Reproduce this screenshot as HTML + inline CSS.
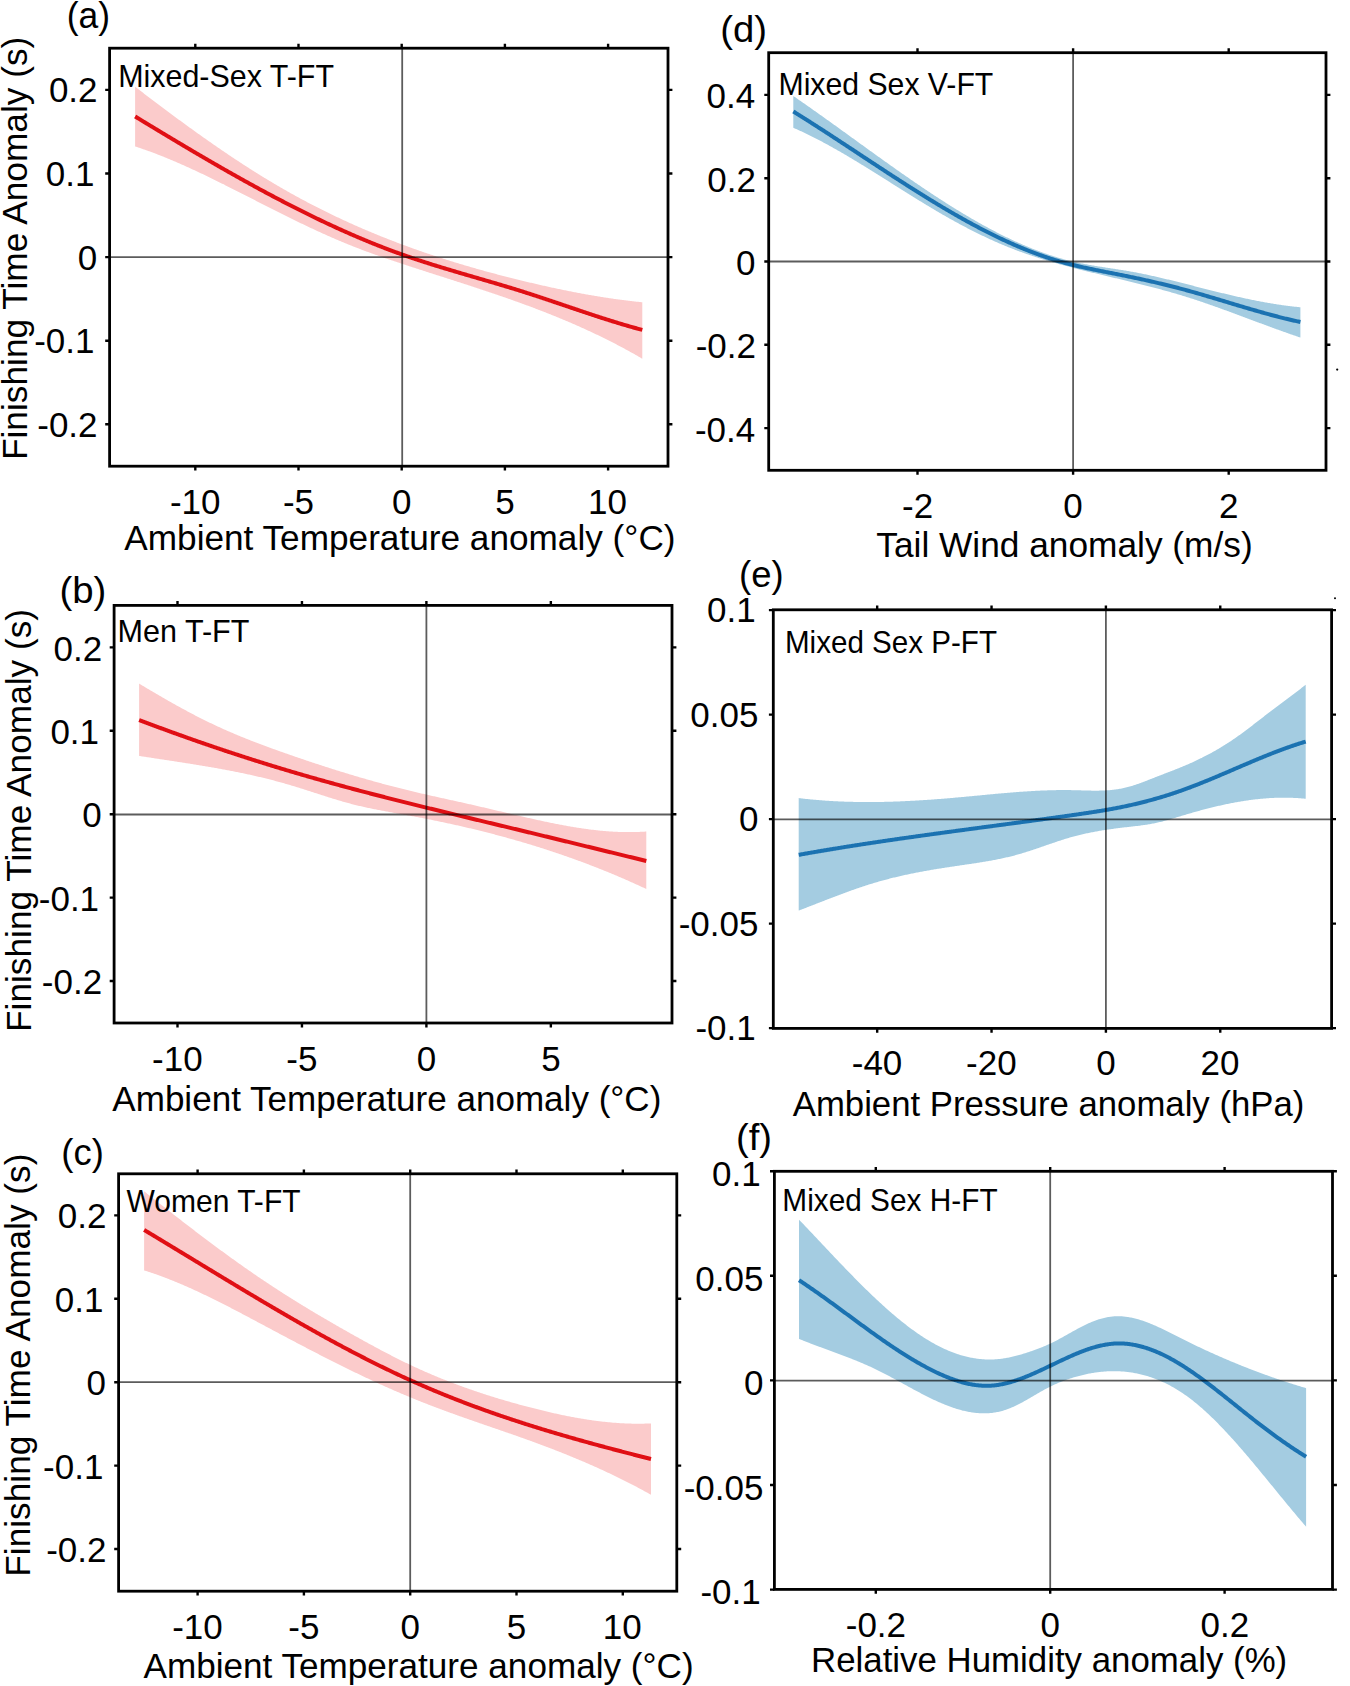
<!DOCTYPE html>
<html><head><meta charset="utf-8"><title>Figure</title>
<style>
html,body{margin:0;padding:0;background:#fff;}
body{width:1350px;height:1686px;overflow:hidden;}
svg{display:block;}
text{font-family:"Liberation Sans", sans-serif;fill:#000;}
.tl{font-size:35.00px;}
.al{font-size:35.00px;}
.pl{font-size:36.00px;}
.il{font-size:30.30px;}
</style></head>
<body>
<svg width="1350" height="1686" viewBox="0 0 1350 1686">
<rect x="0" y="0" width="1350" height="1686" fill="#fff"/>
<path d="M135.10,86.73 L136.10,87.50 L137.10,88.27 L138.10,89.03 L139.10,89.80 L140.10,90.57 L141.10,91.33 L142.10,92.10 L143.10,92.86 L144.10,93.63 L145.10,94.39 L146.10,95.15 L147.10,95.92 L148.11,96.68 L149.11,97.44 L150.11,98.20 L151.11,98.96 L152.11,99.72 L153.11,100.47 L154.11,101.23 L155.11,101.99 L156.11,102.74 L157.11,103.50 L158.11,104.25 L159.11,105.00 L160.11,105.76 L161.11,106.51 L162.11,107.26 L163.11,108.01 L164.11,108.76 L165.11,109.51 L166.11,110.25 L167.11,111.00 L168.11,111.75 L169.11,112.49 L170.11,113.23 L171.11,113.98 L172.11,114.72 L173.11,115.46 L174.12,116.20 L175.12,116.94 L176.12,117.68 L177.12,118.41 L178.12,119.15 L179.12,119.89 L180.12,120.62 L181.12,121.35 L182.12,122.08 L183.12,122.82 L184.12,123.55 L185.12,124.27 L186.12,125.00 L187.12,125.73 L188.12,126.45 L189.12,127.18 L190.12,127.90 L191.12,128.62 L192.12,129.35 L193.12,130.07 L194.12,130.78 L195.12,131.50 L196.12,132.22 L197.12,132.93 L198.12,133.65 L199.13,134.36 L200.13,135.07 L201.13,135.78 L202.13,136.49 L203.13,137.20 L204.13,137.91 L205.13,138.61 L206.13,139.32 L207.13,140.02 L208.13,140.72 L209.13,141.42 L210.13,142.12 L211.13,142.82 L212.13,143.51 L213.13,144.21 L214.13,144.90 L215.13,145.60 L216.13,146.29 L217.13,146.98 L218.13,147.66 L219.13,148.35 L220.13,149.04 L221.13,149.72 L222.13,150.40 L223.13,151.08 L224.14,151.76 L225.14,152.44 L226.14,153.12 L227.14,153.79 L228.14,154.47 L229.14,155.14 L230.14,155.81 L231.14,156.48 L232.14,157.15 L233.14,157.81 L234.14,158.48 L235.14,159.14 L236.14,159.80 L237.14,160.46 L238.14,161.12 L239.14,161.77 L240.14,162.43 L241.14,163.08 L242.14,163.73 L243.14,164.38 L244.14,165.03 L245.14,165.68 L246.14,166.32 L247.14,166.97 L248.14,167.61 L249.14,168.25 L250.15,168.89 L251.15,169.52 L252.15,170.16 L253.15,170.79 L254.15,171.42 L255.15,172.05 L256.15,172.68 L257.15,173.30 L258.15,173.93 L259.15,174.55 L260.15,175.17 L261.15,175.79 L262.15,176.40 L263.15,177.02 L264.15,177.63 L265.15,178.24 L266.15,178.85 L267.15,179.46 L268.15,180.06 L269.15,180.67 L270.15,181.27 L271.15,181.87 L272.15,182.47 L273.15,183.06 L274.15,183.66 L275.16,184.25 L276.16,184.84 L277.16,185.43 L278.16,186.01 L279.16,186.60 L280.16,187.18 L281.16,187.76 L282.16,188.33 L283.16,188.91 L284.16,189.48 L285.16,190.06 L286.16,190.62 L287.16,191.19 L288.16,191.76 L289.16,192.32 L290.16,192.88 L291.16,193.44 L292.16,194.00 L293.16,194.56 L294.16,195.11 L295.16,195.66 L296.16,196.21 L297.16,196.76 L298.16,197.31 L299.16,197.85 L300.17,198.39 L301.17,198.93 L302.17,199.47 L303.17,200.01 L304.17,200.54 L305.17,201.07 L306.17,201.60 L307.17,202.13 L308.17,202.66 L309.17,203.18 L310.17,203.71 L311.17,204.23 L312.17,204.75 L313.17,205.27 L314.17,205.78 L315.17,206.30 L316.17,206.81 L317.17,207.32 L318.17,207.83 L319.17,208.33 L320.17,208.84 L321.17,209.34 L322.17,209.84 L323.17,210.34 L324.17,210.84 L325.17,211.33 L326.18,211.83 L327.18,212.32 L328.18,212.81 L329.18,213.30 L330.18,213.78 L331.18,214.27 L332.18,214.75 L333.18,215.23 L334.18,215.71 L335.18,216.19 L336.18,216.67 L337.18,217.14 L338.18,217.61 L339.18,218.08 L340.18,218.55 L341.18,219.02 L342.18,219.49 L343.18,219.95 L344.18,220.41 L345.18,220.87 L346.18,221.33 L347.18,221.79 L348.18,222.25 L349.18,222.70 L350.18,223.15 L351.19,223.60 L352.19,224.05 L353.19,224.50 L354.19,224.95 L355.19,225.39 L356.19,225.83 L357.19,226.27 L358.19,226.71 L359.19,227.15 L360.19,227.59 L361.19,228.02 L362.19,228.45 L363.19,228.88 L364.19,229.31 L365.19,229.74 L366.19,230.17 L367.19,230.59 L368.19,231.02 L369.19,231.44 L370.19,231.86 L371.19,232.28 L372.19,232.69 L373.19,233.11 L374.19,233.52 L375.19,233.94 L376.20,234.35 L377.20,234.76 L378.20,235.16 L379.20,235.57 L380.20,235.98 L381.20,236.38 L382.20,236.78 L383.20,237.18 L384.20,237.58 L385.20,237.98 L386.20,238.37 L387.20,238.77 L388.20,239.16 L389.20,239.55 L390.20,239.94 L391.20,240.33 L392.20,240.72 L393.20,241.10 L394.20,241.49 L395.20,241.87 L396.20,242.25 L397.20,242.63 L398.20,243.01 L399.20,243.39 L400.20,243.77 L401.20,244.14 L402.21,244.51 L403.21,244.89 L404.21,245.26 L405.21,245.62 L406.21,245.99 L407.21,246.36 L408.21,246.72 L409.21,247.09 L410.21,247.45 L411.21,247.81 L412.21,248.17 L413.21,248.53 L414.21,248.88 L415.21,249.24 L416.21,249.59 L417.21,249.95 L418.21,250.30 L419.21,250.65 L420.21,251.00 L421.21,251.35 L422.21,251.69 L423.21,252.04 L424.21,252.38 L425.21,252.73 L426.21,253.07 L427.22,253.41 L428.22,253.75 L429.22,254.08 L430.22,254.42 L431.22,254.75 L432.22,255.09 L433.22,255.42 L434.22,255.75 L435.22,256.08 L436.22,256.41 L437.22,256.74 L438.22,257.07 L439.22,257.39 L440.22,257.72 L441.22,258.04 L442.22,258.36 L443.22,258.68 L444.22,259.00 L445.22,259.32 L446.22,259.64 L447.22,259.95 L448.22,260.27 L449.22,260.58 L450.22,260.89 L451.22,261.21 L452.23,261.52 L453.23,261.82 L454.23,262.13 L455.23,262.44 L456.23,262.75 L457.23,263.05 L458.23,263.35 L459.23,263.66 L460.23,263.96 L461.23,264.26 L462.23,264.56 L463.23,264.86 L464.23,265.15 L465.23,265.45 L466.23,265.74 L467.23,266.04 L468.23,266.33 L469.23,266.62 L470.23,266.91 L471.23,267.20 L472.23,267.49 L473.23,267.78 L474.23,268.07 L475.23,268.35 L476.23,268.64 L477.23,268.92 L478.24,269.20 L479.24,269.48 L480.24,269.76 L481.24,270.04 L482.24,270.32 L483.24,270.60 L484.24,270.88 L485.24,271.15 L486.24,271.43 L487.24,271.70 L488.24,271.97 L489.24,272.24 L490.24,272.52 L491.24,272.79 L492.24,273.05 L493.24,273.32 L494.24,273.59 L495.24,273.86 L496.24,274.12 L497.24,274.39 L498.24,274.65 L499.24,274.91 L500.24,275.17 L501.24,275.44 L502.24,275.70 L503.25,275.95 L504.25,276.21 L505.25,276.47 L506.25,276.73 L507.25,276.98 L508.25,277.24 L509.25,277.49 L510.25,277.74 L511.25,278.00 L512.25,278.25 L513.25,278.50 L514.25,278.75 L515.25,279.00 L516.25,279.25 L517.25,279.49 L518.25,279.74 L519.25,279.98 L520.25,280.23 L521.25,280.47 L522.25,280.72 L523.25,280.96 L524.25,281.20 L525.25,281.44 L526.25,281.68 L527.25,281.92 L528.26,282.16 L529.26,282.40 L530.26,282.64 L531.26,282.87 L532.26,283.11 L533.26,283.34 L534.26,283.58 L535.26,283.81 L536.26,284.04 L537.26,284.27 L538.26,284.50 L539.26,284.73 L540.26,284.96 L541.26,285.19 L542.26,285.42 L543.26,285.64 L544.26,285.87 L545.26,286.09 L546.26,286.31 L547.26,286.54 L548.26,286.76 L549.26,286.98 L550.26,287.20 L551.26,287.41 L552.26,287.63 L553.26,287.85 L554.27,288.06 L555.27,288.28 L556.27,288.49 L557.27,288.70 L558.27,288.91 L559.27,289.12 L560.27,289.33 L561.27,289.54 L562.27,289.75 L563.27,289.95 L564.27,290.16 L565.27,290.36 L566.27,290.57 L567.27,290.77 L568.27,290.97 L569.27,291.17 L570.27,291.37 L571.27,291.56 L572.27,291.76 L573.27,291.96 L574.27,292.15 L575.27,292.34 L576.27,292.53 L577.27,292.72 L578.27,292.91 L579.28,293.10 L580.28,293.29 L581.28,293.47 L582.28,293.66 L583.28,293.84 L584.28,294.02 L585.28,294.21 L586.28,294.39 L587.28,294.56 L588.28,294.74 L589.28,294.92 L590.28,295.09 L591.28,295.27 L592.28,295.44 L593.28,295.61 L594.28,295.78 L595.28,295.95 L596.28,296.11 L597.28,296.28 L598.28,296.44 L599.28,296.61 L600.28,296.77 L601.28,296.93 L602.28,297.09 L603.28,297.25 L604.29,297.40 L605.29,297.56 L606.29,297.71 L607.29,297.86 L608.29,298.01 L609.29,298.16 L610.29,298.31 L611.29,298.46 L612.29,298.60 L613.29,298.75 L614.29,298.89 L615.29,299.03 L616.29,299.17 L617.29,299.31 L618.29,299.44 L619.29,299.58 L620.29,299.71 L621.29,299.85 L622.29,299.98 L623.29,300.11 L624.29,300.23 L625.29,300.36 L626.29,300.48 L627.29,300.61 L628.29,300.73 L629.29,300.85 L630.30,300.97 L631.30,301.08 L632.30,301.20 L633.30,301.31 L634.30,301.42 L635.30,301.54 L636.30,301.64 L637.30,301.75 L638.30,301.86 L639.30,301.96 L640.30,302.06 L641.30,302.16 L642.30,302.26 L642.30,358.71 L641.30,358.13 L640.30,357.55 L639.30,356.97 L638.30,356.40 L637.30,355.83 L636.30,355.26 L635.30,354.69 L634.30,354.12 L633.30,353.56 L632.30,353.00 L631.30,352.44 L630.30,351.89 L629.29,351.34 L628.29,350.79 L627.29,350.24 L626.29,349.69 L625.29,349.15 L624.29,348.61 L623.29,348.07 L622.29,347.54 L621.29,347.00 L620.29,346.47 L619.29,345.94 L618.29,345.42 L617.29,344.89 L616.29,344.37 L615.29,343.85 L614.29,343.33 L613.29,342.82 L612.29,342.31 L611.29,341.80 L610.29,341.29 L609.29,340.78 L608.29,340.28 L607.29,339.78 L606.29,339.28 L605.29,338.78 L604.29,338.28 L603.28,337.79 L602.28,337.30 L601.28,336.81 L600.28,336.32 L599.28,335.84 L598.28,335.35 L597.28,334.87 L596.28,334.39 L595.28,333.92 L594.28,333.44 L593.28,332.97 L592.28,332.50 L591.28,332.03 L590.28,331.56 L589.28,331.10 L588.28,330.63 L587.28,330.17 L586.28,329.71 L585.28,329.26 L584.28,328.80 L583.28,328.35 L582.28,327.89 L581.28,327.44 L580.28,327.00 L579.28,326.55 L578.27,326.11 L577.27,325.66 L576.27,325.22 L575.27,324.78 L574.27,324.34 L573.27,323.91 L572.27,323.47 L571.27,323.04 L570.27,322.61 L569.27,322.18 L568.27,321.75 L567.27,321.33 L566.27,320.90 L565.27,320.48 L564.27,320.06 L563.27,319.64 L562.27,319.22 L561.27,318.81 L560.27,318.39 L559.27,317.98 L558.27,317.57 L557.27,317.16 L556.27,316.75 L555.27,316.34 L554.27,315.94 L553.26,315.53 L552.26,315.13 L551.26,314.73 L550.26,314.33 L549.26,313.93 L548.26,313.53 L547.26,313.14 L546.26,312.74 L545.26,312.35 L544.26,311.96 L543.26,311.57 L542.26,311.18 L541.26,310.79 L540.26,310.41 L539.26,310.02 L538.26,309.64 L537.26,309.26 L536.26,308.88 L535.26,308.50 L534.26,308.12 L533.26,307.74 L532.26,307.36 L531.26,306.99 L530.26,306.62 L529.26,306.24 L528.26,305.87 L527.25,305.50 L526.25,305.13 L525.25,304.76 L524.25,304.40 L523.25,304.03 L522.25,303.67 L521.25,303.30 L520.25,302.94 L519.25,302.58 L518.25,302.22 L517.25,301.86 L516.25,301.50 L515.25,301.14 L514.25,300.78 L513.25,300.43 L512.25,300.07 L511.25,299.72 L510.25,299.37 L509.25,299.01 L508.25,298.66 L507.25,298.31 L506.25,297.96 L505.25,297.61 L504.25,297.27 L503.25,296.92 L502.24,296.57 L501.24,296.23 L500.24,295.88 L499.24,295.54 L498.24,295.20 L497.24,294.85 L496.24,294.51 L495.24,294.17 L494.24,293.83 L493.24,293.49 L492.24,293.15 L491.24,292.81 L490.24,292.48 L489.24,292.14 L488.24,291.80 L487.24,291.47 L486.24,291.13 L485.24,290.80 L484.24,290.47 L483.24,290.13 L482.24,289.80 L481.24,289.47 L480.24,289.14 L479.24,288.81 L478.24,288.47 L477.23,288.14 L476.23,287.82 L475.23,287.49 L474.23,287.16 L473.23,286.83 L472.23,286.50 L471.23,286.17 L470.23,285.85 L469.23,285.52 L468.23,285.19 L467.23,284.87 L466.23,284.54 L465.23,284.22 L464.23,283.89 L463.23,283.57 L462.23,283.24 L461.23,282.92 L460.23,282.60 L459.23,282.27 L458.23,281.95 L457.23,281.63 L456.23,281.30 L455.23,280.98 L454.23,280.66 L453.23,280.34 L452.23,280.02 L451.22,279.69 L450.22,279.37 L449.22,279.05 L448.22,278.73 L447.22,278.41 L446.22,278.09 L445.22,277.77 L444.22,277.44 L443.22,277.12 L442.22,276.80 L441.22,276.48 L440.22,276.16 L439.22,275.84 L438.22,275.52 L437.22,275.20 L436.22,274.88 L435.22,274.56 L434.22,274.23 L433.22,273.91 L432.22,273.59 L431.22,273.27 L430.22,272.95 L429.22,272.63 L428.22,272.31 L427.22,271.98 L426.21,271.66 L425.21,271.34 L424.21,271.02 L423.21,270.69 L422.21,270.37 L421.21,270.05 L420.21,269.72 L419.21,269.40 L418.21,269.08 L417.21,268.75 L416.21,268.43 L415.21,268.10 L414.21,267.78 L413.21,267.45 L412.21,267.13 L411.21,266.80 L410.21,266.48 L409.21,266.15 L408.21,265.82 L407.21,265.49 L406.21,265.17 L405.21,264.84 L404.21,264.51 L403.21,264.18 L402.21,263.85 L401.20,263.52 L400.20,263.19 L399.20,262.86 L398.20,262.52 L397.20,262.19 L396.20,261.86 L395.20,261.52 L394.20,261.19 L393.20,260.85 L392.20,260.52 L391.20,260.18 L390.20,259.84 L389.20,259.50 L388.20,259.16 L387.20,258.82 L386.20,258.48 L385.20,258.14 L384.20,257.79 L383.20,257.45 L382.20,257.10 L381.20,256.75 L380.20,256.41 L379.20,256.06 L378.20,255.70 L377.20,255.35 L376.20,255.00 L375.19,254.64 L374.19,254.29 L373.19,253.93 L372.19,253.57 L371.19,253.21 L370.19,252.84 L369.19,252.48 L368.19,252.11 L367.19,251.74 L366.19,251.38 L365.19,251.00 L364.19,250.63 L363.19,250.26 L362.19,249.88 L361.19,249.50 L360.19,249.12 L359.19,248.74 L358.19,248.35 L357.19,247.97 L356.19,247.58 L355.19,247.19 L354.19,246.79 L353.19,246.40 L352.19,246.00 L351.19,245.60 L350.18,245.20 L349.18,244.80 L348.18,244.39 L347.18,243.99 L346.18,243.58 L345.18,243.17 L344.18,242.75 L343.18,242.34 L342.18,241.92 L341.18,241.50 L340.18,241.08 L339.18,240.66 L338.18,240.23 L337.18,239.81 L336.18,239.38 L335.18,238.95 L334.18,238.52 L333.18,238.08 L332.18,237.65 L331.18,237.21 L330.18,236.77 L329.18,236.33 L328.18,235.89 L327.18,235.44 L326.18,235.00 L325.17,234.55 L324.17,234.10 L323.17,233.65 L322.17,233.20 L321.17,232.75 L320.17,232.29 L319.17,231.84 L318.17,231.38 L317.17,230.92 L316.17,230.46 L315.17,230.00 L314.17,229.53 L313.17,229.07 L312.17,228.60 L311.17,228.13 L310.17,227.66 L309.17,227.19 L308.17,226.72 L307.17,226.25 L306.17,225.78 L305.17,225.30 L304.17,224.82 L303.17,224.35 L302.17,223.87 L301.17,223.39 L300.17,222.90 L299.16,222.42 L298.16,221.94 L297.16,221.45 L296.16,220.97 L295.16,220.48 L294.16,219.99 L293.16,219.50 L292.16,219.01 L291.16,218.52 L290.16,218.03 L289.16,217.54 L288.16,217.05 L287.16,216.55 L286.16,216.05 L285.16,215.56 L284.16,215.06 L283.16,214.56 L282.16,214.06 L281.16,213.56 L280.16,213.06 L279.16,212.56 L278.16,212.06 L277.16,211.56 L276.16,211.05 L275.16,210.55 L274.15,210.05 L273.15,209.54 L272.15,209.03 L271.15,208.53 L270.15,208.02 L269.15,207.51 L268.15,207.01 L267.15,206.50 L266.15,205.99 L265.15,205.48 L264.15,204.97 L263.15,204.46 L262.15,203.95 L261.15,203.44 L260.15,202.93 L259.15,202.42 L258.15,201.91 L257.15,201.40 L256.15,200.89 L255.15,200.37 L254.15,199.86 L253.15,199.35 L252.15,198.84 L251.15,198.33 L250.15,197.82 L249.14,197.31 L248.14,196.79 L247.14,196.28 L246.14,195.77 L245.14,195.26 L244.14,194.75 L243.14,194.24 L242.14,193.73 L241.14,193.22 L240.14,192.71 L239.14,192.20 L238.14,191.69 L237.14,191.18 L236.14,190.68 L235.14,190.17 L234.14,189.66 L233.14,189.16 L232.14,188.65 L231.14,188.14 L230.14,187.64 L229.14,187.14 L228.14,186.63 L227.14,186.13 L226.14,185.63 L225.14,185.13 L224.14,184.62 L223.13,184.12 L222.13,183.63 L221.13,183.13 L220.13,182.63 L219.13,182.13 L218.13,181.64 L217.13,181.14 L216.13,180.65 L215.13,180.16 L214.13,179.67 L213.13,179.17 L212.13,178.69 L211.13,178.20 L210.13,177.71 L209.13,177.22 L208.13,176.74 L207.13,176.26 L206.13,175.77 L205.13,175.29 L204.13,174.81 L203.13,174.33 L202.13,173.86 L201.13,173.38 L200.13,172.91 L199.13,172.43 L198.12,171.96 L197.12,171.49 L196.12,171.02 L195.12,170.56 L194.12,170.09 L193.12,169.63 L192.12,169.17 L191.12,168.71 L190.12,168.25 L189.12,167.79 L188.12,167.34 L187.12,166.88 L186.12,166.43 L185.12,165.98 L184.12,165.54 L183.12,165.09 L182.12,164.65 L181.12,164.20 L180.12,163.76 L179.12,163.33 L178.12,162.89 L177.12,162.46 L176.12,162.02 L175.12,161.59 L174.12,161.17 L173.11,160.74 L172.11,160.32 L171.11,159.90 L170.11,159.48 L169.11,159.06 L168.11,158.65 L167.11,158.24 L166.11,157.83 L165.11,157.42 L164.11,157.02 L163.11,156.61 L162.11,156.21 L161.11,155.82 L160.11,155.42 L159.11,155.03 L158.11,154.64 L157.11,154.25 L156.11,153.87 L155.11,153.49 L154.11,153.11 L153.11,152.73 L152.11,152.36 L151.11,151.99 L150.11,151.62 L149.11,151.26 L148.11,150.89 L147.10,150.53 L146.10,150.18 L145.10,149.82 L144.10,149.47 L143.10,149.13 L142.10,148.78 L141.10,148.44 L140.10,148.10 L139.10,147.77 L138.10,147.44 L137.10,147.11 L136.10,146.78 L135.10,146.46 Z" fill="#fbcbcb"/>
<path d="M135.10,116.47 L136.10,117.08 L137.10,117.69 L138.10,118.30 L139.10,118.91 L140.10,119.52 L141.10,120.13 L142.10,120.74 L143.10,121.34 L144.10,121.95 L145.10,122.56 L146.10,123.17 L147.10,123.77 L148.11,124.38 L149.11,124.99 L150.11,125.59 L151.11,126.20 L152.11,126.81 L153.11,127.41 L154.11,128.02 L155.11,128.62 L156.11,129.23 L157.11,129.83 L158.11,130.44 L159.11,131.04 L160.11,131.64 L161.11,132.25 L162.11,132.85 L163.11,133.45 L164.11,134.05 L165.11,134.66 L166.11,135.26 L167.11,135.86 L168.11,136.46 L169.11,137.06 L170.11,137.66 L171.11,138.26 L172.11,138.86 L173.11,139.46 L174.12,140.06 L175.12,140.66 L176.12,141.25 L177.12,141.85 L178.12,142.45 L179.12,143.04 L180.12,143.64 L181.12,144.24 L182.12,144.83 L183.12,145.43 L184.12,146.02 L185.12,146.61 L186.12,147.21 L187.12,147.80 L188.12,148.39 L189.12,148.99 L190.12,149.58 L191.12,150.17 L192.12,150.76 L193.12,151.35 L194.12,151.94 L195.12,152.53 L196.12,153.12 L197.12,153.70 L198.12,154.29 L199.13,154.88 L200.13,155.46 L201.13,156.05 L202.13,156.63 L203.13,157.22 L204.13,157.80 L205.13,158.39 L206.13,158.97 L207.13,159.55 L208.13,160.13 L209.13,160.72 L210.13,161.30 L211.13,161.88 L212.13,162.45 L213.13,163.03 L214.13,163.61 L215.13,164.19 L216.13,164.77 L217.13,165.34 L218.13,165.92 L219.13,166.49 L220.13,167.07 L221.13,167.64 L222.13,168.21 L223.13,168.78 L224.14,169.36 L225.14,169.93 L226.14,170.50 L227.14,171.07 L228.14,171.63 L229.14,172.20 L230.14,172.77 L231.14,173.34 L232.14,173.90 L233.14,174.47 L234.14,175.03 L235.14,175.59 L236.14,176.16 L237.14,176.72 L238.14,177.28 L239.14,177.84 L240.14,178.40 L241.14,178.96 L242.14,179.52 L243.14,180.07 L244.14,180.63 L245.14,181.19 L246.14,181.74 L247.14,182.30 L248.14,182.85 L249.14,183.40 L250.15,183.95 L251.15,184.50 L252.15,185.05 L253.15,185.60 L254.15,186.15 L255.15,186.70 L256.15,187.24 L257.15,187.79 L258.15,188.33 L259.15,188.88 L260.15,189.42 L261.15,189.96 L262.15,190.50 L263.15,191.04 L264.15,191.58 L265.15,192.12 L266.15,192.66 L267.15,193.19 L268.15,193.73 L269.15,194.26 L270.15,194.80 L271.15,195.33 L272.15,195.86 L273.15,196.39 L274.15,196.92 L275.16,197.45 L276.16,197.98 L277.16,198.50 L278.16,199.03 L279.16,199.55 L280.16,200.08 L281.16,200.60 L282.16,201.12 L283.16,201.64 L284.16,202.16 L285.16,202.68 L286.16,203.20 L287.16,203.72 L288.16,204.23 L289.16,204.74 L290.16,205.26 L291.16,205.77 L292.16,206.28 L293.16,206.79 L294.16,207.30 L295.16,207.81 L296.16,208.31 L297.16,208.82 L298.16,209.32 L299.16,209.83 L300.17,210.33 L301.17,210.83 L302.17,211.33 L303.17,211.83 L304.17,212.33 L305.17,212.82 L306.17,213.32 L307.17,213.81 L308.17,214.31 L309.17,214.80 L310.17,215.29 L311.17,215.78 L312.17,216.26 L313.17,216.75 L314.17,217.24 L315.17,217.72 L316.17,218.21 L317.17,218.69 L318.17,219.17 L319.17,219.65 L320.17,220.13 L321.17,220.60 L322.17,221.08 L323.17,221.55 L324.17,222.03 L325.17,222.50 L326.18,222.97 L327.18,223.44 L328.18,223.91 L329.18,224.37 L330.18,224.84 L331.18,225.30 L332.18,225.77 L333.18,226.23 L334.18,226.69 L335.18,227.15 L336.18,227.60 L337.18,228.06 L338.18,228.52 L339.18,228.97 L340.18,229.42 L341.18,229.87 L342.18,230.32 L343.18,230.77 L344.18,231.22 L345.18,231.66 L346.18,232.10 L347.18,232.55 L348.18,232.99 L349.18,233.43 L350.18,233.87 L351.19,234.30 L352.19,234.74 L353.19,235.17 L354.19,235.60 L355.19,236.04 L356.19,236.47 L357.19,236.89 L358.19,237.32 L359.19,237.74 L360.19,238.17 L361.19,238.59 L362.19,239.01 L363.19,239.43 L364.19,239.85 L365.19,240.26 L366.19,240.68 L367.19,241.09 L368.19,241.50 L369.19,241.91 L370.19,242.32 L371.19,242.73 L372.19,243.13 L373.19,243.54 L374.19,243.94 L375.19,244.34 L376.20,244.74 L377.20,245.14 L378.20,245.53 L379.20,245.93 L380.20,246.32 L381.20,246.71 L382.20,247.10 L383.20,247.49 L384.20,247.88 L385.20,248.26 L386.20,248.64 L387.20,249.03 L388.20,249.41 L389.20,249.78 L390.20,250.16 L391.20,250.54 L392.20,250.91 L393.20,251.28 L394.20,251.65 L395.20,252.02 L396.20,252.38 L397.20,252.75 L398.20,253.11 L399.20,253.47 L400.20,253.83 L401.20,254.19 L402.21,254.55 L403.21,254.90 L404.21,255.25 L405.21,255.61 L406.21,255.96 L407.21,256.30 L408.21,256.65 L409.21,256.99 L410.21,257.34 L411.21,257.68 L412.21,258.02 L413.21,258.36 L414.21,258.69 L415.21,259.03 L416.21,259.36 L417.21,259.70 L418.21,260.03 L419.21,260.36 L420.21,260.69 L421.21,261.01 L422.21,261.34 L423.21,261.66 L424.21,261.99 L425.21,262.31 L426.21,262.63 L427.22,262.95 L428.22,263.27 L429.22,263.59 L430.22,263.91 L431.22,264.22 L432.22,264.54 L433.22,264.85 L434.22,265.16 L435.22,265.47 L436.22,265.78 L437.22,266.09 L438.22,266.40 L439.22,266.71 L440.22,267.02 L441.22,267.32 L442.22,267.63 L443.22,267.93 L444.22,268.24 L445.22,268.54 L446.22,268.84 L447.22,269.14 L448.22,269.44 L449.22,269.74 L450.22,270.04 L451.22,270.34 L452.23,270.64 L453.23,270.94 L454.23,271.24 L455.23,271.53 L456.23,271.83 L457.23,272.13 L458.23,272.42 L459.23,272.72 L460.23,273.01 L461.23,273.30 L462.23,273.60 L463.23,273.89 L464.23,274.18 L465.23,274.48 L466.23,274.77 L467.23,275.06 L468.23,275.35 L469.23,275.65 L470.23,275.94 L471.23,276.23 L472.23,276.52 L473.23,276.81 L474.23,277.10 L475.23,277.40 L476.23,277.69 L477.23,277.98 L478.24,278.27 L479.24,278.56 L480.24,278.85 L481.24,279.14 L482.24,279.44 L483.24,279.73 L484.24,280.02 L485.24,280.31 L486.24,280.60 L487.24,280.90 L488.24,281.19 L489.24,281.48 L490.24,281.77 L491.24,282.07 L492.24,282.36 L493.24,282.66 L494.24,282.95 L495.24,283.25 L496.24,283.54 L497.24,283.84 L498.24,284.13 L499.24,284.43 L500.24,284.73 L501.24,285.03 L502.24,285.33 L503.25,285.62 L504.25,285.92 L505.25,286.22 L506.25,286.53 L507.25,286.83 L508.25,287.13 L509.25,287.43 L510.25,287.74 L511.25,288.04 L512.25,288.35 L513.25,288.65 L514.25,288.96 L515.25,289.27 L516.25,289.58 L517.25,289.89 L518.25,290.20 L519.25,290.51 L520.25,290.83 L521.25,291.14 L522.25,291.45 L523.25,291.77 L524.25,292.09 L525.25,292.41 L526.25,292.73 L527.25,293.05 L528.26,293.37 L529.26,293.69 L530.26,294.01 L531.26,294.34 L532.26,294.66 L533.26,294.99 L534.26,295.31 L535.26,295.64 L536.26,295.97 L537.26,296.30 L538.26,296.63 L539.26,296.96 L540.26,297.29 L541.26,297.62 L542.26,297.95 L543.26,298.29 L544.26,298.62 L545.26,298.95 L546.26,299.29 L547.26,299.62 L548.26,299.96 L549.26,300.29 L550.26,300.63 L551.26,300.97 L552.26,301.30 L553.26,301.64 L554.27,301.98 L555.27,302.32 L556.27,302.66 L557.27,302.99 L558.27,303.33 L559.27,303.67 L560.27,304.01 L561.27,304.35 L562.27,304.69 L563.27,305.03 L564.27,305.37 L565.27,305.71 L566.27,306.05 L567.27,306.39 L568.27,306.73 L569.27,307.07 L570.27,307.40 L571.27,307.74 L572.27,308.08 L573.27,308.42 L574.27,308.76 L575.27,309.10 L576.27,309.44 L577.27,309.77 L578.27,310.11 L579.28,310.45 L580.28,310.79 L581.28,311.12 L582.28,311.46 L583.28,311.79 L584.28,312.13 L585.28,312.46 L586.28,312.80 L587.28,313.13 L588.28,313.47 L589.28,313.80 L590.28,314.13 L591.28,314.46 L592.28,314.79 L593.28,315.12 L594.28,315.45 L595.28,315.78 L596.28,316.11 L597.28,316.43 L598.28,316.76 L599.28,317.08 L600.28,317.41 L601.28,317.73 L602.28,318.06 L603.28,318.38 L604.29,318.70 L605.29,319.02 L606.29,319.34 L607.29,319.65 L608.29,319.97 L609.29,320.28 L610.29,320.60 L611.29,320.91 L612.29,321.22 L613.29,321.53 L614.29,321.84 L615.29,322.15 L616.29,322.46 L617.29,322.76 L618.29,323.07 L619.29,323.37 L620.29,323.67 L621.29,323.97 L622.29,324.27 L623.29,324.57 L624.29,324.86 L625.29,325.16 L626.29,325.45 L627.29,325.74 L628.29,326.03 L629.29,326.32 L630.30,326.61 L631.30,326.89 L632.30,327.17 L633.30,327.45 L634.30,327.73 L635.30,328.01 L636.30,328.29 L637.30,328.56 L638.30,328.83 L639.30,329.10 L640.30,329.37 L641.30,329.64 L642.30,329.90" fill="none" stroke="#e00f14" stroke-width="4.00" stroke-linejoin="round"/>
<path d="M109.60,257.10 H668.00" stroke="#000" stroke-opacity="0.64" stroke-width="1.80" fill="none"/>
<path d="M402.20,48.20 V466.20" stroke="#000" stroke-opacity="0.64" stroke-width="1.80" fill="none"/>
<rect x="109.60" y="48.20" width="558.40" height="418.00" fill="none" stroke="#000" stroke-width="2.80"/>
<path d="M195.30,466.20 v4.40 M195.30,48.20 v-4.40 M298.50,466.20 v4.40 M298.50,48.20 v-4.40 M401.70,466.20 v4.40 M401.70,48.20 v-4.40 M504.90,466.20 v4.40 M504.90,48.20 v-4.40 M608.10,466.20 v4.40 M608.10,48.20 v-4.40 M109.60,424.30 h-4.40 M668.00,424.30 h4.40 M109.60,340.70 h-4.40 M668.00,340.70 h4.40 M109.60,257.10 h-4.40 M668.00,257.10 h4.40 M109.60,173.50 h-4.40 M668.00,173.50 h4.40 M109.60,89.90 h-4.40 M668.00,89.90 h4.40" stroke="#000" stroke-width="2.4" fill="none"/>
<text transform="translate(169.88,513.70) scale(1,1.015)" class="tl">-10</text>
<text transform="translate(282.88,513.70) scale(1,1.015)" class="tl">-5</text>
<text transform="translate(391.94,513.70) scale(1,1.015)" class="tl">0</text>
<text transform="translate(495.19,513.70) scale(1,1.015)" class="tl">5</text>
<text transform="translate(588.02,513.70) scale(1,1.015)" class="tl">10</text>
<text transform="translate(37.26,436.85) scale(1,1.015)" class="tl">-0.2</text>
<text transform="translate(34.18,353.25) scale(1,1.015)" class="tl">-0.1</text>
<text transform="translate(77.69,269.65) scale(1,1.015)" class="tl">0</text>
<text transform="translate(45.81,186.05) scale(1,1.015)" class="tl">0.1</text>
<text transform="translate(48.90,102.45) scale(1,1.015)" class="tl">0.2</text>
<text transform="translate(124.31,549.60) scale(1,1.020)" x="0" y="0" class="al" textLength="551.22" lengthAdjust="spacingAndGlyphs">Ambient Temperature anomaly (°C)</text>
<text transform="translate(26.70,460.01) rotate(-90) scale(1,1.020)" x="0" y="0" class="al" textLength="423.29" lengthAdjust="spacingAndGlyphs">Finishing Time Anomaly (s)</text>
<text transform="translate(66.78,28.40) scale(1,1.000)" x="0" y="0" class="pl" textLength="43.32" lengthAdjust="spacingAndGlyphs">(a)</text>
<text transform="translate(118.19,86.70) scale(1,1.020)" x="0" y="0" class="il" textLength="215.84" lengthAdjust="spacingAndGlyphs">Mixed-Sex T-FT</text>
<path d="M139.10,683.59 L140.10,684.19 L141.10,684.79 L142.10,685.39 L143.10,685.99 L144.10,686.59 L145.10,687.18 L146.10,687.78 L147.10,688.38 L148.10,688.97 L149.10,689.56 L150.10,690.16 L151.10,690.75 L152.11,691.34 L153.11,691.93 L154.11,692.52 L155.11,693.11 L156.11,693.69 L157.11,694.28 L158.11,694.86 L159.11,695.44 L160.11,696.03 L161.11,696.61 L162.11,697.19 L163.11,697.76 L164.11,698.34 L165.11,698.92 L166.11,699.49 L167.11,700.06 L168.11,700.63 L169.11,701.20 L170.11,701.77 L171.11,702.34 L172.11,702.90 L173.11,703.46 L174.11,704.02 L175.11,704.58 L176.11,705.14 L177.11,705.70 L178.12,706.25 L179.12,706.81 L180.12,707.36 L181.12,707.91 L182.12,708.45 L183.12,709.00 L184.12,709.54 L185.12,710.08 L186.12,710.62 L187.12,711.16 L188.12,711.70 L189.12,712.23 L190.12,712.76 L191.12,713.29 L192.12,713.82 L193.12,714.34 L194.12,714.86 L195.12,715.38 L196.12,715.90 L197.12,716.42 L198.12,716.93 L199.12,717.44 L200.12,717.95 L201.12,718.45 L202.12,718.96 L203.13,719.46 L204.13,719.96 L205.13,720.45 L206.13,720.95 L207.13,721.44 L208.13,721.93 L209.13,722.41 L210.13,722.89 L211.13,723.37 L212.13,723.85 L213.13,724.32 L214.13,724.80 L215.13,725.27 L216.13,725.73 L217.13,726.20 L218.13,726.66 L219.13,727.12 L220.13,727.57 L221.13,728.03 L222.13,728.48 L223.13,728.93 L224.13,729.38 L225.13,729.82 L226.13,730.26 L227.13,730.70 L228.14,731.14 L229.14,731.57 L230.14,732.01 L231.14,732.44 L232.14,732.87 L233.14,733.29 L234.14,733.72 L235.14,734.14 L236.14,734.56 L237.14,734.98 L238.14,735.40 L239.14,735.81 L240.14,736.22 L241.14,736.63 L242.14,737.04 L243.14,737.45 L244.14,737.85 L245.14,738.25 L246.14,738.65 L247.14,739.05 L248.14,739.45 L249.14,739.85 L250.14,740.24 L251.14,740.63 L252.14,741.02 L253.14,741.41 L254.15,741.80 L255.15,742.19 L256.15,742.57 L257.15,742.95 L258.15,743.34 L259.15,743.71 L260.15,744.09 L261.15,744.47 L262.15,744.85 L263.15,745.22 L264.15,745.59 L265.15,745.96 L266.15,746.34 L267.15,746.70 L268.15,747.07 L269.15,747.44 L270.15,747.80 L271.15,748.17 L272.15,748.53 L273.15,748.89 L274.15,749.25 L275.15,749.61 L276.15,749.97 L277.15,750.33 L278.15,750.69 L279.16,751.04 L280.16,751.40 L281.16,751.75 L282.16,752.11 L283.16,752.46 L284.16,752.81 L285.16,753.16 L286.16,753.51 L287.16,753.86 L288.16,754.21 L289.16,754.56 L290.16,754.91 L291.16,755.25 L292.16,755.60 L293.16,755.95 L294.16,756.29 L295.16,756.63 L296.16,756.98 L297.16,757.32 L298.16,757.66 L299.16,758.01 L300.16,758.35 L301.16,758.69 L302.16,759.03 L303.16,759.37 L304.17,759.70 L305.17,760.04 L306.17,760.38 L307.17,760.71 L308.17,761.05 L309.17,761.38 L310.17,761.72 L311.17,762.05 L312.17,762.38 L313.17,762.72 L314.17,763.05 L315.17,763.38 L316.17,763.71 L317.17,764.04 L318.17,764.37 L319.17,764.69 L320.17,765.02 L321.17,765.35 L322.17,765.67 L323.17,766.00 L324.17,766.32 L325.17,766.64 L326.17,766.96 L327.17,767.29 L328.17,767.61 L329.17,767.93 L330.18,768.24 L331.18,768.56 L332.18,768.88 L333.18,769.20 L334.18,769.51 L335.18,769.83 L336.18,770.14 L337.18,770.45 L338.18,770.77 L339.18,771.08 L340.18,771.39 L341.18,771.70 L342.18,772.01 L343.18,772.32 L344.18,772.62 L345.18,772.93 L346.18,773.24 L347.18,773.54 L348.18,773.84 L349.18,774.15 L350.18,774.45 L351.18,774.75 L352.18,775.05 L353.18,775.35 L354.18,775.65 L355.19,775.95 L356.19,776.24 L357.19,776.54 L358.19,776.84 L359.19,777.13 L360.19,777.42 L361.19,777.71 L362.19,778.01 L363.19,778.30 L364.19,778.59 L365.19,778.87 L366.19,779.16 L367.19,779.45 L368.19,779.73 L369.19,780.02 L370.19,780.30 L371.19,780.58 L372.19,780.87 L373.19,781.15 L374.19,781.43 L375.19,781.70 L376.19,781.98 L377.19,782.26 L378.19,782.54 L379.19,782.81 L380.20,783.08 L381.20,783.36 L382.20,783.63 L383.20,783.90 L384.20,784.17 L385.20,784.44 L386.20,784.70 L387.20,784.97 L388.20,785.24 L389.20,785.50 L390.20,785.76 L391.20,786.03 L392.20,786.29 L393.20,786.55 L394.20,786.81 L395.20,787.07 L396.20,787.32 L397.20,787.58 L398.20,787.83 L399.20,788.09 L400.20,788.34 L401.20,788.59 L402.20,788.84 L403.20,789.09 L404.20,789.34 L405.20,789.59 L406.21,789.83 L407.21,790.08 L408.21,790.32 L409.21,790.56 L410.21,790.80 L411.21,791.04 L412.21,791.28 L413.21,791.52 L414.21,791.76 L415.21,792.00 L416.21,792.23 L417.21,792.47 L418.21,792.70 L419.21,792.93 L420.21,793.17 L421.21,793.40 L422.21,793.63 L423.21,793.86 L424.21,794.09 L425.21,794.32 L426.21,794.55 L427.21,794.77 L428.21,795.00 L429.21,795.23 L430.21,795.45 L431.22,795.68 L432.22,795.90 L433.22,796.13 L434.22,796.35 L435.22,796.58 L436.22,796.80 L437.22,797.02 L438.22,797.25 L439.22,797.47 L440.22,797.69 L441.22,797.91 L442.22,798.13 L443.22,798.36 L444.22,798.58 L445.22,798.80 L446.22,799.02 L447.22,799.24 L448.22,799.46 L449.22,799.68 L450.22,799.91 L451.22,800.13 L452.22,800.35 L453.22,800.57 L454.22,800.79 L455.22,801.01 L456.23,801.23 L457.23,801.46 L458.23,801.68 L459.23,801.90 L460.23,802.12 L461.23,802.35 L462.23,802.57 L463.23,802.79 L464.23,803.02 L465.23,803.24 L466.23,803.47 L467.23,803.69 L468.23,803.92 L469.23,804.15 L470.23,804.37 L471.23,804.60 L472.23,804.83 L473.23,805.06 L474.23,805.29 L475.23,805.52 L476.23,805.75 L477.23,805.98 L478.23,806.21 L479.23,806.44 L480.23,806.67 L481.23,806.91 L482.24,807.14 L483.24,807.37 L484.24,807.61 L485.24,807.84 L486.24,808.07 L487.24,808.31 L488.24,808.54 L489.24,808.78 L490.24,809.01 L491.24,809.25 L492.24,809.48 L493.24,809.72 L494.24,809.95 L495.24,810.19 L496.24,810.42 L497.24,810.66 L498.24,810.90 L499.24,811.13 L500.24,811.37 L501.24,811.60 L502.24,811.84 L503.24,812.07 L504.24,812.31 L505.24,812.55 L506.24,812.78 L507.25,813.02 L508.25,813.25 L509.25,813.49 L510.25,813.72 L511.25,813.96 L512.25,814.19 L513.25,814.42 L514.25,814.66 L515.25,814.89 L516.25,815.12 L517.25,815.36 L518.25,815.59 L519.25,815.82 L520.25,816.05 L521.25,816.28 L522.25,816.52 L523.25,816.75 L524.25,816.98 L525.25,817.21 L526.25,817.43 L527.25,817.66 L528.25,817.89 L529.25,818.12 L530.25,818.34 L531.25,818.57 L532.26,818.79 L533.26,819.02 L534.26,819.24 L535.26,819.47 L536.26,819.69 L537.26,819.91 L538.26,820.13 L539.26,820.35 L540.26,820.57 L541.26,820.78 L542.26,821.00 L543.26,821.21 L544.26,821.43 L545.26,821.64 L546.26,821.85 L547.26,822.06 L548.26,822.27 L549.26,822.48 L550.26,822.69 L551.26,822.89 L552.26,823.09 L553.26,823.30 L554.26,823.50 L555.26,823.70 L556.26,823.90 L557.26,824.09 L558.27,824.29 L559.27,824.48 L560.27,824.67 L561.27,824.86 L562.27,825.05 L563.27,825.24 L564.27,825.42 L565.27,825.60 L566.27,825.79 L567.27,825.97 L568.27,826.14 L569.27,826.32 L570.27,826.49 L571.27,826.66 L572.27,826.83 L573.27,827.00 L574.27,827.17 L575.27,827.33 L576.27,827.49 L577.27,827.65 L578.27,827.81 L579.27,827.96 L580.27,828.11 L581.27,828.26 L582.27,828.41 L583.28,828.56 L584.28,828.70 L585.28,828.84 L586.28,828.98 L587.28,829.11 L588.28,829.25 L589.28,829.38 L590.28,829.50 L591.28,829.63 L592.28,829.75 L593.28,829.87 L594.28,829.99 L595.28,830.10 L596.28,830.21 L597.28,830.32 L598.28,830.43 L599.28,830.53 L600.28,830.63 L601.28,830.73 L602.28,830.82 L603.28,830.91 L604.28,831.00 L605.28,831.08 L606.28,831.17 L607.28,831.24 L608.29,831.32 L609.29,831.39 L610.29,831.46 L611.29,831.53 L612.29,831.59 L613.29,831.65 L614.29,831.70 L615.29,831.76 L616.29,831.80 L617.29,831.85 L618.29,831.89 L619.29,831.93 L620.29,831.96 L621.29,832.00 L622.29,832.02 L623.29,832.05 L624.29,832.07 L625.29,832.08 L626.29,832.10 L627.29,832.10 L628.29,832.11 L629.29,832.11 L630.29,832.11 L631.29,832.10 L632.29,832.09 L633.29,832.07 L634.30,832.06 L635.30,832.03 L636.30,832.01 L637.30,831.98 L638.30,831.94 L639.30,831.90 L640.30,831.86 L641.30,831.81 L642.30,831.76 L643.30,831.70 L644.30,831.64 L645.30,831.57 L646.30,831.51 L646.30,889.01 L645.30,888.54 L644.30,888.07 L643.30,887.60 L642.30,887.14 L641.30,886.67 L640.30,886.21 L639.30,885.75 L638.30,885.29 L637.30,884.84 L636.30,884.38 L635.30,883.93 L634.30,883.48 L633.29,883.03 L632.29,882.58 L631.29,882.13 L630.29,881.68 L629.29,881.24 L628.29,880.80 L627.29,880.36 L626.29,879.92 L625.29,879.48 L624.29,879.04 L623.29,878.61 L622.29,878.18 L621.29,877.75 L620.29,877.32 L619.29,876.89 L618.29,876.46 L617.29,876.04 L616.29,875.61 L615.29,875.19 L614.29,874.77 L613.29,874.35 L612.29,873.93 L611.29,873.52 L610.29,873.10 L609.29,872.69 L608.29,872.28 L607.28,871.87 L606.28,871.46 L605.28,871.06 L604.28,870.65 L603.28,870.25 L602.28,869.84 L601.28,869.44 L600.28,869.04 L599.28,868.65 L598.28,868.25 L597.28,867.86 L596.28,867.46 L595.28,867.07 L594.28,866.68 L593.28,866.29 L592.28,865.90 L591.28,865.52 L590.28,865.13 L589.28,864.75 L588.28,864.37 L587.28,863.99 L586.28,863.61 L585.28,863.23 L584.28,862.85 L583.28,862.48 L582.27,862.11 L581.27,861.73 L580.27,861.36 L579.27,861.00 L578.27,860.63 L577.27,860.26 L576.27,859.90 L575.27,859.53 L574.27,859.17 L573.27,858.81 L572.27,858.45 L571.27,858.09 L570.27,857.74 L569.27,857.38 L568.27,857.03 L567.27,856.68 L566.27,856.32 L565.27,855.98 L564.27,855.63 L563.27,855.28 L562.27,854.93 L561.27,854.59 L560.27,854.25 L559.27,853.91 L558.27,853.56 L557.26,853.23 L556.26,852.89 L555.26,852.55 L554.26,852.22 L553.26,851.88 L552.26,851.55 L551.26,851.22 L550.26,850.89 L549.26,850.56 L548.26,850.23 L547.26,849.91 L546.26,849.58 L545.26,849.26 L544.26,848.94 L543.26,848.62 L542.26,848.30 L541.26,847.98 L540.26,847.66 L539.26,847.35 L538.26,847.03 L537.26,846.72 L536.26,846.41 L535.26,846.10 L534.26,845.79 L533.26,845.48 L532.26,845.17 L531.25,844.86 L530.25,844.56 L529.25,844.26 L528.25,843.95 L527.25,843.65 L526.25,843.35 L525.25,843.05 L524.25,842.76 L523.25,842.46 L522.25,842.17 L521.25,841.87 L520.25,841.58 L519.25,841.29 L518.25,841.00 L517.25,840.71 L516.25,840.42 L515.25,840.13 L514.25,839.85 L513.25,839.56 L512.25,839.28 L511.25,839.00 L510.25,838.72 L509.25,838.44 L508.25,838.16 L507.25,837.88 L506.24,837.60 L505.24,837.33 L504.24,837.05 L503.24,836.78 L502.24,836.51 L501.24,836.24 L500.24,835.97 L499.24,835.70 L498.24,835.43 L497.24,835.17 L496.24,834.90 L495.24,834.64 L494.24,834.37 L493.24,834.11 L492.24,833.85 L491.24,833.59 L490.24,833.33 L489.24,833.07 L488.24,832.82 L487.24,832.56 L486.24,832.31 L485.24,832.05 L484.24,831.80 L483.24,831.55 L482.24,831.30 L481.23,831.05 L480.23,830.80 L479.23,830.55 L478.23,830.31 L477.23,830.06 L476.23,829.82 L475.23,829.57 L474.23,829.33 L473.23,829.09 L472.23,828.85 L471.23,828.61 L470.23,828.37 L469.23,828.14 L468.23,827.90 L467.23,827.66 L466.23,827.43 L465.23,827.20 L464.23,826.97 L463.23,826.73 L462.23,826.50 L461.23,826.27 L460.23,826.05 L459.23,825.82 L458.23,825.59 L457.23,825.37 L456.23,825.14 L455.22,824.92 L454.22,824.69 L453.22,824.47 L452.22,824.25 L451.22,824.03 L450.22,823.81 L449.22,823.59 L448.22,823.38 L447.22,823.16 L446.22,822.95 L445.22,822.73 L444.22,822.52 L443.22,822.30 L442.22,822.09 L441.22,821.88 L440.22,821.67 L439.22,821.46 L438.22,821.25 L437.22,821.05 L436.22,820.84 L435.22,820.63 L434.22,820.43 L433.22,820.23 L432.22,820.02 L431.22,819.82 L430.21,819.62 L429.21,819.42 L428.21,819.22 L427.21,819.02 L426.21,818.82 L425.21,818.62 L424.21,818.43 L423.21,818.23 L422.21,818.04 L421.21,817.84 L420.21,817.65 L419.21,817.46 L418.21,817.27 L417.21,817.08 L416.21,816.89 L415.21,816.70 L414.21,816.51 L413.21,816.32 L412.21,816.13 L411.21,815.95 L410.21,815.76 L409.21,815.58 L408.21,815.39 L407.21,815.21 L406.21,815.03 L405.20,814.85 L404.20,814.67 L403.20,814.49 L402.20,814.31 L401.20,814.13 L400.20,813.95 L399.20,813.77 L398.20,813.59 L397.20,813.41 L396.20,813.23 L395.20,813.05 L394.20,812.88 L393.20,812.70 L392.20,812.52 L391.20,812.34 L390.20,812.16 L389.20,811.98 L388.20,811.79 L387.20,811.61 L386.20,811.43 L385.20,811.24 L384.20,811.06 L383.20,810.87 L382.20,810.69 L381.20,810.50 L380.20,810.31 L379.19,810.12 L378.19,809.92 L377.19,809.73 L376.19,809.53 L375.19,809.34 L374.19,809.14 L373.19,808.94 L372.19,808.73 L371.19,808.53 L370.19,808.32 L369.19,808.11 L368.19,807.90 L367.19,807.69 L366.19,807.47 L365.19,807.25 L364.19,807.03 L363.19,806.81 L362.19,806.58 L361.19,806.35 L360.19,806.12 L359.19,805.89 L358.19,805.65 L357.19,805.41 L356.19,805.16 L355.19,804.91 L354.18,804.66 L353.18,804.41 L352.18,804.15 L351.18,803.89 L350.18,803.62 L349.18,803.35 L348.18,803.08 L347.18,802.81 L346.18,802.53 L345.18,802.25 L344.18,801.97 L343.18,801.68 L342.18,801.40 L341.18,801.10 L340.18,800.81 L339.18,800.52 L338.18,800.22 L337.18,799.92 L336.18,799.62 L335.18,799.31 L334.18,799.01 L333.18,798.70 L332.18,798.39 L331.18,798.08 L330.18,797.77 L329.17,797.45 L328.17,797.14 L327.17,796.82 L326.17,796.50 L325.17,796.19 L324.17,795.87 L323.17,795.55 L322.17,795.23 L321.17,794.90 L320.17,794.58 L319.17,794.26 L318.17,793.94 L317.17,793.61 L316.17,793.29 L315.17,792.96 L314.17,792.64 L313.17,792.32 L312.17,791.99 L311.17,791.67 L310.17,791.35 L309.17,791.02 L308.17,790.70 L307.17,790.38 L306.17,790.06 L305.17,789.74 L304.17,789.42 L303.16,789.10 L302.16,788.78 L301.16,788.47 L300.16,788.15 L299.16,787.84 L298.16,787.52 L297.16,787.21 L296.16,786.90 L295.16,786.60 L294.16,786.29 L293.16,785.99 L292.16,785.68 L291.16,785.39 L290.16,785.09 L289.16,784.79 L288.16,784.50 L287.16,784.21 L286.16,783.92 L285.16,783.63 L284.16,783.35 L283.16,783.06 L282.16,782.78 L281.16,782.51 L280.16,782.23 L279.16,781.96 L278.15,781.68 L277.15,781.41 L276.15,781.15 L275.15,780.88 L274.15,780.62 L273.15,780.35 L272.15,780.09 L271.15,779.84 L270.15,779.58 L269.15,779.33 L268.15,779.07 L267.15,778.82 L266.15,778.58 L265.15,778.33 L264.15,778.08 L263.15,777.84 L262.15,777.60 L261.15,777.36 L260.15,777.12 L259.15,776.89 L258.15,776.65 L257.15,776.42 L256.15,776.19 L255.15,775.96 L254.15,775.73 L253.14,775.50 L252.14,775.28 L251.14,775.06 L250.14,774.83 L249.14,774.61 L248.14,774.40 L247.14,774.18 L246.14,773.96 L245.14,773.75 L244.14,773.54 L243.14,773.33 L242.14,773.12 L241.14,772.91 L240.14,772.70 L239.14,772.50 L238.14,772.29 L237.14,772.09 L236.14,771.89 L235.14,771.69 L234.14,771.49 L233.14,771.29 L232.14,771.10 L231.14,770.90 L230.14,770.71 L229.14,770.52 L228.14,770.32 L227.13,770.13 L226.13,769.95 L225.13,769.76 L224.13,769.57 L223.13,769.38 L222.13,769.20 L221.13,769.02 L220.13,768.83 L219.13,768.65 L218.13,768.47 L217.13,768.29 L216.13,768.11 L215.13,767.94 L214.13,767.76 L213.13,767.58 L212.13,767.41 L211.13,767.24 L210.13,767.06 L209.13,766.89 L208.13,766.72 L207.13,766.55 L206.13,766.38 L205.13,766.21 L204.13,766.04 L203.13,765.88 L202.12,765.71 L201.12,765.54 L200.12,765.38 L199.12,765.21 L198.12,765.05 L197.12,764.89 L196.12,764.72 L195.12,764.56 L194.12,764.40 L193.12,764.24 L192.12,764.08 L191.12,763.92 L190.12,763.76 L189.12,763.60 L188.12,763.44 L187.12,763.29 L186.12,763.13 L185.12,762.97 L184.12,762.81 L183.12,762.66 L182.12,762.50 L181.12,762.35 L180.12,762.19 L179.12,762.04 L178.12,761.88 L177.11,761.73 L176.11,761.58 L175.11,761.42 L174.11,761.27 L173.11,761.12 L172.11,760.96 L171.11,760.81 L170.11,760.66 L169.11,760.51 L168.11,760.35 L167.11,760.20 L166.11,760.05 L165.11,759.90 L164.11,759.75 L163.11,759.60 L162.11,759.44 L161.11,759.29 L160.11,759.14 L159.11,758.99 L158.11,758.84 L157.11,758.69 L156.11,758.53 L155.11,758.38 L154.11,758.23 L153.11,758.08 L152.11,757.93 L151.10,757.77 L150.10,757.62 L149.10,757.47 L148.10,757.31 L147.10,757.16 L146.10,757.01 L145.10,756.85 L144.10,756.70 L143.10,756.55 L142.10,756.39 L141.10,756.24 L140.10,756.08 L139.10,755.93 Z" fill="#fbcbcb"/>
<path d="M139.10,720.01 L140.10,720.39 L141.10,720.77 L142.10,721.15 L143.10,721.53 L144.10,721.91 L145.10,722.29 L146.10,722.66 L147.10,723.04 L148.10,723.41 L149.10,723.79 L150.10,724.16 L151.10,724.54 L152.11,724.91 L153.11,725.28 L154.11,725.66 L155.11,726.03 L156.11,726.40 L157.11,726.77 L158.11,727.14 L159.11,727.51 L160.11,727.88 L161.11,728.25 L162.11,728.62 L163.11,728.99 L164.11,729.35 L165.11,729.72 L166.11,730.09 L167.11,730.45 L168.11,730.82 L169.11,731.18 L170.11,731.55 L171.11,731.91 L172.11,732.27 L173.11,732.63 L174.11,733.00 L175.11,733.36 L176.11,733.72 L177.11,734.08 L178.12,734.44 L179.12,734.80 L180.12,735.16 L181.12,735.51 L182.12,735.87 L183.12,736.23 L184.12,736.59 L185.12,736.94 L186.12,737.30 L187.12,737.65 L188.12,738.01 L189.12,738.36 L190.12,738.71 L191.12,739.07 L192.12,739.42 L193.12,739.77 L194.12,740.12 L195.12,740.47 L196.12,740.82 L197.12,741.17 L198.12,741.52 L199.12,741.87 L200.12,742.22 L201.12,742.56 L202.12,742.91 L203.13,743.26 L204.13,743.60 L205.13,743.95 L206.13,744.29 L207.13,744.63 L208.13,744.98 L209.13,745.32 L210.13,745.66 L211.13,746.01 L212.13,746.35 L213.13,746.69 L214.13,747.03 L215.13,747.37 L216.13,747.71 L217.13,748.04 L218.13,748.38 L219.13,748.72 L220.13,749.06 L221.13,749.39 L222.13,749.73 L223.13,750.06 L224.13,750.40 L225.13,750.73 L226.13,751.07 L227.13,751.40 L228.14,751.73 L229.14,752.06 L230.14,752.39 L231.14,752.73 L232.14,753.06 L233.14,753.39 L234.14,753.71 L235.14,754.04 L236.14,754.37 L237.14,754.70 L238.14,755.02 L239.14,755.35 L240.14,755.68 L241.14,756.00 L242.14,756.33 L243.14,756.65 L244.14,756.97 L245.14,757.30 L246.14,757.62 L247.14,757.94 L248.14,758.26 L249.14,758.58 L250.14,758.90 L251.14,759.22 L252.14,759.54 L253.14,759.86 L254.15,760.18 L255.15,760.50 L256.15,760.81 L257.15,761.13 L258.15,761.45 L259.15,761.76 L260.15,762.08 L261.15,762.39 L262.15,762.70 L263.15,763.02 L264.15,763.33 L265.15,763.64 L266.15,763.95 L267.15,764.26 L268.15,764.57 L269.15,764.88 L270.15,765.19 L271.15,765.50 L272.15,765.81 L273.15,766.11 L274.15,766.42 L275.15,766.73 L276.15,767.03 L277.15,767.34 L278.15,767.64 L279.16,767.94 L280.16,768.25 L281.16,768.55 L282.16,768.85 L283.16,769.15 L284.16,769.46 L285.16,769.76 L286.16,770.06 L287.16,770.35 L288.16,770.65 L289.16,770.95 L290.16,771.25 L291.16,771.55 L292.16,771.84 L293.16,772.14 L294.16,772.43 L295.16,772.73 L296.16,773.02 L297.16,773.32 L298.16,773.61 L299.16,773.90 L300.16,774.19 L301.16,774.49 L302.16,774.78 L303.16,775.07 L304.17,775.36 L305.17,775.65 L306.17,775.93 L307.17,776.22 L308.17,776.51 L309.17,776.80 L310.17,777.08 L311.17,777.37 L312.17,777.66 L313.17,777.94 L314.17,778.23 L315.17,778.51 L316.17,778.79 L317.17,779.08 L318.17,779.36 L319.17,779.64 L320.17,779.92 L321.17,780.20 L322.17,780.49 L323.17,780.77 L324.17,781.05 L325.17,781.32 L326.17,781.60 L327.17,781.88 L328.17,782.16 L329.17,782.44 L330.18,782.71 L331.18,782.99 L332.18,783.27 L333.18,783.54 L334.18,783.82 L335.18,784.09 L336.18,784.37 L337.18,784.64 L338.18,784.91 L339.18,785.19 L340.18,785.46 L341.18,785.73 L342.18,786.00 L343.18,786.27 L344.18,786.54 L345.18,786.81 L346.18,787.08 L347.18,787.35 L348.18,787.62 L349.18,787.89 L350.18,788.16 L351.18,788.43 L352.18,788.70 L353.18,788.96 L354.18,789.23 L355.19,789.50 L356.19,789.76 L357.19,790.03 L358.19,790.29 L359.19,790.56 L360.19,790.82 L361.19,791.09 L362.19,791.35 L363.19,791.61 L364.19,791.88 L365.19,792.14 L366.19,792.40 L367.19,792.66 L368.19,792.92 L369.19,793.19 L370.19,793.45 L371.19,793.71 L372.19,793.97 L373.19,794.23 L374.19,794.49 L375.19,794.75 L376.19,795.00 L377.19,795.26 L378.19,795.52 L379.19,795.78 L380.20,796.04 L381.20,796.29 L382.20,796.55 L383.20,796.81 L384.20,797.06 L385.20,797.32 L386.20,797.57 L387.20,797.83 L388.20,798.09 L389.20,798.34 L390.20,798.59 L391.20,798.85 L392.20,799.10 L393.20,799.36 L394.20,799.61 L395.20,799.86 L396.20,800.12 L397.20,800.37 L398.20,800.62 L399.20,800.87 L400.20,801.12 L401.20,801.37 L402.20,801.63 L403.20,801.88 L404.20,802.13 L405.20,802.38 L406.21,802.63 L407.21,802.88 L408.21,803.13 L409.21,803.38 L410.21,803.63 L411.21,803.88 L412.21,804.12 L413.21,804.37 L414.21,804.62 L415.21,804.87 L416.21,805.12 L417.21,805.37 L418.21,805.61 L419.21,805.86 L420.21,806.11 L421.21,806.35 L422.21,806.60 L423.21,806.85 L424.21,807.09 L425.21,807.34 L426.21,807.58 L427.21,807.83 L428.21,808.08 L429.21,808.32 L430.21,808.57 L431.22,808.81 L432.22,809.06 L433.22,809.30 L434.22,809.55 L435.22,809.79 L436.22,810.03 L437.22,810.28 L438.22,810.52 L439.22,810.77 L440.22,811.01 L441.22,811.25 L442.22,811.50 L443.22,811.74 L444.22,811.98 L445.22,812.22 L446.22,812.47 L447.22,812.71 L448.22,812.95 L449.22,813.19 L450.22,813.44 L451.22,813.68 L452.22,813.92 L453.22,814.16 L454.22,814.40 L455.22,814.65 L456.23,814.89 L457.23,815.13 L458.23,815.37 L459.23,815.61 L460.23,815.85 L461.23,816.09 L462.23,816.33 L463.23,816.58 L464.23,816.82 L465.23,817.06 L466.23,817.30 L467.23,817.54 L468.23,817.78 L469.23,818.02 L470.23,818.26 L471.23,818.50 L472.23,818.74 L473.23,818.98 L474.23,819.22 L475.23,819.46 L476.23,819.70 L477.23,819.94 L478.23,820.18 L479.23,820.42 L480.23,820.66 L481.23,820.90 L482.24,821.14 L483.24,821.38 L484.24,821.62 L485.24,821.86 L486.24,822.10 L487.24,822.34 L488.24,822.58 L489.24,822.82 L490.24,823.06 L491.24,823.30 L492.24,823.54 L493.24,823.78 L494.24,824.02 L495.24,824.26 L496.24,824.50 L497.24,824.74 L498.24,824.98 L499.24,825.22 L500.24,825.46 L501.24,825.70 L502.24,825.94 L503.24,826.18 L504.24,826.42 L505.24,826.66 L506.24,826.90 L507.25,827.14 L508.25,827.38 L509.25,827.62 L510.25,827.86 L511.25,828.10 L512.25,828.34 L513.25,828.58 L514.25,828.82 L515.25,829.06 L516.25,829.30 L517.25,829.54 L518.25,829.78 L519.25,830.03 L520.25,830.27 L521.25,830.51 L522.25,830.75 L523.25,830.99 L524.25,831.23 L525.25,831.47 L526.25,831.71 L527.25,831.96 L528.25,832.20 L529.25,832.44 L530.25,832.68 L531.25,832.92 L532.26,833.17 L533.26,833.41 L534.26,833.65 L535.26,833.89 L536.26,834.14 L537.26,834.38 L538.26,834.62 L539.26,834.86 L540.26,835.11 L541.26,835.35 L542.26,835.59 L543.26,835.83 L544.26,836.08 L545.26,836.32 L546.26,836.56 L547.26,836.81 L548.26,837.05 L549.26,837.29 L550.26,837.54 L551.26,837.78 L552.26,838.02 L553.26,838.27 L554.26,838.51 L555.26,838.75 L556.26,839.00 L557.26,839.24 L558.27,839.49 L559.27,839.73 L560.27,839.97 L561.27,840.22 L562.27,840.46 L563.27,840.70 L564.27,840.95 L565.27,841.19 L566.27,841.44 L567.27,841.68 L568.27,841.92 L569.27,842.17 L570.27,842.41 L571.27,842.66 L572.27,842.90 L573.27,843.15 L574.27,843.39 L575.27,843.63 L576.27,843.88 L577.27,844.12 L578.27,844.37 L579.27,844.61 L580.27,844.86 L581.27,845.10 L582.27,845.35 L583.28,845.59 L584.28,845.83 L585.28,846.08 L586.28,846.32 L587.28,846.57 L588.28,846.81 L589.28,847.06 L590.28,847.30 L591.28,847.55 L592.28,847.79 L593.28,848.03 L594.28,848.28 L595.28,848.52 L596.28,848.77 L597.28,849.01 L598.28,849.26 L599.28,849.50 L600.28,849.75 L601.28,849.99 L602.28,850.23 L603.28,850.48 L604.28,850.72 L605.28,850.97 L606.28,851.21 L607.28,851.46 L608.29,851.70 L609.29,851.94 L610.29,852.19 L611.29,852.43 L612.29,852.68 L613.29,852.92 L614.29,853.17 L615.29,853.41 L616.29,853.65 L617.29,853.90 L618.29,854.14 L619.29,854.39 L620.29,854.63 L621.29,854.87 L622.29,855.12 L623.29,855.36 L624.29,855.60 L625.29,855.85 L626.29,856.09 L627.29,856.33 L628.29,856.58 L629.29,856.82 L630.29,857.06 L631.29,857.31 L632.29,857.55 L633.29,857.79 L634.30,858.04 L635.30,858.28 L636.30,858.52 L637.30,858.77 L638.30,859.01 L639.30,859.25 L640.30,859.50 L641.30,859.74 L642.30,859.98 L643.30,860.22 L644.30,860.47 L645.30,860.71 L646.30,860.95" fill="none" stroke="#e00f14" stroke-width="4.00" stroke-linejoin="round"/>
<path d="M114.10,814.50 H672.00" stroke="#000" stroke-opacity="0.64" stroke-width="1.80" fill="none"/>
<path d="M426.40,605.40 V1023.00" stroke="#000" stroke-opacity="0.64" stroke-width="1.80" fill="none"/>
<rect x="114.10" y="605.40" width="557.90" height="417.60" fill="none" stroke="#000" stroke-width="2.80"/>
<path d="M177.50,1023.00 v4.40 M177.50,605.40 v-4.40 M301.95,1023.00 v4.40 M301.95,605.40 v-4.40 M426.40,1023.00 v4.40 M426.40,605.40 v-4.40 M550.85,1023.00 v4.40 M550.85,605.40 v-4.40 M114.10,981.00 h-4.40 M672.00,981.00 h4.40 M114.10,897.60 h-4.40 M672.00,897.60 h4.40 M114.10,814.20 h-4.40 M672.00,814.20 h4.40 M114.10,730.80 h-4.40 M672.00,730.80 h4.40 M114.10,647.40 h-4.40 M672.00,647.40 h4.40" stroke="#000" stroke-width="2.4" fill="none"/>
<text transform="translate(152.08,1071.10) scale(1,1.015)" class="tl">-10</text>
<text transform="translate(286.33,1071.10) scale(1,1.015)" class="tl">-5</text>
<text transform="translate(416.64,1071.10) scale(1,1.015)" class="tl">0</text>
<text transform="translate(541.14,1071.10) scale(1,1.015)" class="tl">5</text>
<text transform="translate(41.86,994.15) scale(1,1.015)" class="tl">-0.2</text>
<text transform="translate(38.78,910.75) scale(1,1.015)" class="tl">-0.1</text>
<text transform="translate(82.29,827.35) scale(1,1.015)" class="tl">0</text>
<text transform="translate(50.41,743.95) scale(1,1.015)" class="tl">0.1</text>
<text transform="translate(53.50,660.55) scale(1,1.015)" class="tl">0.2</text>
<text transform="translate(112.31,1110.70) scale(1,1.020)" x="0" y="0" class="al" textLength="549.01" lengthAdjust="spacingAndGlyphs">Ambient Temperature anomaly (°C)</text>
<text transform="translate(30.50,1031.91) rotate(-90) scale(1,1.020)" x="0" y="0" class="al" textLength="422.98" lengthAdjust="spacingAndGlyphs">Finishing Time Anomaly (s)</text>
<text transform="translate(59.50,603.30) scale(1,1.000)" x="0" y="0" class="pl" textLength="46.88" lengthAdjust="spacingAndGlyphs">(b)</text>
<text transform="translate(117.48,641.70) scale(1,1.020)" x="0" y="0" class="il" textLength="131.93" lengthAdjust="spacingAndGlyphs">Men T-FT</text>
<path d="M144.10,1191.25 L145.10,1192.04 L146.10,1192.84 L147.11,1193.63 L148.11,1194.43 L149.11,1195.22 L150.11,1196.02 L151.11,1196.81 L152.11,1197.61 L153.12,1198.40 L154.12,1199.19 L155.12,1199.98 L156.12,1200.77 L157.12,1201.56 L158.12,1202.35 L159.13,1203.14 L160.13,1203.93 L161.13,1204.72 L162.13,1205.51 L163.13,1206.30 L164.14,1207.09 L165.14,1207.87 L166.14,1208.66 L167.14,1209.44 L168.14,1210.23 L169.14,1211.01 L170.15,1211.80 L171.15,1212.58 L172.15,1213.36 L173.15,1214.14 L174.15,1214.92 L175.16,1215.70 L176.16,1216.48 L177.16,1217.26 L178.16,1218.04 L179.16,1218.81 L180.16,1219.59 L181.17,1220.37 L182.17,1221.14 L183.17,1221.92 L184.17,1222.69 L185.17,1223.46 L186.17,1224.23 L187.18,1225.00 L188.18,1225.77 L189.18,1226.54 L190.18,1227.31 L191.18,1228.08 L192.19,1228.84 L193.19,1229.61 L194.19,1230.37 L195.19,1231.14 L196.19,1231.90 L197.19,1232.66 L198.20,1233.42 L199.20,1234.18 L200.20,1234.94 L201.20,1235.70 L202.20,1236.45 L203.20,1237.21 L204.21,1237.97 L205.21,1238.72 L206.21,1239.47 L207.21,1240.22 L208.21,1240.97 L209.22,1241.72 L210.22,1242.47 L211.22,1243.22 L212.22,1243.96 L213.22,1244.71 L214.22,1245.45 L215.23,1246.20 L216.23,1246.94 L217.23,1247.68 L218.23,1248.42 L219.23,1249.15 L220.24,1249.89 L221.24,1250.63 L222.24,1251.36 L223.24,1252.09 L224.24,1252.83 L225.24,1253.56 L226.25,1254.29 L227.25,1255.01 L228.25,1255.74 L229.25,1256.47 L230.25,1257.19 L231.25,1257.91 L232.26,1258.63 L233.26,1259.35 L234.26,1260.07 L235.26,1260.79 L236.26,1261.51 L237.27,1262.22 L238.27,1262.93 L239.27,1263.64 L240.27,1264.35 L241.27,1265.06 L242.27,1265.77 L243.28,1266.48 L244.28,1267.18 L245.28,1267.88 L246.28,1268.58 L247.28,1269.28 L248.28,1269.98 L249.29,1270.68 L250.29,1271.37 L251.29,1272.07 L252.29,1272.76 L253.29,1273.45 L254.30,1274.14 L255.30,1274.83 L256.30,1275.51 L257.30,1276.20 L258.30,1276.88 L259.30,1277.56 L260.31,1278.24 L261.31,1278.92 L262.31,1279.59 L263.31,1280.27 L264.31,1280.94 L265.32,1281.61 L266.32,1282.28 L267.32,1282.95 L268.32,1283.61 L269.32,1284.28 L270.32,1284.94 L271.33,1285.60 L272.33,1286.26 L273.33,1286.91 L274.33,1287.57 L275.33,1288.22 L276.33,1288.87 L277.34,1289.52 L278.34,1290.17 L279.34,1290.82 L280.34,1291.47 L281.34,1292.11 L282.35,1292.75 L283.35,1293.39 L284.35,1294.03 L285.35,1294.67 L286.35,1295.30 L287.35,1295.94 L288.36,1296.57 L289.36,1297.20 L290.36,1297.83 L291.36,1298.46 L292.36,1299.09 L293.37,1299.71 L294.37,1300.34 L295.37,1300.96 L296.37,1301.58 L297.37,1302.20 L298.37,1302.82 L299.38,1303.44 L300.38,1304.05 L301.38,1304.67 L302.38,1305.28 L303.38,1305.89 L304.38,1306.50 L305.39,1307.11 L306.39,1307.72 L307.39,1308.32 L308.39,1308.93 L309.39,1309.53 L310.40,1310.14 L311.40,1310.74 L312.40,1311.34 L313.40,1311.94 L314.40,1312.53 L315.40,1313.13 L316.41,1313.73 L317.41,1314.32 L318.41,1314.91 L319.41,1315.51 L320.41,1316.10 L321.41,1316.69 L322.42,1317.28 L323.42,1317.86 L324.42,1318.45 L325.42,1319.04 L326.42,1319.62 L327.43,1320.21 L328.43,1320.79 L329.43,1321.37 L330.43,1321.95 L331.43,1322.53 L332.43,1323.11 L333.44,1323.69 L334.44,1324.26 L335.44,1324.84 L336.44,1325.42 L337.44,1325.99 L338.45,1326.56 L339.45,1327.14 L340.45,1327.71 L341.45,1328.28 L342.45,1328.85 L343.45,1329.42 L344.46,1329.99 L345.46,1330.55 L346.46,1331.12 L347.46,1331.69 L348.46,1332.25 L349.46,1332.82 L350.47,1333.38 L351.47,1333.94 L352.47,1334.51 L353.47,1335.07 L354.47,1335.63 L355.48,1336.19 L356.48,1336.75 L357.48,1337.31 L358.48,1337.87 L359.48,1338.42 L360.48,1338.98 L361.49,1339.54 L362.49,1340.09 L363.49,1340.64 L364.49,1341.20 L365.49,1341.75 L366.49,1342.30 L367.50,1342.85 L368.50,1343.40 L369.50,1343.94 L370.50,1344.49 L371.50,1345.04 L372.51,1345.58 L373.51,1346.12 L374.51,1346.66 L375.51,1347.20 L376.51,1347.74 L377.51,1348.28 L378.52,1348.81 L379.52,1349.35 L380.52,1349.88 L381.52,1350.41 L382.52,1350.94 L383.53,1351.47 L384.53,1352.00 L385.53,1352.52 L386.53,1353.05 L387.53,1353.57 L388.53,1354.09 L389.54,1354.61 L390.54,1355.12 L391.54,1355.64 L392.54,1356.15 L393.54,1356.66 L394.54,1357.17 L395.55,1357.68 L396.55,1358.18 L397.55,1358.69 L398.55,1359.19 L399.55,1359.69 L400.56,1360.19 L401.56,1360.68 L402.56,1361.17 L403.56,1361.67 L404.56,1362.15 L405.56,1362.64 L406.57,1363.12 L407.57,1363.61 L408.57,1364.09 L409.57,1364.56 L410.57,1365.04 L411.57,1365.51 L412.58,1365.98 L413.58,1366.45 L414.58,1366.91 L415.58,1367.38 L416.58,1367.84 L417.59,1368.30 L418.59,1368.75 L419.59,1369.21 L420.59,1369.66 L421.59,1370.11 L422.59,1370.55 L423.60,1371.00 L424.60,1371.44 L425.60,1371.88 L426.60,1372.32 L427.60,1372.75 L428.61,1373.19 L429.61,1373.62 L430.61,1374.05 L431.61,1374.47 L432.61,1374.90 L433.61,1375.32 L434.62,1375.74 L435.62,1376.16 L436.62,1376.58 L437.62,1376.99 L438.62,1377.40 L439.62,1377.81 L440.63,1378.22 L441.63,1378.63 L442.63,1379.03 L443.63,1379.43 L444.63,1379.83 L445.64,1380.23 L446.64,1380.62 L447.64,1381.02 L448.64,1381.41 L449.64,1381.80 L450.64,1382.18 L451.65,1382.57 L452.65,1382.95 L453.65,1383.33 L454.65,1383.71 L455.65,1384.09 L456.65,1384.47 L457.66,1384.84 L458.66,1385.21 L459.66,1385.58 L460.66,1385.95 L461.66,1386.32 L462.67,1386.68 L463.67,1387.04 L464.67,1387.40 L465.67,1387.76 L466.67,1388.12 L467.67,1388.47 L468.68,1388.83 L469.68,1389.18 L470.68,1389.53 L471.68,1389.87 L472.68,1390.22 L473.69,1390.57 L474.69,1390.91 L475.69,1391.25 L476.69,1391.59 L477.69,1391.92 L478.69,1392.26 L479.70,1392.59 L480.70,1392.93 L481.70,1393.26 L482.70,1393.59 L483.70,1393.91 L484.70,1394.24 L485.71,1394.56 L486.71,1394.88 L487.71,1395.20 L488.71,1395.52 L489.71,1395.84 L490.72,1396.16 L491.72,1396.47 L492.72,1396.78 L493.72,1397.09 L494.72,1397.40 L495.72,1397.71 L496.73,1398.02 L497.73,1398.32 L498.73,1398.63 L499.73,1398.93 L500.73,1399.23 L501.73,1399.53 L502.74,1399.82 L503.74,1400.12 L504.74,1400.41 L505.74,1400.71 L506.74,1401.00 L507.75,1401.29 L508.75,1401.58 L509.75,1401.87 L510.75,1402.15 L511.75,1402.44 L512.75,1402.72 L513.76,1403.00 L514.76,1403.28 L515.76,1403.56 L516.76,1403.84 L517.76,1404.11 L518.77,1404.39 L519.77,1404.66 L520.77,1404.94 L521.77,1405.21 L522.77,1405.48 L523.77,1405.75 L524.78,1406.01 L525.78,1406.28 L526.78,1406.54 L527.78,1406.81 L528.78,1407.07 L529.78,1407.33 L530.79,1407.59 L531.79,1407.85 L532.79,1408.11 L533.79,1408.36 L534.79,1408.62 L535.80,1408.87 L536.80,1409.12 L537.80,1409.37 L538.80,1409.62 L539.80,1409.87 L540.80,1410.12 L541.81,1410.36 L542.81,1410.61 L543.81,1410.85 L544.81,1411.09 L545.81,1411.33 L546.82,1411.56 L547.82,1411.80 L548.82,1412.03 L549.82,1412.27 L550.82,1412.50 L551.82,1412.73 L552.83,1412.95 L553.83,1413.18 L554.83,1413.40 L555.83,1413.62 L556.83,1413.84 L557.83,1414.06 L558.84,1414.28 L559.84,1414.49 L560.84,1414.71 L561.84,1414.92 L562.84,1415.13 L563.85,1415.33 L564.85,1415.54 L565.85,1415.74 L566.85,1415.94 L567.85,1416.14 L568.85,1416.34 L569.86,1416.53 L570.86,1416.72 L571.86,1416.92 L572.86,1417.10 L573.86,1417.29 L574.86,1417.47 L575.87,1417.66 L576.87,1417.83 L577.87,1418.01 L578.87,1418.19 L579.87,1418.36 L580.88,1418.53 L581.88,1418.70 L582.88,1418.86 L583.88,1419.03 L584.88,1419.19 L585.88,1419.35 L586.89,1419.50 L587.89,1419.66 L588.89,1419.81 L589.89,1419.96 L590.89,1420.10 L591.90,1420.24 L592.90,1420.39 L593.90,1420.52 L594.90,1420.66 L595.90,1420.79 L596.90,1420.92 L597.91,1421.05 L598.91,1421.17 L599.91,1421.30 L600.91,1421.42 L601.91,1421.53 L602.91,1421.65 L603.92,1421.76 L604.92,1421.87 L605.92,1421.97 L606.92,1422.07 L607.92,1422.17 L608.93,1422.27 L609.93,1422.36 L610.93,1422.45 L611.93,1422.54 L612.93,1422.63 L613.93,1422.71 L614.94,1422.79 L615.94,1422.86 L616.94,1422.93 L617.94,1423.00 L618.94,1423.07 L619.94,1423.13 L620.95,1423.19 L621.95,1423.25 L622.95,1423.30 L623.95,1423.35 L624.95,1423.40 L625.96,1423.44 L626.96,1423.48 L627.96,1423.52 L628.96,1423.55 L629.96,1423.58 L630.96,1423.61 L631.97,1423.63 L632.97,1423.65 L633.97,1423.67 L634.97,1423.68 L635.97,1423.69 L636.98,1423.70 L637.98,1423.70 L638.98,1423.70 L639.98,1423.69 L640.98,1423.68 L641.98,1423.67 L642.99,1423.66 L643.99,1423.64 L644.99,1423.61 L645.99,1423.59 L646.99,1423.56 L647.99,1423.52 L649.00,1423.48 L650.00,1423.44 L651.00,1423.40 L651.00,1494.76 L650.00,1494.20 L649.00,1493.64 L647.99,1493.08 L646.99,1492.53 L645.99,1491.98 L644.99,1491.43 L643.99,1490.88 L642.99,1490.34 L641.98,1489.80 L640.98,1489.26 L639.98,1488.72 L638.98,1488.19 L637.98,1487.65 L636.98,1487.12 L635.97,1486.59 L634.97,1486.07 L633.97,1485.54 L632.97,1485.02 L631.97,1484.50 L630.96,1483.99 L629.96,1483.47 L628.96,1482.96 L627.96,1482.45 L626.96,1481.94 L625.96,1481.43 L624.95,1480.92 L623.95,1480.42 L622.95,1479.92 L621.95,1479.42 L620.95,1478.92 L619.94,1478.43 L618.94,1477.94 L617.94,1477.45 L616.94,1476.96 L615.94,1476.47 L614.94,1475.98 L613.93,1475.50 L612.93,1475.02 L611.93,1474.54 L610.93,1474.06 L609.93,1473.59 L608.93,1473.11 L607.92,1472.64 L606.92,1472.17 L605.92,1471.70 L604.92,1471.24 L603.92,1470.77 L602.91,1470.31 L601.91,1469.85 L600.91,1469.39 L599.91,1468.93 L598.91,1468.48 L597.91,1468.02 L596.90,1467.57 L595.90,1467.12 L594.90,1466.67 L593.90,1466.23 L592.90,1465.78 L591.90,1465.34 L590.89,1464.90 L589.89,1464.46 L588.89,1464.02 L587.89,1463.58 L586.89,1463.14 L585.88,1462.71 L584.88,1462.28 L583.88,1461.85 L582.88,1461.42 L581.88,1460.99 L580.88,1460.57 L579.87,1460.14 L578.87,1459.72 L577.87,1459.30 L576.87,1458.88 L575.87,1458.46 L574.86,1458.04 L573.86,1457.63 L572.86,1457.21 L571.86,1456.80 L570.86,1456.39 L569.86,1455.98 L568.85,1455.57 L567.85,1455.16 L566.85,1454.76 L565.85,1454.35 L564.85,1453.95 L563.85,1453.55 L562.84,1453.15 L561.84,1452.75 L560.84,1452.35 L559.84,1451.96 L558.84,1451.56 L557.83,1451.17 L556.83,1450.78 L555.83,1450.38 L554.83,1449.99 L553.83,1449.61 L552.83,1449.22 L551.82,1448.83 L550.82,1448.45 L549.82,1448.06 L548.82,1447.68 L547.82,1447.30 L546.82,1446.92 L545.81,1446.54 L544.81,1446.16 L543.81,1445.78 L542.81,1445.41 L541.81,1445.03 L540.80,1444.66 L539.80,1444.28 L538.80,1443.91 L537.80,1443.54 L536.80,1443.17 L535.80,1442.80 L534.79,1442.44 L533.79,1442.07 L532.79,1441.70 L531.79,1441.34 L530.79,1440.97 L529.78,1440.61 L528.78,1440.25 L527.78,1439.89 L526.78,1439.53 L525.78,1439.17 L524.78,1438.81 L523.77,1438.45 L522.77,1438.10 L521.77,1437.74 L520.77,1437.38 L519.77,1437.03 L518.77,1436.68 L517.76,1436.32 L516.76,1435.97 L515.76,1435.62 L514.76,1435.27 L513.76,1434.92 L512.75,1434.57 L511.75,1434.22 L510.75,1433.87 L509.75,1433.52 L508.75,1433.17 L507.75,1432.82 L506.74,1432.47 L505.74,1432.13 L504.74,1431.78 L503.74,1431.43 L502.74,1431.09 L501.73,1430.74 L500.73,1430.40 L499.73,1430.05 L498.73,1429.71 L497.73,1429.36 L496.73,1429.02 L495.72,1428.67 L494.72,1428.33 L493.72,1427.98 L492.72,1427.64 L491.72,1427.29 L490.72,1426.95 L489.71,1426.60 L488.71,1426.26 L487.71,1425.92 L486.71,1425.57 L485.71,1425.23 L484.70,1424.88 L483.70,1424.54 L482.70,1424.19 L481.70,1423.85 L480.70,1423.50 L479.70,1423.15 L478.69,1422.81 L477.69,1422.46 L476.69,1422.11 L475.69,1421.77 L474.69,1421.42 L473.69,1421.07 L472.68,1420.72 L471.68,1420.37 L470.68,1420.02 L469.68,1419.67 L468.68,1419.32 L467.67,1418.97 L466.67,1418.62 L465.67,1418.27 L464.67,1417.91 L463.67,1417.56 L462.67,1417.21 L461.66,1416.85 L460.66,1416.50 L459.66,1416.14 L458.66,1415.78 L457.66,1415.42 L456.65,1415.06 L455.65,1414.71 L454.65,1414.35 L453.65,1413.98 L452.65,1413.62 L451.65,1413.26 L450.64,1412.90 L449.64,1412.53 L448.64,1412.16 L447.64,1411.80 L446.64,1411.43 L445.64,1411.06 L444.63,1410.69 L443.63,1410.32 L442.63,1409.95 L441.63,1409.58 L440.63,1409.21 L439.62,1408.83 L438.62,1408.45 L437.62,1408.08 L436.62,1407.70 L435.62,1407.32 L434.62,1406.94 L433.61,1406.56 L432.61,1406.18 L431.61,1405.79 L430.61,1405.41 L429.61,1405.02 L428.61,1404.64 L427.60,1404.25 L426.60,1403.86 L425.60,1403.47 L424.60,1403.07 L423.60,1402.68 L422.59,1402.29 L421.59,1401.89 L420.59,1401.49 L419.59,1401.09 L418.59,1400.69 L417.59,1400.29 L416.58,1399.89 L415.58,1399.48 L414.58,1399.07 L413.58,1398.67 L412.58,1398.26 L411.57,1397.85 L410.57,1397.43 L409.57,1397.02 L408.57,1396.61 L407.57,1396.19 L406.57,1395.77 L405.56,1395.35 L404.56,1394.93 L403.56,1394.51 L402.56,1394.08 L401.56,1393.66 L400.56,1393.23 L399.55,1392.80 L398.55,1392.37 L397.55,1391.94 L396.55,1391.50 L395.55,1391.07 L394.54,1390.63 L393.54,1390.20 L392.54,1389.76 L391.54,1389.32 L390.54,1388.87 L389.54,1388.43 L388.53,1387.99 L387.53,1387.54 L386.53,1387.09 L385.53,1386.65 L384.53,1386.20 L383.53,1385.75 L382.52,1385.29 L381.52,1384.84 L380.52,1384.39 L379.52,1383.93 L378.52,1383.47 L377.51,1383.01 L376.51,1382.55 L375.51,1382.09 L374.51,1381.63 L373.51,1381.17 L372.51,1380.70 L371.50,1380.24 L370.50,1379.77 L369.50,1379.30 L368.50,1378.83 L367.50,1378.36 L366.49,1377.89 L365.49,1377.42 L364.49,1376.94 L363.49,1376.47 L362.49,1375.99 L361.49,1375.52 L360.48,1375.04 L359.48,1374.56 L358.48,1374.08 L357.48,1373.60 L356.48,1373.11 L355.48,1372.63 L354.47,1372.15 L353.47,1371.66 L352.47,1371.17 L351.47,1370.69 L350.47,1370.20 L349.46,1369.71 L348.46,1369.22 L347.46,1368.73 L346.46,1368.24 L345.46,1367.74 L344.46,1367.25 L343.45,1366.75 L342.45,1366.26 L341.45,1365.76 L340.45,1365.26 L339.45,1364.77 L338.45,1364.27 L337.44,1363.77 L336.44,1363.26 L335.44,1362.76 L334.44,1362.26 L333.44,1361.76 L332.43,1361.25 L331.43,1360.75 L330.43,1360.24 L329.43,1359.73 L328.43,1359.23 L327.43,1358.72 L326.42,1358.21 L325.42,1357.70 L324.42,1357.19 L323.42,1356.68 L322.42,1356.17 L321.41,1355.66 L320.41,1355.14 L319.41,1354.63 L318.41,1354.11 L317.41,1353.60 L316.41,1353.08 L315.40,1352.57 L314.40,1352.05 L313.40,1351.53 L312.40,1351.01 L311.40,1350.49 L310.40,1349.98 L309.39,1349.46 L308.39,1348.93 L307.39,1348.41 L306.39,1347.89 L305.39,1347.37 L304.38,1346.85 L303.38,1346.32 L302.38,1345.80 L301.38,1345.28 L300.38,1344.75 L299.38,1344.23 L298.37,1343.70 L297.37,1343.17 L296.37,1342.65 L295.37,1342.12 L294.37,1341.59 L293.37,1341.07 L292.36,1340.54 L291.36,1340.01 L290.36,1339.48 L289.36,1338.95 L288.36,1338.42 L287.35,1337.89 L286.35,1337.36 L285.35,1336.83 L284.35,1336.30 L283.35,1335.77 L282.35,1335.23 L281.34,1334.70 L280.34,1334.17 L279.34,1333.64 L278.34,1333.10 L277.34,1332.57 L276.33,1332.04 L275.33,1331.50 L274.33,1330.97 L273.33,1330.44 L272.33,1329.90 L271.33,1329.37 L270.32,1328.83 L269.32,1328.30 L268.32,1327.76 L267.32,1327.23 L266.32,1326.69 L265.32,1326.16 L264.31,1325.62 L263.31,1325.09 L262.31,1324.55 L261.31,1324.02 L260.31,1323.48 L259.30,1322.95 L258.30,1322.41 L257.30,1321.88 L256.30,1321.34 L255.30,1320.81 L254.30,1320.27 L253.29,1319.74 L252.29,1319.21 L251.29,1318.67 L250.29,1318.14 L249.29,1317.61 L248.28,1317.08 L247.28,1316.55 L246.28,1316.02 L245.28,1315.49 L244.28,1314.96 L243.28,1314.43 L242.27,1313.90 L241.27,1313.37 L240.27,1312.84 L239.27,1312.32 L238.27,1311.79 L237.27,1311.27 L236.26,1310.75 L235.26,1310.22 L234.26,1309.70 L233.26,1309.18 L232.26,1308.66 L231.25,1308.14 L230.25,1307.62 L229.25,1307.11 L228.25,1306.59 L227.25,1306.08 L226.25,1305.56 L225.24,1305.05 L224.24,1304.54 L223.24,1304.03 L222.24,1303.52 L221.24,1303.02 L220.24,1302.51 L219.23,1302.01 L218.23,1301.50 L217.23,1301.00 L216.23,1300.50 L215.23,1300.00 L214.22,1299.51 L213.22,1299.01 L212.22,1298.52 L211.22,1298.02 L210.22,1297.53 L209.22,1297.04 L208.21,1296.56 L207.21,1296.07 L206.21,1295.59 L205.21,1295.11 L204.21,1294.63 L203.20,1294.15 L202.20,1293.67 L201.20,1293.20 L200.20,1292.73 L199.20,1292.26 L198.20,1291.79 L197.19,1291.32 L196.19,1290.86 L195.19,1290.40 L194.19,1289.94 L193.19,1289.48 L192.19,1289.02 L191.18,1288.57 L190.18,1288.12 L189.18,1287.67 L188.18,1287.22 L187.18,1286.78 L186.17,1286.34 L185.17,1285.90 L184.17,1285.46 L183.17,1285.03 L182.17,1284.60 L181.17,1284.17 L180.16,1283.74 L179.16,1283.32 L178.16,1282.90 L177.16,1282.48 L176.16,1282.06 L175.16,1281.65 L174.15,1281.24 L173.15,1280.83 L172.15,1280.43 L171.15,1280.03 L170.15,1279.63 L169.14,1279.23 L168.14,1278.84 L167.14,1278.45 L166.14,1278.07 L165.14,1277.68 L164.14,1277.30 L163.13,1276.92 L162.13,1276.55 L161.13,1276.18 L160.13,1275.81 L159.13,1275.45 L158.12,1275.09 L157.12,1274.73 L156.12,1274.37 L155.12,1274.02 L154.12,1273.67 L153.12,1273.33 L152.11,1272.99 L151.11,1272.65 L150.11,1272.32 L149.11,1271.99 L148.11,1271.66 L147.11,1271.34 L146.10,1271.02 L145.10,1270.70 L144.10,1270.39 Z" fill="#fbcbcb"/>
<path d="M144.10,1229.93 L145.10,1230.53 L146.10,1231.13 L147.11,1231.73 L148.11,1232.33 L149.11,1232.93 L150.11,1233.54 L151.11,1234.14 L152.11,1234.74 L153.12,1235.34 L154.12,1235.95 L155.12,1236.55 L156.12,1237.16 L157.12,1237.76 L158.12,1238.36 L159.13,1238.97 L160.13,1239.57 L161.13,1240.18 L162.13,1240.78 L163.13,1241.39 L164.14,1242.00 L165.14,1242.60 L166.14,1243.21 L167.14,1243.81 L168.14,1244.42 L169.14,1245.03 L170.15,1245.63 L171.15,1246.24 L172.15,1246.85 L173.15,1247.45 L174.15,1248.06 L175.16,1248.67 L176.16,1249.28 L177.16,1249.88 L178.16,1250.49 L179.16,1251.10 L180.16,1251.71 L181.17,1252.32 L182.17,1252.92 L183.17,1253.53 L184.17,1254.14 L185.17,1254.75 L186.17,1255.36 L187.18,1255.97 L188.18,1256.58 L189.18,1257.18 L190.18,1257.79 L191.18,1258.40 L192.19,1259.01 L193.19,1259.62 L194.19,1260.23 L195.19,1260.84 L196.19,1261.44 L197.19,1262.05 L198.20,1262.66 L199.20,1263.27 L200.20,1263.88 L201.20,1264.49 L202.20,1265.10 L203.20,1265.70 L204.21,1266.31 L205.21,1266.92 L206.21,1267.53 L207.21,1268.14 L208.21,1268.74 L209.22,1269.35 L210.22,1269.96 L211.22,1270.57 L212.22,1271.18 L213.22,1271.78 L214.22,1272.39 L215.23,1273.00 L216.23,1273.60 L217.23,1274.21 L218.23,1274.82 L219.23,1275.42 L220.24,1276.03 L221.24,1276.64 L222.24,1277.24 L223.24,1277.85 L224.24,1278.45 L225.24,1279.06 L226.25,1279.66 L227.25,1280.27 L228.25,1280.87 L229.25,1281.48 L230.25,1282.08 L231.25,1282.69 L232.26,1283.29 L233.26,1283.89 L234.26,1284.50 L235.26,1285.10 L236.26,1285.70 L237.27,1286.31 L238.27,1286.91 L239.27,1287.51 L240.27,1288.11 L241.27,1288.71 L242.27,1289.31 L243.28,1289.91 L244.28,1290.51 L245.28,1291.11 L246.28,1291.71 L247.28,1292.31 L248.28,1292.91 L249.29,1293.51 L250.29,1294.11 L251.29,1294.71 L252.29,1295.30 L253.29,1295.90 L254.30,1296.50 L255.30,1297.09 L256.30,1297.69 L257.30,1298.28 L258.30,1298.88 L259.30,1299.47 L260.31,1300.07 L261.31,1300.66 L262.31,1301.25 L263.31,1301.85 L264.31,1302.44 L265.32,1303.03 L266.32,1303.62 L267.32,1304.21 L268.32,1304.80 L269.32,1305.39 L270.32,1305.98 L271.33,1306.57 L272.33,1307.16 L273.33,1307.75 L274.33,1308.33 L275.33,1308.92 L276.33,1309.50 L277.34,1310.09 L278.34,1310.68 L279.34,1311.26 L280.34,1311.84 L281.34,1312.43 L282.35,1313.01 L283.35,1313.59 L284.35,1314.17 L285.35,1314.75 L286.35,1315.33 L287.35,1315.91 L288.36,1316.49 L289.36,1317.07 L290.36,1317.65 L291.36,1318.23 L292.36,1318.80 L293.37,1319.38 L294.37,1319.95 L295.37,1320.53 L296.37,1321.10 L297.37,1321.67 L298.37,1322.25 L299.38,1322.82 L300.38,1323.39 L301.38,1323.96 L302.38,1324.53 L303.38,1325.10 L304.38,1325.66 L305.39,1326.23 L306.39,1326.80 L307.39,1327.36 L308.39,1327.93 L309.39,1328.49 L310.40,1329.06 L311.40,1329.62 L312.40,1330.18 L313.40,1330.74 L314.40,1331.30 L315.40,1331.86 L316.41,1332.42 L317.41,1332.98 L318.41,1333.54 L319.41,1334.09 L320.41,1334.65 L321.41,1335.20 L322.42,1335.76 L323.42,1336.31 L324.42,1336.86 L325.42,1337.41 L326.42,1337.96 L327.43,1338.51 L328.43,1339.06 L329.43,1339.61 L330.43,1340.15 L331.43,1340.70 L332.43,1341.24 L333.44,1341.79 L334.44,1342.33 L335.44,1342.87 L336.44,1343.41 L337.44,1343.95 L338.45,1344.49 L339.45,1345.03 L340.45,1345.57 L341.45,1346.10 L342.45,1346.64 L343.45,1347.17 L344.46,1347.71 L345.46,1348.24 L346.46,1348.77 L347.46,1349.30 L348.46,1349.83 L349.46,1350.36 L350.47,1350.88 L351.47,1351.41 L352.47,1351.93 L353.47,1352.46 L354.47,1352.98 L355.48,1353.50 L356.48,1354.02 L357.48,1354.54 L358.48,1355.06 L359.48,1355.58 L360.48,1356.10 L361.49,1356.61 L362.49,1357.12 L363.49,1357.64 L364.49,1358.15 L365.49,1358.66 L366.49,1359.17 L367.50,1359.68 L368.50,1360.18 L369.50,1360.69 L370.50,1361.19 L371.50,1361.70 L372.51,1362.20 L373.51,1362.70 L374.51,1363.20 L375.51,1363.70 L376.51,1364.20 L377.51,1364.69 L378.52,1365.19 L379.52,1365.68 L380.52,1366.18 L381.52,1366.67 L382.52,1367.16 L383.53,1367.65 L384.53,1368.13 L385.53,1368.62 L386.53,1369.11 L387.53,1369.59 L388.53,1370.07 L389.54,1370.55 L390.54,1371.03 L391.54,1371.51 L392.54,1371.99 L393.54,1372.47 L394.54,1372.94 L395.55,1373.41 L396.55,1373.88 L397.55,1374.36 L398.55,1374.82 L399.55,1375.29 L400.56,1375.76 L401.56,1376.22 L402.56,1376.69 L403.56,1377.15 L404.56,1377.61 L405.56,1378.07 L406.57,1378.53 L407.57,1378.98 L408.57,1379.44 L409.57,1379.89 L410.57,1380.35 L411.57,1380.80 L412.58,1381.25 L413.58,1381.69 L414.58,1382.14 L415.58,1382.59 L416.58,1383.03 L417.59,1383.47 L418.59,1383.91 L419.59,1384.35 L420.59,1384.79 L421.59,1385.23 L422.59,1385.66 L423.60,1386.10 L424.60,1386.53 L425.60,1386.96 L426.60,1387.39 L427.60,1387.82 L428.61,1388.25 L429.61,1388.67 L430.61,1389.10 L431.61,1389.52 L432.61,1389.94 L433.61,1390.36 L434.62,1390.78 L435.62,1391.20 L436.62,1391.61 L437.62,1392.03 L438.62,1392.44 L439.62,1392.86 L440.63,1393.27 L441.63,1393.68 L442.63,1394.09 L443.63,1394.49 L444.63,1394.90 L445.64,1395.30 L446.64,1395.71 L447.64,1396.11 L448.64,1396.51 L449.64,1396.91 L450.64,1397.31 L451.65,1397.71 L452.65,1398.10 L453.65,1398.50 L454.65,1398.89 L455.65,1399.28 L456.65,1399.68 L457.66,1400.07 L458.66,1400.45 L459.66,1400.84 L460.66,1401.23 L461.66,1401.61 L462.67,1402.00 L463.67,1402.38 L464.67,1402.76 L465.67,1403.14 L466.67,1403.52 L467.67,1403.90 L468.68,1404.28 L469.68,1404.65 L470.68,1405.03 L471.68,1405.40 L472.68,1405.77 L473.69,1406.15 L474.69,1406.52 L475.69,1406.89 L476.69,1407.25 L477.69,1407.62 L478.69,1407.99 L479.70,1408.35 L480.70,1408.72 L481.70,1409.08 L482.70,1409.44 L483.70,1409.80 L484.70,1410.16 L485.71,1410.52 L486.71,1410.88 L487.71,1411.23 L488.71,1411.59 L489.71,1411.94 L490.72,1412.29 L491.72,1412.65 L492.72,1413.00 L493.72,1413.35 L494.72,1413.70 L495.72,1414.04 L496.73,1414.39 L497.73,1414.74 L498.73,1415.08 L499.73,1415.43 L500.73,1415.77 L501.73,1416.11 L502.74,1416.45 L503.74,1416.79 L504.74,1417.13 L505.74,1417.47 L506.74,1417.81 L507.75,1418.14 L508.75,1418.48 L509.75,1418.81 L510.75,1419.15 L511.75,1419.48 L512.75,1419.81 L513.76,1420.14 L514.76,1420.47 L515.76,1420.80 L516.76,1421.13 L517.76,1421.46 L518.77,1421.78 L519.77,1422.11 L520.77,1422.43 L521.77,1422.76 L522.77,1423.08 L523.77,1423.40 L524.78,1423.72 L525.78,1424.04 L526.78,1424.36 L527.78,1424.68 L528.78,1425.00 L529.78,1425.31 L530.79,1425.63 L531.79,1425.94 L532.79,1426.26 L533.79,1426.57 L534.79,1426.89 L535.80,1427.20 L536.80,1427.51 L537.80,1427.82 L538.80,1428.13 L539.80,1428.44 L540.80,1428.74 L541.81,1429.05 L542.81,1429.36 L543.81,1429.66 L544.81,1429.97 L545.81,1430.27 L546.82,1430.58 L547.82,1430.88 L548.82,1431.18 L549.82,1431.48 L550.82,1431.78 L551.82,1432.08 L552.83,1432.38 L553.83,1432.68 L554.83,1432.98 L555.83,1433.27 L556.83,1433.57 L557.83,1433.86 L558.84,1434.16 L559.84,1434.45 L560.84,1434.75 L561.84,1435.04 L562.84,1435.33 L563.85,1435.62 L564.85,1435.91 L565.85,1436.20 L566.85,1436.49 L567.85,1436.78 L568.85,1437.07 L569.86,1437.36 L570.86,1437.65 L571.86,1437.93 L572.86,1438.22 L573.86,1438.50 L574.86,1438.79 L575.87,1439.07 L576.87,1439.35 L577.87,1439.64 L578.87,1439.92 L579.87,1440.20 L580.88,1440.48 L581.88,1440.76 L582.88,1441.04 L583.88,1441.32 L584.88,1441.60 L585.88,1441.88 L586.89,1442.16 L587.89,1442.43 L588.89,1442.71 L589.89,1442.99 L590.89,1443.26 L591.90,1443.54 L592.90,1443.81 L593.90,1444.08 L594.90,1444.36 L595.90,1444.63 L596.90,1444.90 L597.91,1445.18 L598.91,1445.45 L599.91,1445.72 L600.91,1445.99 L601.91,1446.26 L602.91,1446.53 L603.92,1446.80 L604.92,1447.07 L605.92,1447.34 L606.92,1447.60 L607.92,1447.87 L608.93,1448.14 L609.93,1448.40 L610.93,1448.67 L611.93,1448.94 L612.93,1449.20 L613.93,1449.47 L614.94,1449.73 L615.94,1450.00 L616.94,1450.26 L617.94,1450.52 L618.94,1450.79 L619.94,1451.05 L620.95,1451.31 L621.95,1451.57 L622.95,1451.83 L623.95,1452.10 L624.95,1452.36 L625.96,1452.62 L626.96,1452.88 L627.96,1453.14 L628.96,1453.40 L629.96,1453.66 L630.96,1453.91 L631.97,1454.17 L632.97,1454.43 L633.97,1454.69 L634.97,1454.95 L635.97,1455.20 L636.98,1455.46 L637.98,1455.72 L638.98,1455.98 L639.98,1456.23 L640.98,1456.49 L641.98,1456.74 L642.99,1457.00 L643.99,1457.25 L644.99,1457.51 L645.99,1457.76 L646.99,1458.02 L647.99,1458.27 L649.00,1458.53 L650.00,1458.78 L651.00,1459.03" fill="none" stroke="#e00f14" stroke-width="4.00" stroke-linejoin="round"/>
<path d="M118.60,1382.20 H676.80" stroke="#000" stroke-opacity="0.64" stroke-width="1.80" fill="none"/>
<path d="M410.20,1173.80 V1591.20" stroke="#000" stroke-opacity="0.64" stroke-width="1.80" fill="none"/>
<rect x="118.60" y="1173.80" width="558.20" height="417.40" fill="none" stroke="#000" stroke-width="2.80"/>
<path d="M197.60,1591.20 v4.40 M197.60,1173.80 v-4.40 M303.90,1591.20 v4.40 M303.90,1173.80 v-4.40 M410.20,1591.20 v4.40 M410.20,1173.80 v-4.40 M516.50,1591.20 v4.40 M516.50,1173.80 v-4.40 M622.80,1591.20 v4.40 M622.80,1173.80 v-4.40 M118.60,1549.00 h-4.40 M676.80,1549.00 h4.40 M118.60,1465.60 h-4.40 M676.80,1465.60 h4.40 M118.60,1382.20 h-4.40 M676.80,1382.20 h4.40 M118.60,1298.80 h-4.40 M676.80,1298.80 h4.40 M118.60,1215.40 h-4.40 M676.80,1215.40 h4.40" stroke="#000" stroke-width="2.4" fill="none"/>
<text transform="translate(172.18,1638.70) scale(1,1.015)" class="tl">-10</text>
<text transform="translate(288.28,1638.70) scale(1,1.015)" class="tl">-5</text>
<text transform="translate(400.44,1638.70) scale(1,1.015)" class="tl">0</text>
<text transform="translate(506.79,1638.70) scale(1,1.015)" class="tl">5</text>
<text transform="translate(602.72,1638.70) scale(1,1.015)" class="tl">10</text>
<text transform="translate(46.16,1562.05) scale(1,1.015)" class="tl">-0.2</text>
<text transform="translate(43.08,1478.65) scale(1,1.015)" class="tl">-0.1</text>
<text transform="translate(86.59,1395.25) scale(1,1.015)" class="tl">0</text>
<text transform="translate(54.71,1311.85) scale(1,1.015)" class="tl">0.1</text>
<text transform="translate(57.80,1228.45) scale(1,1.015)" class="tl">0.2</text>
<text transform="translate(143.51,1678.20) scale(1,1.020)" x="0" y="0" class="al" textLength="550.12" lengthAdjust="spacingAndGlyphs">Ambient Temperature anomaly (°C)</text>
<text transform="translate(29.70,1576.71) rotate(-90) scale(1,1.020)" x="0" y="0" class="al" textLength="423.19" lengthAdjust="spacingAndGlyphs">Finishing Time Anomaly (s)</text>
<text transform="translate(61.32,1165.00) scale(1,1.000)" x="0" y="0" class="pl" textLength="42.49" lengthAdjust="spacingAndGlyphs">(c)</text>
<text transform="translate(126.45,1211.90) scale(1,1.020)" x="0" y="0" class="il" textLength="174.13" lengthAdjust="spacingAndGlyphs">Women T-FT</text>
<path d="M793.30,96.00 L794.30,96.68 L795.30,97.37 L796.30,98.06 L797.30,98.75 L798.30,99.44 L799.30,100.13 L800.30,100.82 L801.30,101.52 L802.30,102.21 L803.30,102.91 L804.30,103.61 L805.30,104.30 L806.30,105.00 L807.30,105.70 L808.30,106.41 L809.30,107.11 L810.30,107.81 L811.30,108.51 L812.30,109.22 L813.30,109.93 L814.30,110.63 L815.30,111.34 L816.30,112.05 L817.30,112.76 L818.30,113.47 L819.31,114.18 L820.31,114.89 L821.31,115.60 L822.31,116.31 L823.31,117.02 L824.31,117.74 L825.31,118.45 L826.31,119.17 L827.31,119.88 L828.31,120.60 L829.31,121.31 L830.31,122.03 L831.31,122.75 L832.31,123.47 L833.31,124.18 L834.31,124.90 L835.31,125.62 L836.31,126.34 L837.31,127.06 L838.31,127.78 L839.31,128.50 L840.31,129.22 L841.31,129.94 L842.31,130.67 L843.31,131.39 L844.31,132.11 L845.31,132.83 L846.31,133.55 L847.31,134.27 L848.31,135.00 L849.31,135.72 L850.31,136.44 L851.31,137.16 L852.31,137.89 L853.31,138.61 L854.31,139.33 L855.31,140.06 L856.31,140.78 L857.31,141.50 L858.31,142.22 L859.31,142.95 L860.31,143.67 L861.31,144.39 L862.31,145.11 L863.31,145.83 L864.31,146.56 L865.31,147.28 L866.31,148.00 L867.31,148.72 L868.31,149.44 L869.31,150.16 L870.32,150.88 L871.32,151.60 L872.32,152.32 L873.32,153.04 L874.32,153.76 L875.32,154.48 L876.32,155.19 L877.32,155.91 L878.32,156.63 L879.32,157.35 L880.32,158.06 L881.32,158.78 L882.32,159.49 L883.32,160.21 L884.32,160.92 L885.32,161.63 L886.32,162.34 L887.32,163.06 L888.32,163.77 L889.32,164.48 L890.32,165.19 L891.32,165.89 L892.32,166.60 L893.32,167.31 L894.32,168.02 L895.32,168.72 L896.32,169.43 L897.32,170.13 L898.32,170.83 L899.32,171.54 L900.32,172.24 L901.32,172.94 L902.32,173.64 L903.32,174.33 L904.32,175.03 L905.32,175.73 L906.32,176.42 L907.32,177.12 L908.32,177.81 L909.32,178.50 L910.32,179.19 L911.32,179.88 L912.32,180.57 L913.32,181.26 L914.32,181.94 L915.32,182.63 L916.32,183.31 L917.32,183.99 L918.32,184.68 L919.32,185.35 L920.33,186.03 L921.33,186.71 L922.33,187.39 L923.33,188.06 L924.33,188.73 L925.33,189.40 L926.33,190.07 L927.33,190.74 L928.33,191.41 L929.33,192.07 L930.33,192.74 L931.33,193.40 L932.33,194.06 L933.33,194.72 L934.33,195.38 L935.33,196.03 L936.33,196.69 L937.33,197.34 L938.33,197.99 L939.33,198.64 L940.33,199.29 L941.33,199.93 L942.33,200.58 L943.33,201.22 L944.33,201.86 L945.33,202.50 L946.33,203.13 L947.33,203.77 L948.33,204.40 L949.33,205.03 L950.33,205.66 L951.33,206.29 L952.33,206.91 L953.33,207.53 L954.33,208.16 L955.33,208.77 L956.33,209.39 L957.33,210.01 L958.33,210.62 L959.33,211.23 L960.33,211.84 L961.33,212.44 L962.33,213.05 L963.33,213.65 L964.33,214.25 L965.33,214.84 L966.33,215.44 L967.33,216.03 L968.33,216.62 L969.33,217.21 L970.33,217.80 L971.34,218.38 L972.34,218.96 L973.34,219.54 L974.34,220.11 L975.34,220.69 L976.34,221.26 L977.34,221.83 L978.34,222.39 L979.34,222.96 L980.34,223.52 L981.34,224.07 L982.34,224.63 L983.34,225.18 L984.34,225.73 L985.34,226.28 L986.34,226.83 L987.34,227.37 L988.34,227.91 L989.34,228.45 L990.34,228.98 L991.34,229.51 L992.34,230.04 L993.34,230.57 L994.34,231.09 L995.34,231.61 L996.34,232.13 L997.34,232.64 L998.34,233.15 L999.34,233.66 L1000.34,234.17 L1001.34,234.67 L1002.34,235.17 L1003.34,235.66 L1004.34,236.16 L1005.34,236.65 L1006.34,237.13 L1007.34,237.62 L1008.34,238.10 L1009.34,238.58 L1010.34,239.05 L1011.34,239.52 L1012.34,239.99 L1013.34,240.46 L1014.34,240.92 L1015.34,241.38 L1016.34,241.83 L1017.34,242.28 L1018.34,242.73 L1019.34,243.18 L1020.34,243.62 L1021.34,244.06 L1022.35,244.49 L1023.35,244.93 L1024.35,245.35 L1025.35,245.78 L1026.35,246.20 L1027.35,246.62 L1028.35,247.03 L1029.35,247.44 L1030.35,247.85 L1031.35,248.25 L1032.35,248.65 L1033.35,249.05 L1034.35,249.44 L1035.35,249.83 L1036.35,250.21 L1037.35,250.60 L1038.35,250.97 L1039.35,251.35 L1040.35,251.72 L1041.35,252.08 L1042.35,252.45 L1043.35,252.81 L1044.35,253.16 L1045.35,253.51 L1046.35,253.86 L1047.35,254.20 L1048.35,254.54 L1049.35,254.88 L1050.35,255.21 L1051.35,255.53 L1052.35,255.86 L1053.35,256.18 L1054.35,256.49 L1055.35,256.80 L1056.35,257.11 L1057.35,257.41 L1058.35,257.71 L1059.35,258.00 L1060.35,258.30 L1061.35,258.58 L1062.35,258.86 L1063.35,259.14 L1064.35,259.41 L1065.35,259.68 L1066.35,259.95 L1067.35,260.21 L1068.35,260.46 L1069.35,260.72 L1070.35,260.96 L1071.35,261.21 L1072.36,261.44 L1073.36,261.68 L1074.36,261.91 L1075.36,262.13 L1076.36,262.35 L1077.36,262.57 L1078.36,262.78 L1079.36,262.99 L1080.36,263.20 L1081.36,263.40 L1082.36,263.60 L1083.36,263.79 L1084.36,263.99 L1085.36,264.17 L1086.36,264.36 L1087.36,264.54 L1088.36,264.72 L1089.36,264.90 L1090.36,265.08 L1091.36,265.25 L1092.36,265.42 L1093.36,265.59 L1094.36,265.75 L1095.36,265.92 L1096.36,266.08 L1097.36,266.24 L1098.36,266.40 L1099.36,266.56 L1100.36,266.72 L1101.36,266.87 L1102.36,267.03 L1103.36,267.18 L1104.36,267.34 L1105.36,267.49 L1106.36,267.64 L1107.36,267.79 L1108.36,267.94 L1109.36,268.10 L1110.36,268.25 L1111.36,268.40 L1112.36,268.55 L1113.36,268.70 L1114.36,268.85 L1115.36,269.01 L1116.36,269.16 L1117.36,269.32 L1118.36,269.47 L1119.36,269.63 L1120.36,269.79 L1121.36,269.94 L1122.36,270.10 L1123.37,270.27 L1124.37,270.43 L1125.37,270.60 L1126.37,270.76 L1127.37,270.93 L1128.37,271.10 L1129.37,271.28 L1130.37,271.45 L1131.37,271.63 L1132.37,271.81 L1133.37,272.00 L1134.37,272.18 L1135.37,272.37 L1136.37,272.56 L1137.37,272.76 L1138.37,272.95 L1139.37,273.15 L1140.37,273.35 L1141.37,273.55 L1142.37,273.75 L1143.37,273.96 L1144.37,274.17 L1145.37,274.37 L1146.37,274.59 L1147.37,274.80 L1148.37,275.01 L1149.37,275.23 L1150.37,275.45 L1151.37,275.67 L1152.37,275.89 L1153.37,276.11 L1154.37,276.34 L1155.37,276.56 L1156.37,276.79 L1157.37,277.02 L1158.37,277.25 L1159.37,277.48 L1160.37,277.71 L1161.37,277.95 L1162.37,278.18 L1163.37,278.42 L1164.37,278.66 L1165.37,278.90 L1166.37,279.14 L1167.37,279.38 L1168.37,279.62 L1169.37,279.86 L1170.37,280.11 L1171.37,280.35 L1172.37,280.60 L1173.37,280.84 L1174.38,281.09 L1175.38,281.34 L1176.38,281.59 L1177.38,281.84 L1178.38,282.09 L1179.38,282.34 L1180.38,282.59 L1181.38,282.84 L1182.38,283.09 L1183.38,283.34 L1184.38,283.59 L1185.38,283.85 L1186.38,284.10 L1187.38,284.35 L1188.38,284.60 L1189.38,284.86 L1190.38,285.11 L1191.38,285.37 L1192.38,285.62 L1193.38,285.87 L1194.38,286.13 L1195.38,286.38 L1196.38,286.63 L1197.38,286.89 L1198.38,287.14 L1199.38,287.40 L1200.38,287.65 L1201.38,287.90 L1202.38,288.16 L1203.38,288.41 L1204.38,288.66 L1205.38,288.91 L1206.38,289.17 L1207.38,289.42 L1208.38,289.67 L1209.38,289.92 L1210.38,290.17 L1211.38,290.42 L1212.38,290.67 L1213.38,290.92 L1214.38,291.17 L1215.38,291.41 L1216.38,291.66 L1217.38,291.91 L1218.38,292.15 L1219.38,292.40 L1220.38,292.64 L1221.38,292.89 L1222.38,293.13 L1223.38,293.37 L1224.39,293.61 L1225.39,293.85 L1226.39,294.09 L1227.39,294.33 L1228.39,294.57 L1229.39,294.81 L1230.39,295.04 L1231.39,295.28 L1232.39,295.51 L1233.39,295.74 L1234.39,295.97 L1235.39,296.20 L1236.39,296.43 L1237.39,296.66 L1238.39,296.89 L1239.39,297.11 L1240.39,297.34 L1241.39,297.56 L1242.39,297.78 L1243.39,298.00 L1244.39,298.22 L1245.39,298.43 L1246.39,298.65 L1247.39,298.86 L1248.39,299.07 L1249.39,299.28 L1250.39,299.49 L1251.39,299.70 L1252.39,299.91 L1253.39,300.11 L1254.39,300.31 L1255.39,300.51 L1256.39,300.71 L1257.39,300.91 L1258.39,301.10 L1259.39,301.30 L1260.39,301.49 L1261.39,301.68 L1262.39,301.86 L1263.39,302.05 L1264.39,302.23 L1265.39,302.41 L1266.39,302.59 L1267.39,302.77 L1268.39,302.95 L1269.39,303.12 L1270.39,303.29 L1271.39,303.46 L1272.39,303.62 L1273.39,303.79 L1274.39,303.95 L1275.40,304.11 L1276.40,304.26 L1277.40,304.42 L1278.40,304.57 L1279.40,304.72 L1280.40,304.87 L1281.40,305.01 L1282.40,305.15 L1283.40,305.29 L1284.40,305.43 L1285.40,305.56 L1286.40,305.69 L1287.40,305.82 L1288.40,305.95 L1289.40,306.07 L1290.40,306.19 L1291.40,306.31 L1292.40,306.42 L1293.40,306.54 L1294.40,306.64 L1295.40,306.75 L1296.40,306.85 L1297.40,306.95 L1298.40,307.05 L1299.40,307.14 L1300.40,307.23 L1300.40,337.55 L1299.40,337.21 L1298.40,336.88 L1297.40,336.54 L1296.40,336.20 L1295.40,335.85 L1294.40,335.51 L1293.40,335.17 L1292.40,334.82 L1291.40,334.48 L1290.40,334.13 L1289.40,333.78 L1288.40,333.43 L1287.40,333.08 L1286.40,332.72 L1285.40,332.37 L1284.40,332.01 L1283.40,331.66 L1282.40,331.30 L1281.40,330.94 L1280.40,330.58 L1279.40,330.22 L1278.40,329.86 L1277.40,329.50 L1276.40,329.14 L1275.40,328.78 L1274.39,328.41 L1273.39,328.05 L1272.39,327.68 L1271.39,327.32 L1270.39,326.95 L1269.39,326.58 L1268.39,326.21 L1267.39,325.85 L1266.39,325.48 L1265.39,325.11 L1264.39,324.74 L1263.39,324.37 L1262.39,324.00 L1261.39,323.62 L1260.39,323.25 L1259.39,322.88 L1258.39,322.51 L1257.39,322.14 L1256.39,321.76 L1255.39,321.39 L1254.39,321.02 L1253.39,320.64 L1252.39,320.27 L1251.39,319.90 L1250.39,319.52 L1249.39,319.15 L1248.39,318.78 L1247.39,318.40 L1246.39,318.03 L1245.39,317.66 L1244.39,317.28 L1243.39,316.91 L1242.39,316.54 L1241.39,316.17 L1240.39,315.79 L1239.39,315.42 L1238.39,315.05 L1237.39,314.68 L1236.39,314.31 L1235.39,313.94 L1234.39,313.57 L1233.39,313.20 L1232.39,312.83 L1231.39,312.46 L1230.39,312.09 L1229.39,311.72 L1228.39,311.36 L1227.39,310.99 L1226.39,310.62 L1225.39,310.26 L1224.39,309.90 L1223.38,309.53 L1222.38,309.17 L1221.38,308.81 L1220.38,308.45 L1219.38,308.09 L1218.38,307.73 L1217.38,307.37 L1216.38,307.01 L1215.38,306.65 L1214.38,306.30 L1213.38,305.94 L1212.38,305.59 L1211.38,305.24 L1210.38,304.89 L1209.38,304.54 L1208.38,304.19 L1207.38,303.84 L1206.38,303.50 L1205.38,303.15 L1204.38,302.81 L1203.38,302.47 L1202.38,302.12 L1201.38,301.79 L1200.38,301.45 L1199.38,301.11 L1198.38,300.78 L1197.38,300.44 L1196.38,300.11 L1195.38,299.78 L1194.38,299.45 L1193.38,299.12 L1192.38,298.80 L1191.38,298.48 L1190.38,298.15 L1189.38,297.83 L1188.38,297.52 L1187.38,297.20 L1186.38,296.88 L1185.38,296.57 L1184.38,296.26 L1183.38,295.95 L1182.38,295.65 L1181.38,295.34 L1180.38,295.04 L1179.38,294.74 L1178.38,294.44 L1177.38,294.14 L1176.38,293.84 L1175.38,293.55 L1174.38,293.26 L1173.37,292.97 L1172.37,292.68 L1171.37,292.39 L1170.37,292.11 L1169.37,291.82 L1168.37,291.54 L1167.37,291.26 L1166.37,290.98 L1165.37,290.70 L1164.37,290.43 L1163.37,290.15 L1162.37,289.88 L1161.37,289.61 L1160.37,289.34 L1159.37,289.07 L1158.37,288.80 L1157.37,288.54 L1156.37,288.27 L1155.37,288.01 L1154.37,287.74 L1153.37,287.48 L1152.37,287.22 L1151.37,286.96 L1150.37,286.70 L1149.37,286.45 L1148.37,286.19 L1147.37,285.94 L1146.37,285.68 L1145.37,285.43 L1144.37,285.18 L1143.37,284.92 L1142.37,284.67 L1141.37,284.42 L1140.37,284.18 L1139.37,283.93 L1138.37,283.68 L1137.37,283.43 L1136.37,283.19 L1135.37,282.94 L1134.37,282.70 L1133.37,282.45 L1132.37,282.21 L1131.37,281.97 L1130.37,281.73 L1129.37,281.48 L1128.37,281.24 L1127.37,281.00 L1126.37,280.76 L1125.37,280.52 L1124.37,280.28 L1123.37,280.04 L1122.36,279.80 L1121.36,279.56 L1120.36,279.32 L1119.36,279.09 L1118.36,278.85 L1117.36,278.61 L1116.36,278.37 L1115.36,278.14 L1114.36,277.90 L1113.36,277.66 L1112.36,277.42 L1111.36,277.18 L1110.36,276.95 L1109.36,276.71 L1108.36,276.47 L1107.36,276.23 L1106.36,276.00 L1105.36,275.76 L1104.36,275.52 L1103.36,275.28 L1102.36,275.04 L1101.36,274.80 L1100.36,274.56 L1099.36,274.32 L1098.36,274.08 L1097.36,273.84 L1096.36,273.60 L1095.36,273.36 L1094.36,273.12 L1093.36,272.88 L1092.36,272.63 L1091.36,272.39 L1090.36,272.15 L1089.36,271.90 L1088.36,271.66 L1087.36,271.41 L1086.36,271.16 L1085.36,270.92 L1084.36,270.67 L1083.36,270.42 L1082.36,270.17 L1081.36,269.92 L1080.36,269.67 L1079.36,269.42 L1078.36,269.16 L1077.36,268.91 L1076.36,268.65 L1075.36,268.40 L1074.36,268.14 L1073.36,267.88 L1072.36,267.62 L1071.35,267.36 L1070.35,267.10 L1069.35,266.84 L1068.35,266.57 L1067.35,266.31 L1066.35,266.04 L1065.35,265.77 L1064.35,265.50 L1063.35,265.23 L1062.35,264.96 L1061.35,264.69 L1060.35,264.41 L1059.35,264.13 L1058.35,263.86 L1057.35,263.58 L1056.35,263.29 L1055.35,263.01 L1054.35,262.73 L1053.35,262.44 L1052.35,262.15 L1051.35,261.86 L1050.35,261.57 L1049.35,261.27 L1048.35,260.98 L1047.35,260.68 L1046.35,260.38 L1045.35,260.08 L1044.35,259.77 L1043.35,259.47 L1042.35,259.16 L1041.35,258.85 L1040.35,258.53 L1039.35,258.22 L1038.35,257.90 L1037.35,257.58 L1036.35,257.26 L1035.35,256.94 L1034.35,256.61 L1033.35,256.28 L1032.35,255.95 L1031.35,255.61 L1030.35,255.28 L1029.35,254.94 L1028.35,254.59 L1027.35,254.25 L1026.35,253.90 L1025.35,253.55 L1024.35,253.20 L1023.35,252.84 L1022.35,252.48 L1021.34,252.12 L1020.34,251.76 L1019.34,251.39 L1018.34,251.02 L1017.34,250.65 L1016.34,250.27 L1015.34,249.89 L1014.34,249.51 L1013.34,249.12 L1012.34,248.73 L1011.34,248.34 L1010.34,247.94 L1009.34,247.54 L1008.34,247.14 L1007.34,246.74 L1006.34,246.33 L1005.34,245.92 L1004.34,245.50 L1003.34,245.09 L1002.34,244.66 L1001.34,244.24 L1000.34,243.81 L999.34,243.38 L998.34,242.95 L997.34,242.52 L996.34,242.08 L995.34,241.64 L994.34,241.19 L993.34,240.74 L992.34,240.29 L991.34,239.84 L990.34,239.38 L989.34,238.93 L988.34,238.46 L987.34,238.00 L986.34,237.53 L985.34,237.06 L984.34,236.59 L983.34,236.11 L982.34,235.63 L981.34,235.15 L980.34,234.67 L979.34,234.18 L978.34,233.69 L977.34,233.20 L976.34,232.71 L975.34,232.21 L974.34,231.71 L973.34,231.21 L972.34,230.70 L971.34,230.19 L970.33,229.68 L969.33,229.17 L968.33,228.65 L967.33,228.13 L966.33,227.61 L965.33,227.09 L964.33,226.57 L963.33,226.04 L962.33,225.51 L961.33,224.97 L960.33,224.44 L959.33,223.90 L958.33,223.36 L957.33,222.82 L956.33,222.27 L955.33,221.72 L954.33,221.17 L953.33,220.62 L952.33,220.07 L951.33,219.51 L950.33,218.95 L949.33,218.39 L948.33,217.83 L947.33,217.26 L946.33,216.69 L945.33,216.12 L944.33,215.55 L943.33,214.98 L942.33,214.40 L941.33,213.82 L940.33,213.24 L939.33,212.66 L938.33,212.07 L937.33,211.48 L936.33,210.90 L935.33,210.31 L934.33,209.71 L933.33,209.12 L932.33,208.52 L931.33,207.93 L930.33,207.33 L929.33,206.73 L928.33,206.12 L927.33,205.52 L926.33,204.92 L925.33,204.31 L924.33,203.70 L923.33,203.09 L922.33,202.48 L921.33,201.87 L920.33,201.26 L919.32,200.64 L918.32,200.03 L917.32,199.41 L916.32,198.79 L915.32,198.17 L914.32,197.56 L913.32,196.93 L912.32,196.31 L911.32,195.69 L910.32,195.07 L909.32,194.44 L908.32,193.82 L907.32,193.19 L906.32,192.57 L905.32,191.94 L904.32,191.32 L903.32,190.69 L902.32,190.06 L901.32,189.43 L900.32,188.80 L899.32,188.17 L898.32,187.54 L897.32,186.91 L896.32,186.28 L895.32,185.65 L894.32,185.02 L893.32,184.39 L892.32,183.76 L891.32,183.13 L890.32,182.50 L889.32,181.87 L888.32,181.24 L887.32,180.61 L886.32,179.98 L885.32,179.35 L884.32,178.72 L883.32,178.09 L882.32,177.46 L881.32,176.83 L880.32,176.20 L879.32,175.57 L878.32,174.95 L877.32,174.32 L876.32,173.69 L875.32,173.07 L874.32,172.44 L873.32,171.82 L872.32,171.20 L871.32,170.57 L870.32,169.95 L869.31,169.33 L868.31,168.71 L867.31,168.09 L866.31,167.47 L865.31,166.85 L864.31,166.24 L863.31,165.62 L862.31,165.01 L861.31,164.40 L860.31,163.78 L859.31,163.17 L858.31,162.57 L857.31,161.96 L856.31,161.35 L855.31,160.75 L854.31,160.14 L853.31,159.54 L852.31,158.94 L851.31,158.34 L850.31,157.75 L849.31,157.15 L848.31,156.56 L847.31,155.96 L846.31,155.37 L845.31,154.79 L844.31,154.20 L843.31,153.62 L842.31,153.03 L841.31,152.45 L840.31,151.87 L839.31,151.30 L838.31,150.72 L837.31,150.15 L836.31,149.58 L835.31,149.02 L834.31,148.45 L833.31,147.89 L832.31,147.33 L831.31,146.77 L830.31,146.21 L829.31,145.66 L828.31,145.11 L827.31,144.56 L826.31,144.02 L825.31,143.47 L824.31,142.93 L823.31,142.40 L822.31,141.86 L821.31,141.33 L820.31,140.80 L819.31,140.28 L818.30,139.75 L817.30,139.23 L816.30,138.72 L815.30,138.20 L814.30,137.69 L813.30,137.18 L812.30,136.68 L811.30,136.18 L810.30,135.68 L809.30,135.19 L808.30,134.69 L807.30,134.21 L806.30,133.72 L805.30,133.24 L804.30,132.76 L803.30,132.29 L802.30,131.82 L801.30,131.35 L800.30,130.89 L799.30,130.43 L798.30,129.98 L797.30,129.52 L796.30,129.08 L795.30,128.63 L794.30,128.19 L793.30,127.76 Z" fill="#a4cce1"/>
<path d="M793.30,111.45 L794.30,112.07 L795.30,112.69 L796.30,113.32 L797.30,113.94 L798.30,114.57 L799.30,115.20 L800.30,115.83 L801.30,116.46 L802.30,117.09 L803.30,117.72 L804.30,118.35 L805.30,118.99 L806.30,119.62 L807.30,120.26 L808.30,120.89 L809.30,121.53 L810.30,122.17 L811.30,122.81 L812.30,123.45 L813.30,124.09 L814.30,124.73 L815.30,125.37 L816.30,126.02 L817.30,126.66 L818.30,127.31 L819.31,127.95 L820.31,128.60 L821.31,129.24 L822.31,129.89 L823.31,130.54 L824.31,131.19 L825.31,131.84 L826.31,132.49 L827.31,133.14 L828.31,133.79 L829.31,134.44 L830.31,135.10 L831.31,135.75 L832.31,136.40 L833.31,137.06 L834.31,137.71 L835.31,138.36 L836.31,139.02 L837.31,139.68 L838.31,140.33 L839.31,140.99 L840.31,141.64 L841.31,142.30 L842.31,142.96 L843.31,143.62 L844.31,144.27 L845.31,144.93 L846.31,145.59 L847.31,146.25 L848.31,146.91 L849.31,147.57 L850.31,148.23 L851.31,148.88 L852.31,149.54 L853.31,150.20 L854.31,150.86 L855.31,151.52 L856.31,152.18 L857.31,152.84 L858.31,153.50 L859.31,154.16 L860.31,154.82 L861.31,155.48 L862.31,156.14 L863.31,156.80 L864.31,157.46 L865.31,158.12 L866.31,158.78 L867.31,159.44 L868.31,160.10 L869.31,160.75 L870.32,161.41 L871.32,162.07 L872.32,162.73 L873.32,163.39 L874.32,164.04 L875.32,164.70 L876.32,165.36 L877.32,166.01 L878.32,166.67 L879.32,167.33 L880.32,167.98 L881.32,168.64 L882.32,169.29 L883.32,169.95 L884.32,170.60 L885.32,171.25 L886.32,171.90 L887.32,172.56 L888.32,173.21 L889.32,173.86 L890.32,174.51 L891.32,175.16 L892.32,175.81 L893.32,176.46 L894.32,177.11 L895.32,177.75 L896.32,178.40 L897.32,179.05 L898.32,179.69 L899.32,180.34 L900.32,180.98 L901.32,181.62 L902.32,182.27 L903.32,182.91 L904.32,183.55 L905.32,184.19 L906.32,184.83 L907.32,185.46 L908.32,186.10 L909.32,186.74 L910.32,187.37 L911.32,188.01 L912.32,188.64 L913.32,189.27 L914.32,189.90 L915.32,190.53 L916.32,191.16 L917.32,191.79 L918.32,192.42 L919.32,193.05 L920.33,193.67 L921.33,194.29 L922.33,194.92 L923.33,195.54 L924.33,196.16 L925.33,196.78 L926.33,197.40 L927.33,198.01 L928.33,198.63 L929.33,199.24 L930.33,199.85 L931.33,200.47 L932.33,201.08 L933.33,201.68 L934.33,202.29 L935.33,202.90 L936.33,203.50 L937.33,204.11 L938.33,204.71 L939.33,205.31 L940.33,205.91 L941.33,206.50 L942.33,207.10 L943.33,207.69 L944.33,208.29 L945.33,208.88 L946.33,209.47 L947.33,210.05 L948.33,210.64 L949.33,211.23 L950.33,211.81 L951.33,212.39 L952.33,212.97 L953.33,213.55 L954.33,214.12 L955.33,214.70 L956.33,215.27 L957.33,215.84 L958.33,216.41 L959.33,216.98 L960.33,217.54 L961.33,218.11 L962.33,218.67 L963.33,219.23 L964.33,219.78 L965.33,220.34 L966.33,220.89 L967.33,221.45 L968.33,222.00 L969.33,222.54 L970.33,223.09 L971.34,223.63 L972.34,224.17 L973.34,224.71 L974.34,225.25 L975.34,225.79 L976.34,226.32 L977.34,226.85 L978.34,227.38 L979.34,227.91 L980.34,228.43 L981.34,228.95 L982.34,229.47 L983.34,229.99 L984.34,230.51 L985.34,231.02 L986.34,231.53 L987.34,232.04 L988.34,232.54 L989.34,233.05 L990.34,233.55 L991.34,234.05 L992.34,234.55 L993.34,235.04 L994.34,235.53 L995.34,236.02 L996.34,236.51 L997.34,236.99 L998.34,237.47 L999.34,237.95 L1000.34,238.43 L1001.34,238.90 L1002.34,239.37 L1003.34,239.84 L1004.34,240.31 L1005.34,240.77 L1006.34,241.23 L1007.34,241.69 L1008.34,242.14 L1009.34,242.60 L1010.34,243.05 L1011.34,243.49 L1012.34,243.94 L1013.34,244.38 L1014.34,244.82 L1015.34,245.25 L1016.34,245.68 L1017.34,246.11 L1018.34,246.54 L1019.34,246.96 L1020.34,247.38 L1021.34,247.80 L1022.35,248.22 L1023.35,248.63 L1024.35,249.04 L1025.35,249.44 L1026.35,249.85 L1027.35,250.25 L1028.35,250.64 L1029.35,251.04 L1030.35,251.43 L1031.35,251.82 L1032.35,252.20 L1033.35,252.58 L1034.35,252.96 L1035.35,253.33 L1036.35,253.70 L1037.35,254.07 L1038.35,254.44 L1039.35,254.80 L1040.35,255.16 L1041.35,255.51 L1042.35,255.86 L1043.35,256.21 L1044.35,256.56 L1045.35,256.90 L1046.35,257.24 L1047.35,257.57 L1048.35,257.90 L1049.35,258.23 L1050.35,258.55 L1051.35,258.87 L1052.35,259.19 L1053.35,259.50 L1054.35,259.81 L1055.35,260.12 L1056.35,260.42 L1057.35,260.72 L1058.35,261.02 L1059.35,261.31 L1060.35,261.60 L1061.35,261.88 L1062.35,262.16 L1063.35,262.44 L1064.35,262.71 L1065.35,262.99 L1066.35,263.25 L1067.35,263.52 L1068.35,263.78 L1069.35,264.04 L1070.35,264.29 L1071.35,264.54 L1072.36,264.79 L1073.36,265.04 L1074.36,265.28 L1075.36,265.52 L1076.36,265.76 L1077.36,266.00 L1078.36,266.23 L1079.36,266.46 L1080.36,266.69 L1081.36,266.92 L1082.36,267.14 L1083.36,267.37 L1084.36,267.59 L1085.36,267.81 L1086.36,268.02 L1087.36,268.24 L1088.36,268.45 L1089.36,268.66 L1090.36,268.87 L1091.36,269.08 L1092.36,269.29 L1093.36,269.50 L1094.36,269.70 L1095.36,269.91 L1096.36,270.11 L1097.36,270.31 L1098.36,270.51 L1099.36,270.71 L1100.36,270.91 L1101.36,271.11 L1102.36,271.31 L1103.36,271.51 L1104.36,271.70 L1105.36,271.90 L1106.36,272.10 L1107.36,272.29 L1108.36,272.49 L1109.36,272.68 L1110.36,272.88 L1111.36,273.07 L1112.36,273.27 L1113.36,273.47 L1114.36,273.66 L1115.36,273.86 L1116.36,274.06 L1117.36,274.25 L1118.36,274.45 L1119.36,274.65 L1120.36,274.85 L1121.36,275.05 L1122.36,275.25 L1123.37,275.45 L1124.37,275.65 L1125.37,275.86 L1126.37,276.06 L1127.37,276.26 L1128.37,276.47 L1129.37,276.68 L1130.37,276.88 L1131.37,277.09 L1132.37,277.30 L1133.37,277.51 L1134.37,277.72 L1135.37,277.93 L1136.37,278.15 L1137.37,278.36 L1138.37,278.57 L1139.37,278.79 L1140.37,279.01 L1141.37,279.22 L1142.37,279.44 L1143.37,279.66 L1144.37,279.88 L1145.37,280.10 L1146.37,280.33 L1147.37,280.55 L1148.37,280.77 L1149.37,281.00 L1150.37,281.23 L1151.37,281.45 L1152.37,281.68 L1153.37,281.91 L1154.37,282.14 L1155.37,282.38 L1156.37,282.61 L1157.37,282.84 L1158.37,283.08 L1159.37,283.32 L1160.37,283.55 L1161.37,283.79 L1162.37,284.03 L1163.37,284.28 L1164.37,284.52 L1165.37,284.76 L1166.37,285.01 L1167.37,285.26 L1168.37,285.50 L1169.37,285.75 L1170.37,286.01 L1171.37,286.26 L1172.37,286.51 L1173.37,286.77 L1174.38,287.02 L1175.38,287.28 L1176.38,287.54 L1177.38,287.80 L1178.38,288.06 L1179.38,288.32 L1180.38,288.59 L1181.38,288.85 L1182.38,289.12 L1183.38,289.39 L1184.38,289.66 L1185.38,289.93 L1186.38,290.21 L1187.38,290.48 L1188.38,290.76 L1189.38,291.03 L1190.38,291.31 L1191.38,291.59 L1192.38,291.87 L1193.38,292.15 L1194.38,292.44 L1195.38,292.72 L1196.38,293.01 L1197.38,293.29 L1198.38,293.58 L1199.38,293.87 L1200.38,294.16 L1201.38,294.45 L1202.38,294.74 L1203.38,295.03 L1204.38,295.33 L1205.38,295.62 L1206.38,295.91 L1207.38,296.21 L1208.38,296.50 L1209.38,296.80 L1210.38,297.10 L1211.38,297.39 L1212.38,297.69 L1213.38,297.99 L1214.38,298.29 L1215.38,298.59 L1216.38,298.89 L1217.38,299.19 L1218.38,299.49 L1219.38,299.79 L1220.38,300.09 L1221.38,300.39 L1222.38,300.69 L1223.38,300.99 L1224.39,301.29 L1225.39,301.60 L1226.39,301.90 L1227.39,302.20 L1228.39,302.50 L1229.39,302.80 L1230.39,303.10 L1231.39,303.41 L1232.39,303.71 L1233.39,304.01 L1234.39,304.31 L1235.39,304.61 L1236.39,304.91 L1237.39,305.21 L1238.39,305.51 L1239.39,305.81 L1240.39,306.11 L1241.39,306.41 L1242.39,306.70 L1243.39,307.00 L1244.39,307.30 L1245.39,307.59 L1246.39,307.89 L1247.39,308.18 L1248.39,308.48 L1249.39,308.77 L1250.39,309.06 L1251.39,309.36 L1252.39,309.65 L1253.39,309.94 L1254.39,310.23 L1255.39,310.52 L1256.39,310.80 L1257.39,311.09 L1258.39,311.38 L1259.39,311.66 L1260.39,311.94 L1261.39,312.23 L1262.39,312.51 L1263.39,312.79 L1264.39,313.06 L1265.39,313.34 L1266.39,313.62 L1267.39,313.89 L1268.39,314.17 L1269.39,314.44 L1270.39,314.71 L1271.39,314.98 L1272.39,315.24 L1273.39,315.51 L1274.39,315.77 L1275.40,316.04 L1276.40,316.30 L1277.40,316.56 L1278.40,316.82 L1279.40,317.07 L1280.40,317.33 L1281.40,317.58 L1282.40,317.83 L1283.40,318.08 L1284.40,318.32 L1285.40,318.57 L1286.40,318.81 L1287.40,319.05 L1288.40,319.29 L1289.40,319.53 L1290.40,319.76 L1291.40,320.00 L1292.40,320.23 L1293.40,320.45 L1294.40,320.68 L1295.40,320.90 L1296.40,321.12 L1297.40,321.34 L1298.40,321.56 L1299.40,321.77 L1300.40,321.99" fill="none" stroke="#1b72b1" stroke-width="4.00" stroke-linejoin="round"/>
<path d="M768.70,261.50 H1326.00" stroke="#000" stroke-opacity="0.64" stroke-width="1.80" fill="none"/>
<path d="M1073.10,52.70 V470.30" stroke="#000" stroke-opacity="0.64" stroke-width="1.80" fill="none"/>
<rect x="768.70" y="52.70" width="557.30" height="417.60" fill="none" stroke="#000" stroke-width="2.80"/>
<path d="M917.50,470.30 v4.40 M917.50,52.70 v-4.40 M1073.10,470.30 v4.40 M1073.10,52.70 v-4.40 M1228.70,470.30 v4.40 M1228.70,52.70 v-4.40 M768.70,428.10 h-4.40 M1326.00,428.10 h4.40 M768.70,344.80 h-4.40 M1326.00,344.80 h4.40 M768.70,261.50 h-4.40 M1326.00,261.50 h4.40 M768.70,178.20 h-4.40 M1326.00,178.20 h4.40 M768.70,94.90 h-4.40 M1326.00,94.90 h4.40" stroke="#000" stroke-width="2.4" fill="none"/>
<text transform="translate(902.06,518.00) scale(1,1.015)" class="tl">-2</text>
<text transform="translate(1063.34,518.00) scale(1,1.015)" class="tl">0</text>
<text transform="translate(1218.99,518.00) scale(1,1.015)" class="tl">2</text>
<text transform="translate(694.88,441.65) scale(1,1.015)" class="tl">-0.4</text>
<text transform="translate(695.66,358.35) scale(1,1.015)" class="tl">-0.2</text>
<text transform="translate(736.09,275.05) scale(1,1.015)" class="tl">0</text>
<text transform="translate(707.30,191.75) scale(1,1.015)" class="tl">0.2</text>
<text transform="translate(706.51,108.45) scale(1,1.015)" class="tl">0.4</text>
<text transform="translate(876.31,557.20) scale(1,1.020)" x="0" y="0" class="al" textLength="376.37" lengthAdjust="spacingAndGlyphs">Tail Wind anomaly (m/s)</text>
<text transform="translate(720.31,42.30) scale(1,1.000)" x="0" y="0" class="pl" textLength="46.77" lengthAdjust="spacingAndGlyphs">(d)</text>
<text transform="translate(778.51,94.90) scale(1,1.020)" x="0" y="0" class="il" textLength="214.78" lengthAdjust="spacingAndGlyphs">Mixed Sex V-FT</text>
<path d="M798.70,798.08 L799.70,798.20 L800.70,798.32 L801.70,798.44 L802.70,798.55 L803.70,798.67 L804.70,798.78 L805.70,798.88 L806.70,798.99 L807.70,799.10 L808.70,799.20 L809.70,799.30 L810.70,799.40 L811.70,799.49 L812.70,799.59 L813.70,799.68 L814.70,799.77 L815.70,799.86 L816.70,799.95 L817.70,800.03 L818.70,800.12 L819.70,800.20 L820.70,800.28 L821.70,800.35 L822.70,800.43 L823.70,800.50 L824.70,800.57 L825.70,800.64 L826.70,800.71 L827.70,800.78 L828.70,800.84 L829.70,800.91 L830.70,800.97 L831.70,801.03 L832.70,801.08 L833.70,801.14 L834.70,801.19 L835.70,801.24 L836.70,801.29 L837.70,801.34 L838.70,801.39 L839.70,801.43 L840.70,801.48 L841.70,801.52 L842.70,801.56 L843.70,801.60 L844.70,801.64 L845.70,801.67 L846.70,801.70 L847.70,801.74 L848.70,801.77 L849.70,801.79 L850.70,801.82 L851.70,801.85 L852.70,801.87 L853.70,801.89 L854.70,801.91 L855.70,801.93 L856.70,801.95 L857.70,801.97 L858.70,801.98 L859.70,801.99 L860.70,802.01 L861.70,802.02 L862.70,802.02 L863.70,802.03 L864.70,802.04 L865.70,802.04 L866.70,802.04 L867.70,802.04 L868.70,802.04 L869.70,802.04 L870.70,802.04 L871.70,802.04 L872.70,802.03 L873.70,802.02 L874.70,802.01 L875.70,802.00 L876.70,801.99 L877.70,801.98 L878.70,801.97 L879.70,801.95 L880.70,801.93 L881.70,801.92 L882.70,801.90 L883.70,801.88 L884.70,801.85 L885.70,801.83 L886.70,801.81 L887.70,801.78 L888.70,801.75 L889.70,801.73 L890.70,801.70 L891.70,801.67 L892.70,801.63 L893.70,801.60 L894.70,801.57 L895.70,801.53 L896.70,801.49 L897.70,801.46 L898.70,801.42 L899.70,801.38 L900.70,801.34 L901.70,801.30 L902.70,801.25 L903.70,801.21 L904.70,801.16 L905.70,801.12 L906.70,801.07 L907.70,801.02 L908.70,800.97 L909.70,800.92 L910.70,800.87 L911.70,800.81 L912.70,800.76 L913.70,800.71 L914.70,800.65 L915.70,800.59 L916.70,800.53 L917.70,800.48 L918.70,800.42 L919.70,800.36 L920.70,800.29 L921.70,800.23 L922.70,800.17 L923.70,800.10 L924.70,800.04 L925.70,799.97 L926.70,799.90 L927.70,799.84 L928.70,799.77 L929.70,799.70 L930.70,799.63 L931.70,799.56 L932.70,799.48 L933.70,799.41 L934.70,799.34 L935.70,799.26 L936.70,799.19 L937.70,799.11 L938.70,799.03 L939.70,798.96 L940.70,798.88 L941.70,798.80 L942.70,798.72 L943.70,798.64 L944.70,798.56 L945.70,798.48 L946.70,798.39 L947.70,798.31 L948.70,798.23 L949.70,798.14 L950.70,798.06 L951.70,797.97 L952.70,797.88 L953.70,797.80 L954.70,797.71 L955.70,797.62 L956.70,797.53 L957.70,797.44 L958.70,797.35 L959.70,797.26 L960.70,797.17 L961.70,797.08 L962.70,796.98 L963.70,796.89 L964.70,796.80 L965.70,796.71 L966.70,796.61 L967.70,796.52 L968.70,796.42 L969.70,796.33 L970.70,796.24 L971.70,796.14 L972.70,796.05 L973.70,795.95 L974.70,795.86 L975.70,795.76 L976.70,795.66 L977.70,795.57 L978.70,795.47 L979.70,795.38 L980.70,795.28 L981.70,795.19 L982.70,795.09 L983.70,795.00 L984.70,794.90 L985.70,794.81 L986.70,794.71 L987.70,794.62 L988.70,794.52 L989.70,794.43 L990.70,794.34 L991.70,794.24 L992.70,794.15 L993.70,794.06 L994.70,793.97 L995.70,793.87 L996.70,793.78 L997.70,793.69 L998.70,793.60 L999.70,793.51 L1000.70,793.42 L1001.70,793.33 L1002.70,793.25 L1003.70,793.16 L1004.70,793.07 L1005.70,792.99 L1006.70,792.90 L1007.70,792.82 L1008.70,792.73 L1009.70,792.65 L1010.70,792.57 L1011.70,792.49 L1012.70,792.41 L1013.70,792.33 L1014.70,792.25 L1015.70,792.17 L1016.70,792.09 L1017.70,792.02 L1018.70,791.94 L1019.70,791.87 L1020.70,791.80 L1021.70,791.73 L1022.70,791.66 L1023.70,791.59 L1024.70,791.52 L1025.70,791.45 L1026.70,791.39 L1027.70,791.32 L1028.70,791.26 L1029.70,791.20 L1030.70,791.14 L1031.70,791.08 L1032.70,791.02 L1033.70,790.97 L1034.70,790.91 L1035.70,790.86 L1036.70,790.81 L1037.70,790.76 L1038.70,790.71 L1039.70,790.66 L1040.70,790.61 L1041.70,790.57 L1042.70,790.53 L1043.70,790.49 L1044.70,790.45 L1045.70,790.41 L1046.70,790.38 L1047.70,790.34 L1048.70,790.31 L1049.70,790.28 L1050.70,790.25 L1051.70,790.23 L1052.70,790.20 L1053.70,790.18 L1054.70,790.16 L1055.70,790.14 L1056.70,790.12 L1057.70,790.11 L1058.70,790.10 L1059.70,790.09 L1060.70,790.08 L1061.70,790.07 L1062.70,790.07 L1063.70,790.07 L1064.70,790.07 L1065.70,790.07 L1066.70,790.08 L1067.70,790.09 L1068.70,790.09 L1069.70,790.11 L1070.70,790.12 L1071.70,790.14 L1072.70,790.16 L1073.70,790.18 L1074.70,790.20 L1075.70,790.23 L1076.70,790.25 L1077.70,790.28 L1078.70,790.31 L1079.70,790.34 L1080.70,790.37 L1081.70,790.40 L1082.70,790.43 L1083.70,790.45 L1084.70,790.48 L1085.70,790.51 L1086.70,790.53 L1087.70,790.56 L1088.70,790.58 L1089.70,790.60 L1090.70,790.62 L1091.70,790.63 L1092.70,790.64 L1093.70,790.65 L1094.70,790.66 L1095.70,790.66 L1096.70,790.65 L1097.70,790.65 L1098.70,790.63 L1099.70,790.62 L1100.70,790.60 L1101.70,790.57 L1102.70,790.54 L1103.70,790.50 L1104.70,790.45 L1105.70,790.40 L1106.70,790.34 L1107.70,790.28 L1108.70,790.21 L1109.70,790.13 L1110.70,790.04 L1111.70,789.95 L1112.70,789.84 L1113.70,789.73 L1114.70,789.61 L1115.70,789.48 L1116.70,789.34 L1117.70,789.19 L1118.70,789.03 L1119.70,788.86 L1120.70,788.68 L1121.70,788.49 L1122.70,788.29 L1123.70,788.08 L1124.70,787.85 L1125.70,787.62 L1126.70,787.37 L1127.70,787.11 L1128.70,786.84 L1129.70,786.56 L1130.70,786.27 L1131.70,785.97 L1132.70,785.66 L1133.70,785.35 L1134.70,785.02 L1135.70,784.69 L1136.70,784.35 L1137.70,784.01 L1138.70,783.65 L1139.70,783.29 L1140.70,782.93 L1141.70,782.56 L1142.70,782.19 L1143.70,781.81 L1144.70,781.43 L1145.70,781.04 L1146.70,780.66 L1147.70,780.27 L1148.70,779.87 L1149.70,779.48 L1150.70,779.08 L1151.70,778.69 L1152.70,778.29 L1153.70,777.90 L1154.70,777.50 L1155.70,777.11 L1156.70,776.72 L1157.70,776.32 L1158.70,775.93 L1159.70,775.55 L1160.70,775.16 L1161.70,774.78 L1162.70,774.39 L1163.70,774.01 L1164.70,773.62 L1165.70,773.24 L1166.70,772.86 L1167.70,772.47 L1168.70,772.09 L1169.70,771.70 L1170.70,771.32 L1171.70,770.93 L1172.70,770.54 L1173.70,770.15 L1174.70,769.76 L1175.70,769.37 L1176.70,768.97 L1177.70,768.57 L1178.70,768.17 L1179.70,767.77 L1180.70,767.36 L1181.70,766.95 L1182.70,766.54 L1183.70,766.12 L1184.70,765.70 L1185.70,765.27 L1186.70,764.84 L1187.70,764.41 L1188.70,763.97 L1189.70,763.53 L1190.70,763.08 L1191.70,762.63 L1192.70,762.17 L1193.70,761.72 L1194.70,761.25 L1195.70,760.78 L1196.70,760.31 L1197.70,759.83 L1198.70,759.35 L1199.70,758.86 L1200.70,758.37 L1201.70,757.88 L1202.70,757.37 L1203.70,756.87 L1204.70,756.36 L1205.70,755.84 L1206.70,755.32 L1207.70,754.79 L1208.70,754.26 L1209.70,753.72 L1210.70,753.18 L1211.70,752.63 L1212.70,752.08 L1213.70,751.52 L1214.70,750.96 L1215.70,750.39 L1216.70,749.81 L1217.70,749.23 L1218.70,748.64 L1219.70,748.05 L1220.70,747.45 L1221.70,746.85 L1222.70,746.24 L1223.70,745.62 L1224.70,745.00 L1225.70,744.37 L1226.70,743.73 L1227.70,743.09 L1228.70,742.44 L1229.70,741.79 L1230.70,741.13 L1231.70,740.46 L1232.70,739.79 L1233.70,739.11 L1234.70,738.42 L1235.70,737.73 L1236.70,737.03 L1237.70,736.32 L1238.70,735.61 L1239.70,734.89 L1240.70,734.16 L1241.70,733.43 L1242.70,732.70 L1243.70,731.96 L1244.70,731.21 L1245.70,730.46 L1246.70,729.71 L1247.70,728.95 L1248.70,728.19 L1249.70,727.43 L1250.70,726.66 L1251.70,725.90 L1252.70,725.13 L1253.70,724.36 L1254.70,723.58 L1255.70,722.81 L1256.70,722.04 L1257.70,721.26 L1258.70,720.49 L1259.70,719.71 L1260.70,718.94 L1261.70,718.17 L1262.70,717.39 L1263.70,716.63 L1264.70,715.86 L1265.70,715.09 L1266.70,714.33 L1267.70,713.56 L1268.70,712.80 L1269.70,712.04 L1270.70,711.28 L1271.70,710.52 L1272.70,709.77 L1273.70,709.01 L1274.70,708.26 L1275.70,707.50 L1276.70,706.75 L1277.70,706.00 L1278.70,705.24 L1279.70,704.49 L1280.70,703.74 L1281.70,702.99 L1282.70,702.24 L1283.70,701.49 L1284.70,700.74 L1285.70,699.98 L1286.70,699.23 L1287.70,698.48 L1288.70,697.73 L1289.70,696.98 L1290.70,696.22 L1291.70,695.47 L1292.70,694.71 L1293.70,693.96 L1294.70,693.20 L1295.70,692.44 L1296.70,691.69 L1297.70,690.93 L1298.70,690.16 L1299.70,689.40 L1300.70,688.64 L1301.70,687.87 L1302.70,687.10 L1303.70,686.34 L1304.70,685.56 L1305.70,684.79 L1305.70,798.80 L1304.70,798.70 L1303.70,798.60 L1302.70,798.51 L1301.70,798.42 L1300.70,798.34 L1299.70,798.26 L1298.70,798.19 L1297.70,798.12 L1296.70,798.06 L1295.70,798.00 L1294.70,797.95 L1293.70,797.90 L1292.70,797.86 L1291.70,797.82 L1290.70,797.79 L1289.70,797.76 L1288.70,797.74 L1287.70,797.72 L1286.70,797.70 L1285.70,797.69 L1284.70,797.68 L1283.70,797.68 L1282.70,797.69 L1281.70,797.69 L1280.70,797.71 L1279.70,797.72 L1278.70,797.74 L1277.70,797.77 L1276.70,797.80 L1275.70,797.83 L1274.70,797.87 L1273.70,797.91 L1272.70,797.96 L1271.70,798.01 L1270.70,798.06 L1269.70,798.12 L1268.70,798.18 L1267.70,798.25 L1266.70,798.32 L1265.70,798.40 L1264.70,798.48 L1263.70,798.56 L1262.70,798.64 L1261.70,798.74 L1260.70,798.83 L1259.70,798.93 L1258.70,799.03 L1257.70,799.13 L1256.70,799.24 L1255.70,799.36 L1254.70,799.47 L1253.70,799.59 L1252.70,799.72 L1251.70,799.85 L1250.70,799.98 L1249.70,800.11 L1248.70,800.25 L1247.70,800.39 L1246.70,800.54 L1245.70,800.68 L1244.70,800.84 L1243.70,800.99 L1242.70,801.15 L1241.70,801.31 L1240.70,801.47 L1239.70,801.64 L1238.70,801.81 L1237.70,801.99 L1236.70,802.17 L1235.70,802.35 L1234.70,802.53 L1233.70,802.72 L1232.70,802.91 L1231.70,803.10 L1230.70,803.29 L1229.70,803.49 L1228.70,803.69 L1227.70,803.90 L1226.70,804.10 L1225.70,804.31 L1224.70,804.53 L1223.70,804.74 L1222.70,804.96 L1221.70,805.18 L1220.70,805.40 L1219.70,805.63 L1218.70,805.86 L1217.70,806.09 L1216.70,806.32 L1215.70,806.56 L1214.70,806.80 L1213.70,807.04 L1212.70,807.28 L1211.70,807.52 L1210.70,807.77 L1209.70,808.02 L1208.70,808.28 L1207.70,808.53 L1206.70,808.79 L1205.70,809.05 L1204.70,809.31 L1203.70,809.57 L1202.70,809.84 L1201.70,810.10 L1200.70,810.37 L1199.70,810.65 L1198.70,810.92 L1197.70,811.20 L1196.70,811.47 L1195.70,811.75 L1194.70,812.03 L1193.70,812.32 L1192.70,812.60 L1191.70,812.89 L1190.70,813.18 L1189.70,813.47 L1188.70,813.76 L1187.70,814.05 L1186.70,814.35 L1185.70,814.64 L1184.70,814.94 L1183.70,815.24 L1182.70,815.54 L1181.70,815.85 L1180.70,816.15 L1179.70,816.45 L1178.70,816.76 L1177.70,817.06 L1176.70,817.37 L1175.70,817.67 L1174.70,817.97 L1173.70,818.27 L1172.70,818.57 L1171.70,818.87 L1170.70,819.16 L1169.70,819.45 L1168.70,819.74 L1167.70,820.02 L1166.70,820.30 L1165.70,820.58 L1164.70,820.85 L1163.70,821.12 L1162.70,821.38 L1161.70,821.63 L1160.70,821.88 L1159.70,822.12 L1158.70,822.36 L1157.70,822.59 L1156.70,822.81 L1155.70,823.03 L1154.70,823.23 L1153.70,823.43 L1152.70,823.62 L1151.70,823.81 L1150.70,823.99 L1149.70,824.16 L1148.70,824.33 L1147.70,824.49 L1146.70,824.65 L1145.70,824.80 L1144.70,824.95 L1143.70,825.09 L1142.70,825.23 L1141.70,825.37 L1140.70,825.50 L1139.70,825.63 L1138.70,825.76 L1137.70,825.88 L1136.70,826.00 L1135.70,826.12 L1134.70,826.24 L1133.70,826.35 L1132.70,826.47 L1131.70,826.58 L1130.70,826.69 L1129.70,826.81 L1128.70,826.92 L1127.70,827.03 L1126.70,827.14 L1125.70,827.26 L1124.70,827.37 L1123.70,827.49 L1122.70,827.61 L1121.70,827.73 L1120.70,827.85 L1119.70,827.97 L1118.70,828.10 L1117.70,828.22 L1116.70,828.35 L1115.70,828.48 L1114.70,828.61 L1113.70,828.74 L1112.70,828.88 L1111.70,829.02 L1110.70,829.16 L1109.70,829.30 L1108.70,829.44 L1107.70,829.59 L1106.70,829.74 L1105.70,829.89 L1104.70,830.05 L1103.70,830.20 L1102.70,830.36 L1101.70,830.52 L1100.70,830.69 L1099.70,830.86 L1098.70,831.03 L1097.70,831.20 L1096.70,831.38 L1095.70,831.56 L1094.70,831.75 L1093.70,831.93 L1092.70,832.13 L1091.70,832.32 L1090.70,832.52 L1089.70,832.72 L1088.70,832.93 L1087.70,833.13 L1086.70,833.35 L1085.70,833.56 L1084.70,833.78 L1083.70,834.01 L1082.70,834.24 L1081.70,834.47 L1080.70,834.71 L1079.70,834.95 L1078.70,835.20 L1077.70,835.45 L1076.70,835.70 L1075.70,835.96 L1074.70,836.22 L1073.70,836.49 L1072.70,836.77 L1071.70,837.05 L1070.70,837.33 L1069.70,837.62 L1068.70,837.91 L1067.70,838.21 L1066.70,838.51 L1065.70,838.81 L1064.70,839.12 L1063.70,839.43 L1062.70,839.75 L1061.70,840.07 L1060.70,840.39 L1059.70,840.72 L1058.70,841.04 L1057.70,841.37 L1056.70,841.71 L1055.70,842.04 L1054.70,842.38 L1053.70,842.72 L1052.70,843.06 L1051.70,843.40 L1050.70,843.74 L1049.70,844.09 L1048.70,844.43 L1047.70,844.78 L1046.70,845.12 L1045.70,845.47 L1044.70,845.82 L1043.70,846.16 L1042.70,846.51 L1041.70,846.86 L1040.70,847.20 L1039.70,847.55 L1038.70,847.89 L1037.70,848.23 L1036.70,848.57 L1035.70,848.91 L1034.70,849.25 L1033.70,849.59 L1032.70,849.92 L1031.70,850.25 L1030.70,850.58 L1029.70,850.91 L1028.70,851.24 L1027.70,851.56 L1026.70,851.87 L1025.70,852.19 L1024.70,852.50 L1023.70,852.81 L1022.70,853.11 L1021.70,853.41 L1020.70,853.71 L1019.70,854.00 L1018.70,854.29 L1017.70,854.57 L1016.70,854.84 L1015.70,855.12 L1014.70,855.38 L1013.70,855.65 L1012.70,855.91 L1011.70,856.16 L1010.70,856.41 L1009.70,856.66 L1008.70,856.90 L1007.70,857.13 L1006.70,857.37 L1005.70,857.60 L1004.70,857.82 L1003.70,858.05 L1002.70,858.26 L1001.70,858.48 L1000.70,858.69 L999.70,858.90 L998.70,859.11 L997.70,859.31 L996.70,859.51 L995.70,859.70 L994.70,859.90 L993.70,860.09 L992.70,860.27 L991.70,860.46 L990.70,860.64 L989.70,860.82 L988.70,861.00 L987.70,861.17 L986.70,861.35 L985.70,861.52 L984.70,861.69 L983.70,861.85 L982.70,862.02 L981.70,862.18 L980.70,862.34 L979.70,862.50 L978.70,862.66 L977.70,862.82 L976.70,862.97 L975.70,863.13 L974.70,863.28 L973.70,863.43 L972.70,863.58 L971.70,863.73 L970.70,863.88 L969.70,864.03 L968.70,864.18 L967.70,864.33 L966.70,864.47 L965.70,864.62 L964.70,864.77 L963.70,864.91 L962.70,865.06 L961.70,865.21 L960.70,865.35 L959.70,865.50 L958.70,865.64 L957.70,865.79 L956.70,865.94 L955.70,866.08 L954.70,866.23 L953.70,866.38 L952.70,866.53 L951.70,866.68 L950.70,866.83 L949.70,866.98 L948.70,867.13 L947.70,867.29 L946.70,867.44 L945.70,867.59 L944.70,867.75 L943.70,867.91 L942.70,868.06 L941.70,868.22 L940.70,868.38 L939.70,868.54 L938.70,868.70 L937.70,868.87 L936.70,869.03 L935.70,869.20 L934.70,869.36 L933.70,869.53 L932.70,869.70 L931.70,869.87 L930.70,870.04 L929.70,870.21 L928.70,870.39 L927.70,870.56 L926.70,870.74 L925.70,870.92 L924.70,871.10 L923.70,871.28 L922.70,871.47 L921.70,871.65 L920.70,871.84 L919.70,872.03 L918.70,872.22 L917.70,872.41 L916.70,872.60 L915.70,872.80 L914.70,873.00 L913.70,873.19 L912.70,873.40 L911.70,873.60 L910.70,873.80 L909.70,874.01 L908.70,874.22 L907.70,874.43 L906.70,874.64 L905.70,874.86 L904.70,875.08 L903.70,875.30 L902.70,875.52 L901.70,875.74 L900.70,875.97 L899.70,876.20 L898.70,876.43 L897.70,876.67 L896.70,876.90 L895.70,877.14 L894.70,877.38 L893.70,877.62 L892.70,877.87 L891.70,878.12 L890.70,878.37 L889.70,878.62 L888.70,878.88 L887.70,879.14 L886.70,879.40 L885.70,879.67 L884.70,879.94 L883.70,880.21 L882.70,880.48 L881.70,880.76 L880.70,881.03 L879.70,881.32 L878.70,881.60 L877.70,881.89 L876.70,882.18 L875.70,882.47 L874.70,882.77 L873.70,883.07 L872.70,883.38 L871.70,883.68 L870.70,883.99 L869.70,884.30 L868.70,884.62 L867.70,884.94 L866.70,885.26 L865.70,885.58 L864.70,885.91 L863.70,886.24 L862.70,886.57 L861.70,886.90 L860.70,887.24 L859.70,887.58 L858.70,887.92 L857.70,888.26 L856.70,888.60 L855.70,888.95 L854.70,889.30 L853.70,889.65 L852.70,890.01 L851.70,890.36 L850.70,890.72 L849.70,891.08 L848.70,891.44 L847.70,891.80 L846.70,892.17 L845.70,892.53 L844.70,892.90 L843.70,893.27 L842.70,893.64 L841.70,894.01 L840.70,894.39 L839.70,894.76 L838.70,895.14 L837.70,895.51 L836.70,895.89 L835.70,896.27 L834.70,896.65 L833.70,897.03 L832.70,897.42 L831.70,897.80 L830.70,898.18 L829.70,898.57 L828.70,898.95 L827.70,899.34 L826.70,899.73 L825.70,900.11 L824.70,900.50 L823.70,900.89 L822.70,901.28 L821.70,901.67 L820.70,902.06 L819.70,902.45 L818.70,902.84 L817.70,903.22 L816.70,903.61 L815.70,904.00 L814.70,904.39 L813.70,904.78 L812.70,905.17 L811.70,905.56 L810.70,905.95 L809.70,906.34 L808.70,906.73 L807.70,907.12 L806.70,907.51 L805.70,907.89 L804.70,908.28 L803.70,908.67 L802.70,909.05 L801.70,909.44 L800.70,909.82 L799.70,910.20 L798.70,910.59 Z" fill="#a4cce1"/>
<path d="M798.70,854.83 L799.70,854.66 L800.70,854.48 L801.70,854.30 L802.70,854.12 L803.70,853.95 L804.70,853.77 L805.70,853.59 L806.70,853.42 L807.70,853.24 L808.70,853.07 L809.70,852.89 L810.70,852.72 L811.70,852.55 L812.70,852.37 L813.70,852.20 L814.70,852.03 L815.70,851.86 L816.70,851.69 L817.70,851.52 L818.70,851.34 L819.70,851.18 L820.70,851.01 L821.70,850.84 L822.70,850.67 L823.70,850.50 L824.70,850.33 L825.70,850.16 L826.70,850.00 L827.70,849.83 L828.70,849.67 L829.70,849.50 L830.70,849.33 L831.70,849.17 L832.70,849.00 L833.70,848.84 L834.70,848.68 L835.70,848.51 L836.70,848.35 L837.70,848.19 L838.70,848.03 L839.70,847.86 L840.70,847.70 L841.70,847.54 L842.70,847.38 L843.70,847.22 L844.70,847.06 L845.70,846.90 L846.70,846.74 L847.70,846.58 L848.70,846.42 L849.70,846.27 L850.70,846.11 L851.70,845.95 L852.70,845.79 L853.70,845.64 L854.70,845.48 L855.70,845.32 L856.70,845.17 L857.70,845.01 L858.70,844.86 L859.70,844.70 L860.70,844.55 L861.70,844.39 L862.70,844.24 L863.70,844.09 L864.70,843.93 L865.70,843.78 L866.70,843.63 L867.70,843.48 L868.70,843.32 L869.70,843.17 L870.70,843.02 L871.70,842.87 L872.70,842.72 L873.70,842.57 L874.70,842.42 L875.70,842.27 L876.70,842.12 L877.70,841.97 L878.70,841.82 L879.70,841.67 L880.70,841.52 L881.70,841.37 L882.70,841.23 L883.70,841.08 L884.70,840.93 L885.70,840.78 L886.70,840.64 L887.70,840.49 L888.70,840.34 L889.70,840.20 L890.70,840.05 L891.70,839.91 L892.70,839.76 L893.70,839.61 L894.70,839.47 L895.70,839.32 L896.70,839.18 L897.70,839.04 L898.70,838.89 L899.70,838.75 L900.70,838.60 L901.70,838.46 L902.70,838.32 L903.70,838.18 L904.70,838.03 L905.70,837.89 L906.70,837.75 L907.70,837.61 L908.70,837.46 L909.70,837.32 L910.70,837.18 L911.70,837.04 L912.70,836.90 L913.70,836.76 L914.70,836.62 L915.70,836.48 L916.70,836.34 L917.70,836.20 L918.70,836.06 L919.70,835.92 L920.70,835.78 L921.70,835.64 L922.70,835.50 L923.70,835.36 L924.70,835.22 L925.70,835.08 L926.70,834.94 L927.70,834.80 L928.70,834.66 L929.70,834.53 L930.70,834.39 L931.70,834.25 L932.70,834.11 L933.70,833.98 L934.70,833.84 L935.70,833.70 L936.70,833.56 L937.70,833.43 L938.70,833.29 L939.70,833.15 L940.70,833.02 L941.70,832.88 L942.70,832.74 L943.70,832.61 L944.70,832.47 L945.70,832.33 L946.70,832.20 L947.70,832.06 L948.70,831.93 L949.70,831.79 L950.70,831.66 L951.70,831.52 L952.70,831.38 L953.70,831.25 L954.70,831.11 L955.70,830.98 L956.70,830.84 L957.70,830.71 L958.70,830.57 L959.70,830.44 L960.70,830.30 L961.70,830.17 L962.70,830.04 L963.70,829.90 L964.70,829.77 L965.70,829.63 L966.70,829.50 L967.70,829.36 L968.70,829.23 L969.70,829.10 L970.70,828.96 L971.70,828.83 L972.70,828.69 L973.70,828.56 L974.70,828.42 L975.70,828.29 L976.70,828.16 L977.70,828.02 L978.70,827.89 L979.70,827.76 L980.70,827.62 L981.70,827.49 L982.70,827.35 L983.70,827.22 L984.70,827.09 L985.70,826.95 L986.70,826.82 L987.70,826.69 L988.70,826.55 L989.70,826.42 L990.70,826.28 L991.70,826.15 L992.70,826.02 L993.70,825.88 L994.70,825.75 L995.70,825.62 L996.70,825.48 L997.70,825.35 L998.70,825.22 L999.70,825.08 L1000.70,824.95 L1001.70,824.81 L1002.70,824.68 L1003.70,824.55 L1004.70,824.41 L1005.70,824.28 L1006.70,824.14 L1007.70,824.01 L1008.70,823.88 L1009.70,823.74 L1010.70,823.61 L1011.70,823.47 L1012.70,823.34 L1013.70,823.20 L1014.70,823.07 L1015.70,822.94 L1016.70,822.80 L1017.70,822.67 L1018.70,822.53 L1019.70,822.40 L1020.70,822.26 L1021.70,822.13 L1022.70,821.99 L1023.70,821.86 L1024.70,821.72 L1025.70,821.59 L1026.70,821.45 L1027.70,821.32 L1028.70,821.18 L1029.70,821.04 L1030.70,820.91 L1031.70,820.77 L1032.70,820.64 L1033.70,820.50 L1034.70,820.36 L1035.70,820.23 L1036.70,820.09 L1037.70,819.96 L1038.70,819.82 L1039.70,819.68 L1040.70,819.55 L1041.70,819.41 L1042.70,819.27 L1043.70,819.13 L1044.70,819.00 L1045.70,818.86 L1046.70,818.72 L1047.70,818.58 L1048.70,818.44 L1049.70,818.31 L1050.70,818.17 L1051.70,818.03 L1052.70,817.89 L1053.70,817.75 L1054.70,817.61 L1055.70,817.47 L1056.70,817.34 L1057.70,817.20 L1058.70,817.06 L1059.70,816.92 L1060.70,816.78 L1061.70,816.64 L1062.70,816.50 L1063.70,816.36 L1064.70,816.22 L1065.70,816.07 L1066.70,815.93 L1067.70,815.79 L1068.70,815.65 L1069.70,815.51 L1070.70,815.37 L1071.70,815.22 L1072.70,815.08 L1073.70,814.94 L1074.70,814.80 L1075.70,814.65 L1076.70,814.51 L1077.70,814.37 L1078.70,814.22 L1079.70,814.08 L1080.70,813.93 L1081.70,813.79 L1082.70,813.64 L1083.70,813.49 L1084.70,813.34 L1085.70,813.20 L1086.70,813.05 L1087.70,812.90 L1088.70,812.75 L1089.70,812.59 L1090.70,812.44 L1091.70,812.29 L1092.70,812.13 L1093.70,811.98 L1094.70,811.82 L1095.70,811.66 L1096.70,811.50 L1097.70,811.34 L1098.70,811.18 L1099.70,811.02 L1100.70,810.85 L1101.70,810.69 L1102.70,810.52 L1103.70,810.35 L1104.70,810.18 L1105.70,810.01 L1106.70,809.84 L1107.70,809.66 L1108.70,809.48 L1109.70,809.31 L1110.70,809.13 L1111.70,808.94 L1112.70,808.76 L1113.70,808.57 L1114.70,808.39 L1115.70,808.20 L1116.70,808.01 L1117.70,807.81 L1118.70,807.62 L1119.70,807.42 L1120.70,807.22 L1121.70,807.02 L1122.70,806.82 L1123.70,806.61 L1124.70,806.40 L1125.70,806.19 L1126.70,805.98 L1127.70,805.76 L1128.70,805.54 L1129.70,805.32 L1130.70,805.10 L1131.70,804.88 L1132.70,804.65 L1133.70,804.42 L1134.70,804.19 L1135.70,803.95 L1136.70,803.71 L1137.70,803.47 L1138.70,803.23 L1139.70,802.99 L1140.70,802.74 L1141.70,802.49 L1142.70,802.24 L1143.70,801.99 L1144.70,801.73 L1145.70,801.47 L1146.70,801.21 L1147.70,800.94 L1148.70,800.68 L1149.70,800.41 L1150.70,800.13 L1151.70,799.86 L1152.70,799.58 L1153.70,799.30 L1154.70,799.02 L1155.70,798.74 L1156.70,798.45 L1157.70,798.16 L1158.70,797.87 L1159.70,797.57 L1160.70,797.28 L1161.70,796.98 L1162.70,796.67 L1163.70,796.37 L1164.70,796.06 L1165.70,795.75 L1166.70,795.44 L1167.70,795.12 L1168.70,794.80 L1169.70,794.48 L1170.70,794.16 L1171.70,793.83 L1172.70,793.50 L1173.70,793.17 L1174.70,792.84 L1175.70,792.50 L1176.70,792.16 L1177.70,791.82 L1178.70,791.47 L1179.70,791.12 L1180.70,790.77 L1181.70,790.42 L1182.70,790.06 L1183.70,789.70 L1184.70,789.34 L1185.70,788.98 L1186.70,788.61 L1187.70,788.24 L1188.70,787.87 L1189.70,787.50 L1190.70,787.12 L1191.70,786.74 L1192.70,786.36 L1193.70,785.97 L1194.70,785.59 L1195.70,785.20 L1196.70,784.81 L1197.70,784.42 L1198.70,784.02 L1199.70,783.63 L1200.70,783.23 L1201.70,782.83 L1202.70,782.43 L1203.70,782.02 L1204.70,781.62 L1205.70,781.21 L1206.70,780.81 L1207.70,780.40 L1208.70,779.98 L1209.70,779.57 L1210.70,779.16 L1211.70,778.74 L1212.70,778.33 L1213.70,777.91 L1214.70,777.49 L1215.70,777.07 L1216.70,776.65 L1217.70,776.23 L1218.70,775.81 L1219.70,775.38 L1220.70,774.96 L1221.70,774.53 L1222.70,774.11 L1223.70,773.68 L1224.70,773.25 L1225.70,772.83 L1226.70,772.40 L1227.70,771.97 L1228.70,771.54 L1229.70,771.11 L1230.70,770.68 L1231.70,770.25 L1232.70,769.82 L1233.70,769.39 L1234.70,768.96 L1235.70,768.53 L1236.70,768.10 L1237.70,767.67 L1238.70,767.24 L1239.70,766.82 L1240.70,766.39 L1241.70,765.96 L1242.70,765.53 L1243.70,765.10 L1244.70,764.67 L1245.70,764.25 L1246.70,763.82 L1247.70,763.39 L1248.70,762.97 L1249.70,762.54 L1250.70,762.12 L1251.70,761.70 L1252.70,761.28 L1253.70,760.86 L1254.70,760.44 L1255.70,760.02 L1256.70,759.60 L1257.70,759.18 L1258.70,758.77 L1259.70,758.35 L1260.70,757.94 L1261.70,757.53 L1262.70,757.12 L1263.70,756.71 L1264.70,756.30 L1265.70,755.90 L1266.70,755.50 L1267.70,755.09 L1268.70,754.69 L1269.70,754.29 L1270.70,753.90 L1271.70,753.50 L1272.70,753.11 L1273.70,752.72 L1274.70,752.33 L1275.70,751.95 L1276.70,751.56 L1277.70,751.18 L1278.70,750.80 L1279.70,750.42 L1280.70,750.05 L1281.70,749.68 L1282.70,749.31 L1283.70,748.94 L1284.70,748.57 L1285.70,748.21 L1286.70,747.85 L1287.70,747.50 L1288.70,747.14 L1289.70,746.79 L1290.70,746.44 L1291.70,746.10 L1292.70,745.76 L1293.70,745.42 L1294.70,745.08 L1295.70,744.75 L1296.70,744.42 L1297.70,744.09 L1298.70,743.77 L1299.70,743.45 L1300.70,743.14 L1301.70,742.82 L1302.70,742.52 L1303.70,742.21 L1304.70,741.91 L1305.70,741.61" fill="none" stroke="#1b72b1" stroke-width="4.00" stroke-linejoin="round"/>
<path d="M773.30,819.30 H1331.60" stroke="#000" stroke-opacity="0.64" stroke-width="1.80" fill="none"/>
<path d="M1105.90,609.80 V1028.40" stroke="#000" stroke-opacity="0.64" stroke-width="1.80" fill="none"/>
<rect x="773.30" y="609.80" width="558.30" height="418.60" fill="none" stroke="#000" stroke-width="2.80"/>
<path d="M877.18,1028.40 v4.40 M877.18,609.80 v-4.40 M991.54,1028.40 v4.40 M991.54,609.80 v-4.40 M1105.90,1028.40 v4.40 M1105.90,609.80 v-4.40 M1220.26,1028.40 v4.40 M1220.26,609.80 v-4.40 M773.30,1028.10 h-4.40 M1331.60,1028.10 h4.40 M773.30,923.60 h-4.40 M1331.60,923.60 h4.40 M773.30,819.10 h-4.40 M1331.60,819.10 h4.40 M773.30,714.60 h-4.40 M1331.60,714.60 h4.40 M773.30,610.10 h-4.40 M1331.60,610.10 h4.40" stroke="#000" stroke-width="2.4" fill="none"/>
<text transform="translate(851.76,1075.40) scale(1,1.015)" class="tl">-40</text>
<text transform="translate(966.12,1075.40) scale(1,1.015)" class="tl">-20</text>
<text transform="translate(1096.14,1075.40) scale(1,1.015)" class="tl">0</text>
<text transform="translate(1200.62,1075.40) scale(1,1.015)" class="tl">20</text>
<text transform="translate(695.38,1040.45) scale(1,1.015)" class="tl">-0.1</text>
<text transform="translate(678.69,935.95) scale(1,1.015)" class="tl">-0.05</text>
<text transform="translate(738.89,831.45) scale(1,1.015)" class="tl">0</text>
<text transform="translate(690.32,726.95) scale(1,1.015)" class="tl">0.05</text>
<text transform="translate(707.01,622.45) scale(1,1.015)" class="tl">0.1</text>
<text transform="translate(792.71,1115.90) scale(1,1.020)" x="0" y="0" class="al" textLength="511.61" lengthAdjust="spacingAndGlyphs">Ambient Pressure anomaly (hPa)</text>
<text transform="translate(739.02,587.30) scale(1,1.000)" x="0" y="0" class="pl" textLength="44.54" lengthAdjust="spacingAndGlyphs">(e)</text>
<text transform="translate(784.96,652.90) scale(1,1.020)" x="0" y="0" class="il" textLength="212.02" lengthAdjust="spacingAndGlyphs">Mixed Sex P-FT</text>
<path d="M799.00,1219.63 L800.00,1220.68 L801.00,1221.72 L802.00,1222.77 L803.00,1223.82 L804.00,1224.87 L805.00,1225.92 L806.00,1226.98 L807.00,1228.03 L808.00,1229.09 L809.00,1230.14 L810.00,1231.20 L811.00,1232.26 L812.00,1233.31 L813.00,1234.37 L814.00,1235.43 L815.00,1236.49 L816.00,1237.55 L817.00,1238.62 L818.00,1239.68 L819.00,1240.74 L820.00,1241.80 L821.00,1242.86 L822.00,1243.92 L823.00,1244.98 L824.00,1246.04 L825.01,1247.10 L826.01,1248.17 L827.01,1249.23 L828.01,1250.28 L829.01,1251.34 L830.01,1252.40 L831.01,1253.46 L832.01,1254.52 L833.01,1255.57 L834.01,1256.63 L835.01,1257.68 L836.01,1258.73 L837.01,1259.78 L838.01,1260.83 L839.01,1261.88 L840.01,1262.93 L841.01,1263.97 L842.01,1265.02 L843.01,1266.06 L844.01,1267.10 L845.01,1268.14 L846.01,1269.17 L847.01,1270.21 L848.01,1271.24 L849.01,1272.27 L850.01,1273.30 L851.01,1274.32 L852.01,1275.35 L853.01,1276.37 L854.01,1277.39 L855.01,1278.40 L856.01,1279.41 L857.01,1280.42 L858.01,1281.43 L859.01,1282.44 L860.01,1283.44 L861.01,1284.44 L862.01,1285.43 L863.01,1286.42 L864.01,1287.41 L865.01,1288.39 L866.01,1289.38 L867.01,1290.35 L868.01,1291.33 L869.01,1292.30 L870.01,1293.26 L871.01,1294.23 L872.01,1295.19 L873.01,1296.14 L874.01,1297.09 L875.01,1298.04 L876.02,1298.98 L877.02,1299.92 L878.02,1300.85 L879.02,1301.78 L880.02,1302.70 L881.02,1303.62 L882.02,1304.54 L883.02,1305.45 L884.02,1306.35 L885.02,1307.25 L886.02,1308.15 L887.02,1309.04 L888.02,1309.92 L889.02,1310.80 L890.02,1311.67 L891.02,1312.54 L892.02,1313.41 L893.02,1314.26 L894.02,1315.11 L895.02,1315.96 L896.02,1316.80 L897.02,1317.63 L898.02,1318.46 L899.02,1319.28 L900.02,1320.10 L901.02,1320.91 L902.02,1321.71 L903.02,1322.51 L904.02,1323.30 L905.02,1324.08 L906.02,1324.86 L907.02,1325.63 L908.02,1326.39 L909.02,1327.15 L910.02,1327.90 L911.02,1328.64 L912.02,1329.38 L913.02,1330.11 L914.02,1330.83 L915.02,1331.54 L916.02,1332.25 L917.02,1332.95 L918.02,1333.64 L919.02,1334.32 L920.02,1335.00 L921.02,1335.67 L922.02,1336.33 L923.02,1336.98 L924.02,1337.63 L925.02,1338.26 L926.03,1338.89 L927.03,1339.51 L928.03,1340.12 L929.03,1340.72 L930.03,1341.32 L931.03,1341.91 L932.03,1342.48 L933.03,1343.05 L934.03,1343.61 L935.03,1344.16 L936.03,1344.70 L937.03,1345.24 L938.03,1345.76 L939.03,1346.27 L940.03,1346.78 L941.03,1347.28 L942.03,1347.76 L943.03,1348.24 L944.03,1348.71 L945.03,1349.17 L946.03,1349.61 L947.03,1350.05 L948.03,1350.48 L949.03,1350.90 L950.03,1351.32 L951.03,1351.72 L952.03,1352.11 L953.03,1352.49 L954.03,1352.86 L955.03,1353.22 L956.03,1353.58 L957.03,1353.92 L958.03,1354.25 L959.03,1354.57 L960.03,1354.89 L961.03,1355.19 L962.03,1355.48 L963.03,1355.77 L964.03,1356.04 L965.03,1356.30 L966.03,1356.56 L967.03,1356.80 L968.03,1357.03 L969.03,1357.25 L970.03,1357.46 L971.03,1357.67 L972.03,1357.86 L973.03,1358.04 L974.03,1358.21 L975.03,1358.37 L976.03,1358.52 L977.04,1358.66 L978.04,1358.79 L979.04,1358.90 L980.04,1359.01 L981.04,1359.11 L982.04,1359.20 L983.04,1359.27 L984.04,1359.34 L985.04,1359.39 L986.04,1359.43 L987.04,1359.47 L988.04,1359.49 L989.04,1359.50 L990.04,1359.50 L991.04,1359.49 L992.04,1359.47 L993.04,1359.43 L994.04,1359.39 L995.04,1359.33 L996.04,1359.27 L997.04,1359.19 L998.04,1359.10 L999.04,1359.00 L1000.04,1358.89 L1001.04,1358.77 L1002.04,1358.64 L1003.04,1358.50 L1004.04,1358.35 L1005.04,1358.19 L1006.04,1358.02 L1007.04,1357.84 L1008.04,1357.65 L1009.04,1357.46 L1010.04,1357.25 L1011.04,1357.04 L1012.04,1356.81 L1013.04,1356.58 L1014.04,1356.34 L1015.04,1356.10 L1016.04,1355.84 L1017.04,1355.58 L1018.04,1355.31 L1019.04,1355.04 L1020.04,1354.76 L1021.04,1354.47 L1022.04,1354.17 L1023.04,1353.87 L1024.04,1353.56 L1025.04,1353.25 L1026.04,1352.93 L1027.04,1352.60 L1028.05,1352.27 L1029.05,1351.94 L1030.05,1351.60 L1031.05,1351.25 L1032.05,1350.90 L1033.05,1350.55 L1034.05,1350.19 L1035.05,1349.83 L1036.05,1349.46 L1037.05,1349.09 L1038.05,1348.72 L1039.05,1348.34 L1040.05,1347.95 L1041.05,1347.56 L1042.05,1347.16 L1043.05,1346.76 L1044.05,1346.34 L1045.05,1345.92 L1046.05,1345.50 L1047.05,1345.06 L1048.05,1344.61 L1049.05,1344.16 L1050.05,1343.69 L1051.05,1343.22 L1052.05,1342.74 L1053.05,1342.24 L1054.05,1341.74 L1055.05,1341.23 L1056.05,1340.71 L1057.05,1340.19 L1058.05,1339.66 L1059.05,1339.12 L1060.05,1338.58 L1061.05,1338.03 L1062.05,1337.48 L1063.05,1336.93 L1064.05,1336.37 L1065.05,1335.81 L1066.05,1335.25 L1067.05,1334.69 L1068.05,1334.12 L1069.05,1333.56 L1070.05,1333.00 L1071.05,1332.43 L1072.05,1331.87 L1073.05,1331.31 L1074.05,1330.76 L1075.05,1330.20 L1076.05,1329.65 L1077.05,1329.11 L1078.06,1328.56 L1079.06,1328.03 L1080.06,1327.50 L1081.06,1326.97 L1082.06,1326.46 L1083.06,1325.95 L1084.06,1325.45 L1085.06,1324.96 L1086.06,1324.47 L1087.06,1324.00 L1088.06,1323.54 L1089.06,1323.08 L1090.06,1322.64 L1091.06,1322.22 L1092.06,1321.80 L1093.06,1321.40 L1094.06,1321.01 L1095.06,1320.63 L1096.06,1320.27 L1097.06,1319.92 L1098.06,1319.59 L1099.06,1319.27 L1100.06,1318.96 L1101.06,1318.67 L1102.06,1318.40 L1103.06,1318.14 L1104.06,1317.90 L1105.06,1317.67 L1106.06,1317.46 L1107.06,1317.26 L1108.06,1317.08 L1109.06,1316.92 L1110.06,1316.77 L1111.06,1316.64 L1112.06,1316.53 L1113.06,1316.43 L1114.06,1316.35 L1115.06,1316.29 L1116.06,1316.25 L1117.06,1316.22 L1118.06,1316.22 L1119.06,1316.23 L1120.06,1316.25 L1121.06,1316.30 L1122.06,1316.36 L1123.06,1316.43 L1124.06,1316.52 L1125.06,1316.63 L1126.06,1316.75 L1127.06,1316.89 L1128.06,1317.04 L1129.07,1317.21 L1130.07,1317.39 L1131.07,1317.58 L1132.07,1317.79 L1133.07,1318.01 L1134.07,1318.24 L1135.07,1318.49 L1136.07,1318.74 L1137.07,1319.01 L1138.07,1319.30 L1139.07,1319.59 L1140.07,1319.89 L1141.07,1320.21 L1142.07,1320.53 L1143.07,1320.87 L1144.07,1321.21 L1145.07,1321.57 L1146.07,1321.93 L1147.07,1322.31 L1148.07,1322.69 L1149.07,1323.08 L1150.07,1323.48 L1151.07,1323.89 L1152.07,1324.30 L1153.07,1324.72 L1154.07,1325.15 L1155.07,1325.59 L1156.07,1326.03 L1157.07,1326.47 L1158.07,1326.93 L1159.07,1327.39 L1160.07,1327.85 L1161.07,1328.32 L1162.07,1328.79 L1163.07,1329.27 L1164.07,1329.75 L1165.07,1330.24 L1166.07,1330.73 L1167.07,1331.22 L1168.07,1331.72 L1169.07,1332.21 L1170.07,1332.72 L1171.07,1333.22 L1172.07,1333.72 L1173.07,1334.23 L1174.07,1334.73 L1175.07,1335.24 L1176.07,1335.75 L1177.07,1336.26 L1178.07,1336.76 L1179.07,1337.27 L1180.08,1337.78 L1181.08,1338.28 L1182.08,1338.79 L1183.08,1339.29 L1184.08,1339.79 L1185.08,1340.29 L1186.08,1340.79 L1187.08,1341.29 L1188.08,1341.78 L1189.08,1342.27 L1190.08,1342.77 L1191.08,1343.25 L1192.08,1343.74 L1193.08,1344.23 L1194.08,1344.71 L1195.08,1345.19 L1196.08,1345.67 L1197.08,1346.15 L1198.08,1346.63 L1199.08,1347.10 L1200.08,1347.58 L1201.08,1348.05 L1202.08,1348.52 L1203.08,1348.98 L1204.08,1349.45 L1205.08,1349.91 L1206.08,1350.38 L1207.08,1350.84 L1208.08,1351.30 L1209.08,1351.75 L1210.08,1352.21 L1211.08,1352.66 L1212.08,1353.11 L1213.08,1353.56 L1214.08,1354.01 L1215.08,1354.46 L1216.08,1354.91 L1217.08,1355.35 L1218.08,1355.79 L1219.08,1356.23 L1220.08,1356.67 L1221.08,1357.10 L1222.08,1357.54 L1223.08,1357.97 L1224.08,1358.40 L1225.08,1358.83 L1226.08,1359.26 L1227.08,1359.69 L1228.08,1360.11 L1229.08,1360.54 L1230.09,1360.96 L1231.09,1361.38 L1232.09,1361.79 L1233.09,1362.21 L1234.09,1362.62 L1235.09,1363.04 L1236.09,1363.45 L1237.09,1363.86 L1238.09,1364.27 L1239.09,1364.67 L1240.09,1365.08 L1241.09,1365.48 L1242.09,1365.88 L1243.09,1366.28 L1244.09,1366.68 L1245.09,1367.07 L1246.09,1367.47 L1247.09,1367.86 L1248.09,1368.25 L1249.09,1368.64 L1250.09,1369.03 L1251.09,1369.41 L1252.09,1369.80 L1253.09,1370.18 L1254.09,1370.56 L1255.09,1370.94 L1256.09,1371.32 L1257.09,1371.70 L1258.09,1372.07 L1259.09,1372.44 L1260.09,1372.81 L1261.09,1373.18 L1262.09,1373.55 L1263.09,1373.92 L1264.09,1374.28 L1265.09,1374.65 L1266.09,1375.01 L1267.09,1375.37 L1268.09,1375.73 L1269.09,1376.08 L1270.09,1376.44 L1271.09,1376.79 L1272.09,1377.14 L1273.09,1377.49 L1274.09,1377.84 L1275.09,1378.19 L1276.09,1378.54 L1277.09,1378.88 L1278.09,1379.22 L1279.09,1379.56 L1280.09,1379.90 L1281.10,1380.24 L1282.10,1380.58 L1283.10,1380.91 L1284.10,1381.24 L1285.10,1381.57 L1286.10,1381.90 L1287.10,1382.23 L1288.10,1382.56 L1289.10,1382.88 L1290.10,1383.21 L1291.10,1383.53 L1292.10,1383.85 L1293.10,1384.17 L1294.10,1384.49 L1295.10,1384.80 L1296.10,1385.12 L1297.10,1385.43 L1298.10,1385.74 L1299.10,1386.05 L1300.10,1386.36 L1301.10,1386.66 L1302.10,1386.97 L1303.10,1387.27 L1304.10,1387.57 L1305.10,1387.87 L1306.10,1388.17 L1306.10,1526.75 L1305.10,1525.60 L1304.10,1524.44 L1303.10,1523.27 L1302.10,1522.10 L1301.10,1520.93 L1300.10,1519.75 L1299.10,1518.57 L1298.10,1517.39 L1297.10,1516.20 L1296.10,1515.01 L1295.10,1513.82 L1294.10,1512.62 L1293.10,1511.42 L1292.10,1510.22 L1291.10,1509.02 L1290.10,1507.82 L1289.10,1506.61 L1288.10,1505.40 L1287.10,1504.19 L1286.10,1502.97 L1285.10,1501.76 L1284.10,1500.54 L1283.10,1499.32 L1282.10,1498.10 L1281.10,1496.88 L1280.09,1495.66 L1279.09,1494.44 L1278.09,1493.22 L1277.09,1491.99 L1276.09,1490.77 L1275.09,1489.55 L1274.09,1488.32 L1273.09,1487.10 L1272.09,1485.87 L1271.09,1484.65 L1270.09,1483.43 L1269.09,1482.20 L1268.09,1480.98 L1267.09,1479.76 L1266.09,1478.54 L1265.09,1477.32 L1264.09,1476.10 L1263.09,1474.88 L1262.09,1473.66 L1261.09,1472.45 L1260.09,1471.24 L1259.09,1470.03 L1258.09,1468.82 L1257.09,1467.61 L1256.09,1466.41 L1255.09,1465.20 L1254.09,1464.00 L1253.09,1462.81 L1252.09,1461.61 L1251.09,1460.42 L1250.09,1459.23 L1249.09,1458.05 L1248.09,1456.87 L1247.09,1455.69 L1246.09,1454.51 L1245.09,1453.34 L1244.09,1452.17 L1243.09,1451.01 L1242.09,1449.85 L1241.09,1448.70 L1240.09,1447.55 L1239.09,1446.40 L1238.09,1445.26 L1237.09,1444.12 L1236.09,1442.99 L1235.09,1441.86 L1234.09,1440.74 L1233.09,1439.62 L1232.09,1438.51 L1231.09,1437.41 L1230.09,1436.31 L1229.08,1435.21 L1228.08,1434.13 L1227.08,1433.04 L1226.08,1431.97 L1225.08,1430.90 L1224.08,1429.84 L1223.08,1428.78 L1222.08,1427.73 L1221.08,1426.69 L1220.08,1425.65 L1219.08,1424.63 L1218.08,1423.60 L1217.08,1422.59 L1216.08,1421.58 L1215.08,1420.59 L1214.08,1419.60 L1213.08,1418.61 L1212.08,1417.64 L1211.08,1416.67 L1210.08,1415.72 L1209.08,1414.77 L1208.08,1413.83 L1207.08,1412.89 L1206.08,1411.97 L1205.08,1411.06 L1204.08,1410.15 L1203.08,1409.26 L1202.08,1408.37 L1201.08,1407.49 L1200.08,1406.63 L1199.08,1405.77 L1198.08,1404.92 L1197.08,1404.09 L1196.08,1403.26 L1195.08,1402.44 L1194.08,1401.64 L1193.08,1400.84 L1192.08,1400.06 L1191.08,1399.28 L1190.08,1398.52 L1189.08,1397.77 L1188.08,1397.03 L1187.08,1396.30 L1186.08,1395.58 L1185.08,1394.88 L1184.08,1394.18 L1183.08,1393.50 L1182.08,1392.83 L1181.08,1392.17 L1180.08,1391.52 L1179.07,1390.88 L1178.07,1390.25 L1177.07,1389.63 L1176.07,1389.03 L1175.07,1388.43 L1174.07,1387.85 L1173.07,1387.28 L1172.07,1386.71 L1171.07,1386.16 L1170.07,1385.62 L1169.07,1385.09 L1168.07,1384.57 L1167.07,1384.06 L1166.07,1383.57 L1165.07,1383.08 L1164.07,1382.60 L1163.07,1382.13 L1162.07,1381.68 L1161.07,1381.23 L1160.07,1380.79 L1159.07,1380.37 L1158.07,1379.95 L1157.07,1379.55 L1156.07,1379.15 L1155.07,1378.77 L1154.07,1378.39 L1153.07,1378.03 L1152.07,1377.67 L1151.07,1377.33 L1150.07,1376.99 L1149.07,1376.67 L1148.07,1376.35 L1147.07,1376.05 L1146.07,1375.75 L1145.07,1375.47 L1144.07,1375.19 L1143.07,1374.92 L1142.07,1374.66 L1141.07,1374.42 L1140.07,1374.18 L1139.07,1373.95 L1138.07,1373.73 L1137.07,1373.52 L1136.07,1373.32 L1135.07,1373.13 L1134.07,1372.94 L1133.07,1372.77 L1132.07,1372.61 L1131.07,1372.45 L1130.07,1372.31 L1129.07,1372.17 L1128.06,1372.04 L1127.06,1371.92 L1126.06,1371.81 L1125.06,1371.71 L1124.06,1371.62 L1123.06,1371.53 L1122.06,1371.46 L1121.06,1371.39 L1120.06,1371.34 L1119.06,1371.29 L1118.06,1371.25 L1117.06,1371.21 L1116.06,1371.19 L1115.06,1371.17 L1114.06,1371.17 L1113.06,1371.17 L1112.06,1371.18 L1111.06,1371.20 L1110.06,1371.22 L1109.06,1371.26 L1108.06,1371.30 L1107.06,1371.35 L1106.06,1371.41 L1105.06,1371.48 L1104.06,1371.55 L1103.06,1371.64 L1102.06,1371.73 L1101.06,1371.83 L1100.06,1371.93 L1099.06,1372.05 L1098.06,1372.17 L1097.06,1372.30 L1096.06,1372.44 L1095.06,1372.58 L1094.06,1372.73 L1093.06,1372.89 L1092.06,1373.06 L1091.06,1373.23 L1090.06,1373.42 L1089.06,1373.61 L1088.06,1373.80 L1087.06,1374.01 L1086.06,1374.22 L1085.06,1374.44 L1084.06,1374.66 L1083.06,1374.90 L1082.06,1375.14 L1081.06,1375.38 L1080.06,1375.64 L1079.06,1375.90 L1078.06,1376.17 L1077.05,1376.44 L1076.05,1376.72 L1075.05,1377.01 L1074.05,1377.31 L1073.05,1377.61 L1072.05,1377.92 L1071.05,1378.23 L1070.05,1378.55 L1069.05,1378.88 L1068.05,1379.22 L1067.05,1379.56 L1066.05,1379.92 L1065.05,1380.28 L1064.05,1380.64 L1063.05,1381.02 L1062.05,1381.40 L1061.05,1381.79 L1060.05,1382.20 L1059.05,1382.61 L1058.05,1383.02 L1057.05,1383.45 L1056.05,1383.89 L1055.05,1384.33 L1054.05,1384.79 L1053.05,1385.26 L1052.05,1385.73 L1051.05,1386.22 L1050.05,1386.71 L1049.05,1387.22 L1048.05,1387.73 L1047.05,1388.25 L1046.05,1388.79 L1045.05,1389.33 L1044.05,1389.87 L1043.05,1390.43 L1042.05,1390.99 L1041.05,1391.55 L1040.05,1392.12 L1039.05,1392.69 L1038.05,1393.27 L1037.05,1393.85 L1036.05,1394.43 L1035.05,1395.01 L1034.05,1395.59 L1033.05,1396.17 L1032.05,1396.76 L1031.05,1397.34 L1030.05,1397.92 L1029.05,1398.50 L1028.05,1399.07 L1027.04,1399.64 L1026.04,1400.21 L1025.04,1400.77 L1024.04,1401.33 L1023.04,1401.88 L1022.04,1402.42 L1021.04,1402.96 L1020.04,1403.49 L1019.04,1404.01 L1018.04,1404.52 L1017.04,1405.02 L1016.04,1405.51 L1015.04,1405.99 L1014.04,1406.46 L1013.04,1406.91 L1012.04,1407.36 L1011.04,1407.79 L1010.04,1408.20 L1009.04,1408.60 L1008.04,1408.99 L1007.04,1409.35 L1006.04,1409.71 L1005.04,1410.04 L1004.04,1410.36 L1003.04,1410.66 L1002.04,1410.94 L1001.04,1411.21 L1000.04,1411.46 L999.04,1411.69 L998.04,1411.91 L997.04,1412.11 L996.04,1412.30 L995.04,1412.47 L994.04,1412.62 L993.04,1412.76 L992.04,1412.89 L991.04,1413.00 L990.04,1413.09 L989.04,1413.17 L988.04,1413.23 L987.04,1413.28 L986.04,1413.32 L985.04,1413.34 L984.04,1413.35 L983.04,1413.35 L982.04,1413.33 L981.04,1413.29 L980.04,1413.25 L979.04,1413.19 L978.04,1413.12 L977.04,1413.04 L976.03,1412.94 L975.03,1412.83 L974.03,1412.71 L973.03,1412.58 L972.03,1412.43 L971.03,1412.28 L970.03,1412.11 L969.03,1411.93 L968.03,1411.74 L967.03,1411.54 L966.03,1411.33 L965.03,1411.11 L964.03,1410.87 L963.03,1410.63 L962.03,1410.38 L961.03,1410.11 L960.03,1409.84 L959.03,1409.56 L958.03,1409.27 L957.03,1408.97 L956.03,1408.66 L955.03,1408.34 L954.03,1408.01 L953.03,1407.67 L952.03,1407.33 L951.03,1406.97 L950.03,1406.61 L949.03,1406.24 L948.03,1405.87 L947.03,1405.48 L946.03,1405.09 L945.03,1404.69 L944.03,1404.29 L943.03,1403.87 L942.03,1403.45 L941.03,1403.03 L940.03,1402.60 L939.03,1402.16 L938.03,1401.71 L937.03,1401.26 L936.03,1400.81 L935.03,1400.34 L934.03,1399.88 L933.03,1399.40 L932.03,1398.93 L931.03,1398.45 L930.03,1397.96 L929.03,1397.47 L928.03,1396.97 L927.03,1396.47 L926.03,1395.97 L925.02,1395.46 L924.02,1394.95 L923.02,1394.43 L922.02,1393.92 L921.02,1393.40 L920.02,1392.87 L919.02,1392.34 L918.02,1391.81 L917.02,1391.28 L916.02,1390.75 L915.02,1390.21 L914.02,1389.67 L913.02,1389.13 L912.02,1388.59 L911.02,1388.05 L910.02,1387.50 L909.02,1386.96 L908.02,1386.41 L907.02,1385.86 L906.02,1385.32 L905.02,1384.77 L904.02,1384.22 L903.02,1383.67 L902.02,1383.12 L901.02,1382.57 L900.02,1382.03 L899.02,1381.48 L898.02,1380.93 L897.02,1380.39 L896.02,1379.84 L895.02,1379.30 L894.02,1378.76 L893.02,1378.22 L892.02,1377.68 L891.02,1377.14 L890.02,1376.61 L889.02,1376.07 L888.02,1375.54 L887.02,1375.02 L886.02,1374.49 L885.02,1373.97 L884.02,1373.45 L883.02,1372.94 L882.02,1372.43 L881.02,1371.92 L880.02,1371.41 L879.02,1370.91 L878.02,1370.42 L877.02,1369.93 L876.02,1369.44 L875.01,1368.96 L874.01,1368.48 L873.01,1368.01 L872.01,1367.54 L871.01,1367.07 L870.01,1366.61 L869.01,1366.16 L868.01,1365.71 L867.01,1365.26 L866.01,1364.82 L865.01,1364.38 L864.01,1363.94 L863.01,1363.51 L862.01,1363.09 L861.01,1362.66 L860.01,1362.24 L859.01,1361.82 L858.01,1361.41 L857.01,1361.00 L856.01,1360.59 L855.01,1360.18 L854.01,1359.78 L853.01,1359.38 L852.01,1358.98 L851.01,1358.59 L850.01,1358.19 L849.01,1357.80 L848.01,1357.42 L847.01,1357.03 L846.01,1356.65 L845.01,1356.26 L844.01,1355.88 L843.01,1355.50 L842.01,1355.13 L841.01,1354.75 L840.01,1354.38 L839.01,1354.00 L838.01,1353.63 L837.01,1353.26 L836.01,1352.89 L835.01,1352.52 L834.01,1352.15 L833.01,1351.78 L832.01,1351.41 L831.01,1351.05 L830.01,1350.68 L829.01,1350.31 L828.01,1349.95 L827.01,1349.58 L826.01,1349.21 L825.01,1348.85 L824.00,1348.48 L823.00,1348.11 L822.00,1347.74 L821.00,1347.37 L820.00,1347.01 L819.00,1346.64 L818.00,1346.26 L817.00,1345.89 L816.00,1345.52 L815.00,1345.14 L814.00,1344.77 L813.00,1344.39 L812.00,1344.01 L811.00,1343.63 L810.00,1343.25 L809.00,1342.87 L808.00,1342.48 L807.00,1342.09 L806.00,1341.70 L805.00,1341.31 L804.00,1340.92 L803.00,1340.52 L802.00,1340.12 L801.00,1339.72 L800.00,1339.31 L799.00,1338.90 Z" fill="#a4cce1"/>
<path d="M799.00,1280.21 L800.00,1280.87 L801.00,1281.53 L802.00,1282.19 L803.00,1282.86 L804.00,1283.53 L805.00,1284.20 L806.00,1284.88 L807.00,1285.55 L808.00,1286.24 L809.00,1286.92 L810.00,1287.61 L811.00,1288.29 L812.00,1288.99 L813.00,1289.68 L814.00,1290.38 L815.00,1291.07 L816.00,1291.78 L817.00,1292.48 L818.00,1293.18 L819.00,1293.89 L820.00,1294.60 L821.00,1295.31 L822.00,1296.02 L823.00,1296.74 L824.00,1297.45 L825.01,1298.17 L826.01,1298.89 L827.01,1299.61 L828.01,1300.34 L829.01,1301.06 L830.01,1301.78 L831.01,1302.51 L832.01,1303.24 L833.01,1303.97 L834.01,1304.70 L835.01,1305.43 L836.01,1306.16 L837.01,1306.89 L838.01,1307.62 L839.01,1308.36 L840.01,1309.09 L841.01,1309.83 L842.01,1310.56 L843.01,1311.30 L844.01,1312.03 L845.01,1312.77 L846.01,1313.50 L847.01,1314.24 L848.01,1314.98 L849.01,1315.72 L850.01,1316.45 L851.01,1317.19 L852.01,1317.92 L853.01,1318.66 L854.01,1319.40 L855.01,1320.13 L856.01,1320.87 L857.01,1321.60 L858.01,1322.34 L859.01,1323.07 L860.01,1323.80 L861.01,1324.53 L862.01,1325.26 L863.01,1325.99 L864.01,1326.72 L865.01,1327.45 L866.01,1328.18 L867.01,1328.90 L868.01,1329.63 L869.01,1330.35 L870.01,1331.07 L871.01,1331.79 L872.01,1332.51 L873.01,1333.23 L874.01,1333.94 L875.01,1334.65 L876.02,1335.37 L877.02,1336.07 L878.02,1336.78 L879.02,1337.49 L880.02,1338.19 L881.02,1338.89 L882.02,1339.59 L883.02,1340.29 L884.02,1340.98 L885.02,1341.68 L886.02,1342.37 L887.02,1343.05 L888.02,1343.74 L889.02,1344.42 L890.02,1345.10 L891.02,1345.78 L892.02,1346.45 L893.02,1347.12 L894.02,1347.79 L895.02,1348.45 L896.02,1349.11 L897.02,1349.77 L898.02,1350.43 L899.02,1351.08 L900.02,1351.73 L901.02,1352.37 L902.02,1353.01 L903.02,1353.65 L904.02,1354.28 L905.02,1354.91 L906.02,1355.54 L907.02,1356.16 L908.02,1356.78 L909.02,1357.39 L910.02,1358.00 L911.02,1358.61 L912.02,1359.21 L913.02,1359.81 L914.02,1360.40 L915.02,1360.99 L916.02,1361.57 L917.02,1362.15 L918.02,1362.73 L919.02,1363.30 L920.02,1363.86 L921.02,1364.42 L922.02,1364.98 L923.02,1365.53 L924.02,1366.07 L925.02,1366.61 L926.03,1367.15 L927.03,1367.68 L928.03,1368.20 L929.03,1368.72 L930.03,1369.24 L931.03,1369.75 L932.03,1370.25 L933.03,1370.75 L934.03,1371.24 L935.03,1371.72 L936.03,1372.20 L937.03,1372.68 L938.03,1373.15 L939.03,1373.61 L940.03,1374.06 L941.03,1374.51 L942.03,1374.95 L943.03,1375.39 L944.03,1375.82 L945.03,1376.24 L946.03,1376.66 L947.03,1377.07 L948.03,1377.47 L949.03,1377.86 L950.03,1378.25 L951.03,1378.63 L952.03,1379.00 L953.03,1379.36 L954.03,1379.71 L955.03,1380.06 L956.03,1380.39 L957.03,1380.72 L958.03,1381.04 L959.03,1381.35 L960.03,1381.65 L961.03,1381.95 L962.03,1382.23 L963.03,1382.50 L964.03,1382.76 L965.03,1383.02 L966.03,1383.26 L967.03,1383.50 L968.03,1383.72 L969.03,1383.93 L970.03,1384.13 L971.03,1384.32 L972.03,1384.50 L973.03,1384.67 L974.03,1384.83 L975.03,1384.98 L976.03,1385.11 L977.04,1385.24 L978.04,1385.35 L979.04,1385.45 L980.04,1385.53 L981.04,1385.61 L982.04,1385.67 L983.04,1385.72 L984.04,1385.76 L985.04,1385.79 L986.04,1385.80 L987.04,1385.80 L988.04,1385.78 L989.04,1385.75 L990.04,1385.71 L991.04,1385.66 L992.04,1385.59 L993.04,1385.51 L994.04,1385.41 L995.04,1385.30 L996.04,1385.18 L997.04,1385.05 L998.04,1384.90 L999.04,1384.74 L1000.04,1384.57 L1001.04,1384.39 L1002.04,1384.20 L1003.04,1383.99 L1004.04,1383.78 L1005.04,1383.55 L1006.04,1383.31 L1007.04,1383.07 L1008.04,1382.81 L1009.04,1382.54 L1010.04,1382.27 L1011.04,1381.98 L1012.04,1381.69 L1013.04,1381.38 L1014.04,1381.07 L1015.04,1380.75 L1016.04,1380.42 L1017.04,1380.08 L1018.04,1379.73 L1019.04,1379.38 L1020.04,1379.02 L1021.04,1378.65 L1022.04,1378.28 L1023.04,1377.89 L1024.04,1377.51 L1025.04,1377.11 L1026.04,1376.71 L1027.04,1376.30 L1028.05,1375.89 L1029.05,1375.47 L1030.05,1375.05 L1031.05,1374.62 L1032.05,1374.19 L1033.05,1373.75 L1034.05,1373.31 L1035.05,1372.87 L1036.05,1372.42 L1037.05,1371.97 L1038.05,1371.51 L1039.05,1371.05 L1040.05,1370.59 L1041.05,1370.12 L1042.05,1369.66 L1043.05,1369.19 L1044.05,1368.72 L1045.05,1368.24 L1046.05,1367.77 L1047.05,1367.29 L1048.05,1366.81 L1049.05,1366.33 L1050.05,1365.86 L1051.05,1365.38 L1052.05,1364.90 L1053.05,1364.42 L1054.05,1363.94 L1055.05,1363.46 L1056.05,1362.98 L1057.05,1362.50 L1058.05,1362.02 L1059.05,1361.55 L1060.05,1361.07 L1061.05,1360.60 L1062.05,1360.13 L1063.05,1359.66 L1064.05,1359.20 L1065.05,1358.73 L1066.05,1358.27 L1067.05,1357.81 L1068.05,1357.36 L1069.05,1356.91 L1070.05,1356.46 L1071.05,1356.01 L1072.05,1355.57 L1073.05,1355.14 L1074.05,1354.71 L1075.05,1354.28 L1076.05,1353.86 L1077.05,1353.44 L1078.06,1353.03 L1079.06,1352.63 L1080.06,1352.23 L1081.06,1351.83 L1082.06,1351.45 L1083.06,1351.07 L1084.06,1350.69 L1085.06,1350.32 L1086.06,1349.96 L1087.06,1349.61 L1088.06,1349.26 L1089.06,1348.93 L1090.06,1348.60 L1091.06,1348.27 L1092.06,1347.96 L1093.06,1347.66 L1094.06,1347.36 L1095.06,1347.07 L1096.06,1346.79 L1097.06,1346.53 L1098.06,1346.27 L1099.06,1346.02 L1100.06,1345.78 L1101.06,1345.55 L1102.06,1345.33 L1103.06,1345.12 L1104.06,1344.93 L1105.06,1344.74 L1106.06,1344.57 L1107.06,1344.41 L1108.06,1344.26 L1109.06,1344.12 L1110.06,1343.99 L1111.06,1343.88 L1112.06,1343.78 L1113.06,1343.69 L1114.06,1343.61 L1115.06,1343.55 L1116.06,1343.50 L1117.06,1343.47 L1118.06,1343.45 L1119.06,1343.44 L1120.06,1343.45 L1121.06,1343.46 L1122.06,1343.50 L1123.06,1343.54 L1124.06,1343.60 L1125.06,1343.67 L1126.06,1343.75 L1127.06,1343.85 L1128.06,1343.96 L1129.07,1344.08 L1130.07,1344.21 L1131.07,1344.36 L1132.07,1344.51 L1133.07,1344.68 L1134.07,1344.86 L1135.07,1345.06 L1136.07,1345.26 L1137.07,1345.48 L1138.07,1345.70 L1139.07,1345.94 L1140.07,1346.19 L1141.07,1346.45 L1142.07,1346.73 L1143.07,1347.01 L1144.07,1347.30 L1145.07,1347.61 L1146.07,1347.92 L1147.07,1348.25 L1148.07,1348.58 L1149.07,1348.93 L1150.07,1349.29 L1151.07,1349.65 L1152.07,1350.03 L1153.07,1350.41 L1154.07,1350.81 L1155.07,1351.22 L1156.07,1351.63 L1157.07,1352.05 L1158.07,1352.49 L1159.07,1352.93 L1160.07,1353.38 L1161.07,1353.84 L1162.07,1354.31 L1163.07,1354.79 L1164.07,1355.28 L1165.07,1355.78 L1166.07,1356.28 L1167.07,1356.79 L1168.07,1357.31 L1169.07,1357.84 L1170.07,1358.38 L1171.07,1358.93 L1172.07,1359.48 L1173.07,1360.04 L1174.07,1360.61 L1175.07,1361.18 L1176.07,1361.77 L1177.07,1362.36 L1178.07,1362.96 L1179.07,1363.56 L1180.08,1364.17 L1181.08,1364.79 L1182.08,1365.42 L1183.08,1366.05 L1184.08,1366.69 L1185.08,1367.33 L1186.08,1367.98 L1187.08,1368.64 L1188.08,1369.30 L1189.08,1369.97 L1190.08,1370.64 L1191.08,1371.32 L1192.08,1372.01 L1193.08,1372.70 L1194.08,1373.39 L1195.08,1374.09 L1196.08,1374.80 L1197.08,1375.51 L1198.08,1376.22 L1199.08,1376.94 L1200.08,1377.66 L1201.08,1378.39 L1202.08,1379.13 L1203.08,1379.86 L1204.08,1380.60 L1205.08,1381.35 L1206.08,1382.09 L1207.08,1382.85 L1208.08,1383.60 L1209.08,1384.36 L1210.08,1385.12 L1211.08,1385.89 L1212.08,1386.65 L1213.08,1387.43 L1214.08,1388.20 L1215.08,1388.97 L1216.08,1389.75 L1217.08,1390.53 L1218.08,1391.32 L1219.08,1392.10 L1220.08,1392.89 L1221.08,1393.68 L1222.08,1394.47 L1223.08,1395.26 L1224.08,1396.06 L1225.08,1396.85 L1226.08,1397.65 L1227.08,1398.45 L1228.08,1399.25 L1229.08,1400.05 L1230.09,1400.85 L1231.09,1401.65 L1232.09,1402.45 L1233.09,1403.25 L1234.09,1404.06 L1235.09,1404.86 L1236.09,1405.66 L1237.09,1406.47 L1238.09,1407.27 L1239.09,1408.07 L1240.09,1408.87 L1241.09,1409.68 L1242.09,1410.48 L1243.09,1411.28 L1244.09,1412.08 L1245.09,1412.88 L1246.09,1413.67 L1247.09,1414.47 L1248.09,1415.26 L1249.09,1416.06 L1250.09,1416.85 L1251.09,1417.64 L1252.09,1418.42 L1253.09,1419.21 L1254.09,1419.99 L1255.09,1420.77 L1256.09,1421.55 L1257.09,1422.33 L1258.09,1423.10 L1259.09,1423.88 L1260.09,1424.64 L1261.09,1425.41 L1262.09,1426.17 L1263.09,1426.93 L1264.09,1427.69 L1265.09,1428.45 L1266.09,1429.20 L1267.09,1429.95 L1268.09,1430.70 L1269.09,1431.44 L1270.09,1432.18 L1271.09,1432.92 L1272.09,1433.66 L1273.09,1434.39 L1274.09,1435.12 L1275.09,1435.84 L1276.09,1436.57 L1277.09,1437.29 L1278.09,1438.01 L1279.09,1438.72 L1280.09,1439.43 L1281.10,1440.14 L1282.10,1440.85 L1283.10,1441.55 L1284.10,1442.25 L1285.10,1442.94 L1286.10,1443.64 L1287.10,1444.32 L1288.10,1445.01 L1289.10,1445.69 L1290.10,1446.37 L1291.10,1447.05 L1292.10,1447.72 L1293.10,1448.39 L1294.10,1449.06 L1295.10,1449.72 L1296.10,1450.38 L1297.10,1451.03 L1298.10,1451.69 L1299.10,1452.34 L1300.10,1452.98 L1301.10,1453.62 L1302.10,1454.26 L1303.10,1454.90 L1304.10,1455.53 L1305.10,1456.15 L1306.10,1456.78" fill="none" stroke="#1b72b1" stroke-width="4.00" stroke-linejoin="round"/>
<path d="M774.40,1380.60 H1332.50" stroke="#000" stroke-opacity="0.64" stroke-width="1.80" fill="none"/>
<path d="M1050.20,1171.30 V1589.40" stroke="#000" stroke-opacity="0.64" stroke-width="1.80" fill="none"/>
<rect x="774.40" y="1171.30" width="558.10" height="418.10" fill="none" stroke="#000" stroke-width="2.80"/>
<path d="M875.80,1589.40 v4.40 M875.80,1171.30 v-4.40 M1050.20,1589.40 v4.40 M1050.20,1171.30 v-4.40 M1224.60,1589.40 v4.40 M1224.60,1171.30 v-4.40 M774.40,1589.60 h-4.40 M1332.50,1589.60 h4.40 M774.40,1485.00 h-4.40 M1332.50,1485.00 h4.40 M774.40,1380.40 h-4.40 M1332.50,1380.40 h4.40 M774.40,1275.80 h-4.40 M1332.50,1275.80 h4.40 M774.40,1171.20 h-4.40 M1332.50,1171.20 h4.40" stroke="#000" stroke-width="2.4" fill="none"/>
<text transform="translate(845.74,1637.00) scale(1,1.015)" class="tl">-0.2</text>
<text transform="translate(1040.44,1637.00) scale(1,1.015)" class="tl">0</text>
<text transform="translate(1200.45,1637.00) scale(1,1.015)" class="tl">0.2</text>
<text transform="translate(700.38,1604.35) scale(1,1.015)" class="tl">-0.1</text>
<text transform="translate(683.69,1499.75) scale(1,1.015)" class="tl">-0.05</text>
<text transform="translate(743.89,1395.15) scale(1,1.015)" class="tl">0</text>
<text transform="translate(695.32,1290.55) scale(1,1.015)" class="tl">0.05</text>
<text transform="translate(712.01,1185.95) scale(1,1.015)" class="tl">0.1</text>
<text transform="translate(811.03,1672.40) scale(1,1.020)" x="0" y="0" class="al" textLength="476.20" lengthAdjust="spacingAndGlyphs">Relative Humidity anomaly (%)</text>
<text transform="translate(736.01,1149.60) scale(1,1.000)" x="0" y="0" class="pl" textLength="36.02" lengthAdjust="spacingAndGlyphs">(f)</text>
<text transform="translate(782.34,1210.80) scale(1,1.020)" x="0" y="0" class="il" textLength="215.25" lengthAdjust="spacingAndGlyphs">Mixed Sex H-FT</text>
<circle cx="1337.2" cy="369.6" r="1.1" fill="#000"/>
<circle cx="1335.0" cy="598.3" r="1.0" fill="#000"/>
</svg>
</body></html>
